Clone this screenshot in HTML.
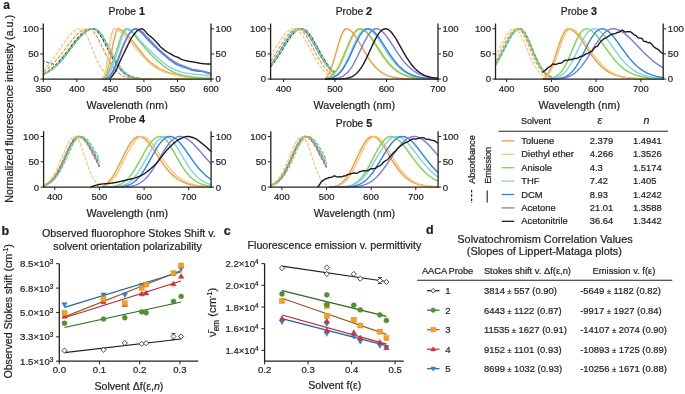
<!DOCTYPE html>
<html><head><meta charset="utf-8"><style>
html,body{margin:0;padding:0;background:#fff;}
svg{display:block;font-family:"Liberation Sans",sans-serif;will-change:transform;}
</style></head><body>
<svg width="685" height="394" viewBox="0 0 685 394">
<rect width="685" height="394" fill="#fff"/>
<text x="3.20" y="9.30" font-size="12" font-weight="bold" fill="#231f20" stroke="#231f20" stroke-width="0.22">a</text>
<text x="12.90" y="108.80" font-size="10.7" text-anchor="middle" fill="#231f20" stroke="#231f20" stroke-width="0.22" transform="rotate(-90 12.9 108.8)">Normalized fluorescence intensity (a.u.)</text>
<path d="M43.3,74.0 L44.3,73.5 L45.3,73.0 L46.3,72.4 L47.3,71.8 L48.4,71.2 L49.4,70.5 L50.4,69.8 L51.4,69.0 L52.4,68.2 L53.4,67.3 L54.4,66.4 L55.4,65.4 L56.4,64.4 L57.4,63.4 L58.5,62.3 L59.5,61.2 L60.5,60.0 L61.5,58.8 L62.5,57.6 L63.5,56.4 L64.5,55.1 L65.5,53.8 L66.5,52.5 L67.5,51.1 L68.6,49.8 L69.6,48.4 L70.6,47.1 L71.6,45.7 L72.6,44.4 L73.6,43.1 L74.6,41.8 L75.6,40.5 L76.6,39.3 L77.6,38.1 L78.7,37.0 L79.7,35.9 L80.7,34.9 L81.7,33.9 L82.7,33.0 L83.7,32.2 L84.7,31.5 L85.7,30.8 L86.7,30.3 L87.8,29.8 L88.8,29.4 L89.8,29.1 L90.8,28.9 L91.8,28.8 L92.8,28.8 L93.8,29.1 L94.8,29.5 L95.8,30.1 L96.8,31.0 L97.9,32.0 L98.9,33.2 L99.9,34.5 L100.9,36.1 L101.9,37.7 L102.9,39.4 L103.9,41.3 L104.9,43.2 L105.9,45.1 L106.9,47.1 L108.0,49.1 L109.0,51.1 L110.0,53.0 L111.0,55.0 L112.0,56.9 L113.0,58.7 L114.0,60.4 L115.0,62.1 L116.0,63.7 L117.0,65.2 L118.1,66.6 L119.1,67.9 L120.1,69.2 L121.1,70.3 L122.1,71.3 L123.1,72.2 L124.1,73.1 L125.1,73.8 L126.1,74.5 L127.1,75.1 L128.2,75.7 L129.2,76.2 L130.2,76.6 L131.2,77.0 L132.2,77.3 L133.2,77.6 L134.2,77.8 L135.2,78.0 L136.2,78.2 L137.3,78.3 L138.3,78.5 L139.3,78.6 L140.3,78.7 L141.3,78.7 L142.3,78.8 L143.3,78.8 L144.3,78.9 L145.3,78.9 L146.3,78.9 L147.4,79.0 L148.4,79.0 L149.4,79.0 L150.4,79.0 L151.4,79.0 L152.4,79.0 L153.4,79.0 L154.4,79.0 L155.4,79.0 L156.4,79.0 L157.5,79.0 L158.5,79.0 L159.5,79.0 L160.5,79.0 L161.5,79.0 L162.5,79.0 L163.5,79.0 L164.5,79.0 L165.5,79.0 L166.5,79.0 L167.6,79.0 L168.6,79.0 L169.6,79.0 L170.6,79.0 L171.6,79.0 L172.6,79.0 L173.6,79.0 L174.6,79.0 L175.6,79.0 L176.7,79.0 L177.7,79.0 L178.7,79.0 L179.7,79.0 L180.7,79.0 L181.7,79.0 L182.7,79.0 L183.7,79.0 L184.7,79.0 L185.7,79.0 L186.8,79.0 L187.8,79.0 L188.8,79.0 L189.8,79.0 L190.8,79.0 L191.8,79.0 L192.8,79.0 L193.8,79.0 L194.8,79.0 L195.8,79.0 L196.9,79.0 L197.9,79.0 L198.9,79.0 L199.9,79.0 L200.9,79.0 L201.9,79.0 L202.9,79.0 L203.9,79.0 L204.9,79.0 L205.9,79.0 L207.0,79.0 L208.0,79.0 L209.0,79.0 L210.0,79.0 L211.0,79.0" fill="none" stroke="#1a1a1a" stroke-width="1.3" stroke-dasharray="3.4,1.5" stroke-dashoffset="0.0"/>
<path d="M43.3,74.6 L44.3,74.2 L45.3,73.7 L46.3,73.2 L47.3,72.6 L48.4,72.0 L49.4,71.4 L50.4,70.7 L51.4,70.0 L52.4,69.2 L53.4,68.4 L54.4,67.6 L55.4,66.7 L56.4,65.7 L57.4,64.8 L58.5,63.7 L59.5,62.7 L60.5,61.6 L61.5,60.4 L62.5,59.2 L63.5,58.0 L64.5,56.8 L65.5,55.5 L66.5,54.2 L67.5,52.9 L68.6,51.6 L69.6,50.2 L70.6,48.9 L71.6,47.5 L72.6,46.2 L73.6,44.8 L74.6,43.5 L75.6,42.2 L76.6,41.0 L77.6,39.7 L78.7,38.5 L79.7,37.4 L80.7,36.3 L81.7,35.2 L82.7,34.2 L83.7,33.3 L84.7,32.5 L85.7,31.7 L86.7,31.0 L87.8,30.4 L88.8,29.9 L89.8,29.5 L90.8,29.2 L91.8,29.0 L92.8,28.8 L93.8,28.8 L94.8,29.0 L95.8,29.4 L96.8,30.0 L97.9,30.8 L98.9,31.9 L99.9,33.1 L100.9,34.5 L101.9,36.1 L102.9,37.8 L103.9,39.7 L104.9,41.6 L105.9,43.6 L106.9,45.6 L108.0,47.7 L109.0,49.8 L110.0,51.9 L111.0,53.9 L112.0,55.9 L113.0,57.9 L114.0,59.7 L115.0,61.5 L116.0,63.2 L117.0,64.8 L118.1,66.3 L119.1,67.7 L120.1,69.0 L121.1,70.2 L122.1,71.3 L123.1,72.2 L124.1,73.1 L125.1,73.9 L126.1,74.6 L127.1,75.3 L128.2,75.8 L129.2,76.3 L130.2,76.7 L131.2,77.1 L132.2,77.4 L133.2,77.7 L134.2,77.9 L135.2,78.1 L136.2,78.3 L137.3,78.4 L138.3,78.5 L139.3,78.6 L140.3,78.7 L141.3,78.8 L142.3,78.8 L143.3,78.9 L144.3,78.9 L145.3,78.9 L146.3,79.0 L147.4,79.0 L148.4,79.0 L149.4,79.0 L150.4,79.0 L151.4,79.0 L152.4,79.0 L153.4,79.0 L154.4,79.0 L155.4,79.0 L156.4,79.0 L157.5,79.0 L158.5,79.0 L159.5,79.0 L160.5,79.0 L161.5,79.0 L162.5,79.0 L163.5,79.0 L164.5,79.0 L165.5,79.0 L166.5,79.0 L167.6,79.0 L168.6,79.0 L169.6,79.0 L170.6,79.0 L171.6,79.0 L172.6,79.0 L173.6,79.0 L174.6,79.0 L175.6,79.0 L176.7,79.0 L177.7,79.0 L178.7,79.0 L179.7,79.0 L180.7,79.0 L181.7,79.0 L182.7,79.0 L183.7,79.0 L184.7,79.0 L185.7,79.0 L186.8,79.0 L187.8,79.0 L188.8,79.0 L189.8,79.0 L190.8,79.0 L191.8,79.0 L192.8,79.0 L193.8,79.0 L194.8,79.0 L195.8,79.0 L196.9,79.0 L197.9,79.0 L198.9,79.0 L199.9,79.0 L200.9,79.0 L201.9,79.0 L202.9,79.0 L203.9,79.0 L204.9,79.0 L205.9,79.0 L207.0,79.0 L208.0,79.0 L209.0,79.0 L210.0,79.0 L211.0,79.0" fill="none" stroke="#7b78e6" stroke-width="1.3" stroke-dasharray="3.4,1.5" stroke-dashoffset="0.9"/>
<path d="M43.3,61.0 L44.3,61.3 L45.3,61.6 L46.3,62.0 L47.3,62.3 L48.4,62.7 L49.4,63.0 L50.4,63.3 L51.4,63.7 L52.4,64.0 L53.4,64.4 L54.4,64.7 L55.4,65.0 L56.4,65.4 L57.4,64.8 L58.5,63.7 L59.5,62.7 L60.5,61.6 L61.5,60.4 L62.5,59.2 L63.5,58.0 L64.5,56.8 L65.5,55.5 L66.5,54.2 L67.5,52.9 L68.6,51.6 L69.6,50.2 L70.6,48.9 L71.6,47.5 L72.6,46.2 L73.6,44.8 L74.6,43.5 L75.6,42.2 L76.6,41.0 L77.6,39.7 L78.7,38.5 L79.7,37.4 L80.7,36.3 L81.7,35.2 L82.7,34.2 L83.7,33.3 L84.7,32.5 L85.7,31.7 L86.7,31.0 L87.8,30.4 L88.8,29.9 L89.8,29.5 L90.8,29.2 L91.8,29.0 L92.8,28.8 L93.8,28.8 L94.8,29.0 L95.8,29.3 L96.8,29.9 L97.9,30.7 L98.9,31.6 L99.9,32.8 L100.9,34.1 L101.9,35.5 L102.9,37.1 L103.9,38.8 L104.9,40.6 L105.9,42.5 L106.9,44.5 L108.0,46.4 L109.0,48.4 L110.0,50.4 L111.0,52.4 L112.0,54.3 L113.0,56.3 L114.0,58.1 L115.0,59.9 L116.0,61.6 L117.0,63.2 L118.1,64.7 L119.1,66.2 L120.1,67.5 L121.1,68.8 L122.1,69.9 L123.1,71.0 L124.1,71.9 L125.1,72.8 L126.1,73.6 L127.1,74.3 L128.2,75.0 L129.2,75.5 L130.2,76.0 L131.2,76.5 L132.2,76.8 L133.2,77.2 L134.2,77.5 L135.2,77.7 L136.2,77.9 L137.3,78.1 L138.3,78.3 L139.3,78.4 L140.3,78.5 L141.3,78.6 L142.3,78.7 L143.3,78.8 L144.3,78.8 L145.3,78.9 L146.3,78.9 L147.4,78.9 L148.4,79.0 L149.4,79.0 L150.4,79.0 L151.4,79.0 L152.4,79.0 L153.4,79.0 L154.4,79.0 L155.4,79.0 L156.4,79.0 L157.5,79.0 L158.5,79.0 L159.5,79.0 L160.5,79.0 L161.5,79.0 L162.5,79.0 L163.5,79.0 L164.5,79.0 L165.5,79.0 L166.5,79.0 L167.6,79.0 L168.6,79.0 L169.6,79.0 L170.6,79.0 L171.6,79.0 L172.6,79.0 L173.6,79.0 L174.6,79.0 L175.6,79.0 L176.7,79.0 L177.7,79.0 L178.7,79.0 L179.7,79.0 L180.7,79.0 L181.7,79.0 L182.7,79.0 L183.7,79.0 L184.7,79.0 L185.7,79.0 L186.8,79.0 L187.8,79.0 L188.8,79.0 L189.8,79.0 L190.8,79.0 L191.8,79.0 L192.8,79.0 L193.8,79.0 L194.8,79.0 L195.8,79.0 L196.9,79.0 L197.9,79.0 L198.9,79.0 L199.9,79.0 L200.9,79.0 L201.9,79.0 L202.9,79.0 L203.9,79.0 L204.9,79.0 L205.9,79.0 L207.0,79.0 L208.0,79.0 L209.0,79.0 L210.0,79.0 L211.0,79.0" fill="none" stroke="#2d84dc" stroke-width="1.3" stroke-dasharray="3.4,1.5" stroke-dashoffset="1.8"/>
<path d="M43.3,74.3 L44.3,73.9 L45.3,73.4 L46.3,72.8 L47.3,72.2 L48.4,71.6 L49.4,71.0 L50.4,70.2 L51.4,69.5 L52.4,68.7 L53.4,67.9 L54.4,67.0 L55.4,66.1 L56.4,65.1 L57.4,64.1 L58.5,63.0 L59.5,61.9 L60.5,60.8 L61.5,59.6 L62.5,58.4 L63.5,57.2 L64.5,55.9 L65.5,54.6 L66.5,53.3 L67.5,52.0 L68.6,50.7 L69.6,49.3 L70.6,48.0 L71.6,46.6 L72.6,45.3 L73.6,44.0 L74.6,42.7 L75.6,41.4 L76.6,40.1 L77.6,38.9 L78.7,37.7 L79.7,36.6 L80.7,35.6 L81.7,34.6 L82.7,33.6 L83.7,32.8 L84.7,32.0 L85.7,31.2 L86.7,30.6 L87.8,30.1 L88.8,29.6 L89.8,29.3 L90.8,29.0 L91.8,28.9 L92.8,28.8 L93.8,28.9 L94.8,29.2 L95.8,29.7 L96.8,30.4 L97.9,31.3 L98.9,32.4 L99.9,33.6 L100.9,35.0 L101.9,36.6 L102.9,38.3 L103.9,40.0 L104.9,41.9 L105.9,43.8 L106.9,45.8 L108.0,47.8 L109.0,49.8 L110.0,51.7 L111.0,53.7 L112.0,55.6 L113.0,57.5 L114.0,59.3 L115.0,61.0 L116.0,62.7 L117.0,64.2 L118.1,65.7 L119.1,67.1 L120.1,68.4 L121.1,69.5 L122.1,70.6 L123.1,71.6 L124.1,72.5 L125.1,73.4 L126.1,74.1 L127.1,74.8 L128.2,75.3 L129.2,75.9 L130.2,76.3 L131.2,76.7 L132.2,77.1 L133.2,77.4 L134.2,77.6 L135.2,77.9 L136.2,78.1 L137.3,78.2 L138.3,78.4 L139.3,78.5 L140.3,78.6 L141.3,78.7 L142.3,78.7 L143.3,78.8 L144.3,78.9 L145.3,78.9 L146.3,78.9 L147.4,79.0 L148.4,79.0 L149.4,79.0 L150.4,79.0 L151.4,79.0 L152.4,79.0 L153.4,79.0 L154.4,79.0 L155.4,79.0 L156.4,79.0 L157.5,79.0 L158.5,79.0 L159.5,79.0 L160.5,79.0 L161.5,79.0 L162.5,79.0 L163.5,79.0 L164.5,79.0 L165.5,79.0 L166.5,79.0 L167.6,79.0 L168.6,79.0 L169.6,79.0 L170.6,79.0 L171.6,79.0 L172.6,79.0 L173.6,79.0 L174.6,79.0 L175.6,79.0 L176.7,79.0 L177.7,79.0 L178.7,79.0 L179.7,79.0 L180.7,79.0 L181.7,79.0 L182.7,79.0 L183.7,79.0 L184.7,79.0 L185.7,79.0 L186.8,79.0 L187.8,79.0 L188.8,79.0 L189.8,79.0 L190.8,79.0 L191.8,79.0 L192.8,79.0 L193.8,79.0 L194.8,79.0 L195.8,79.0 L196.9,79.0 L197.9,79.0 L198.9,79.0 L199.9,79.0 L200.9,79.0 L201.9,79.0 L202.9,79.0 L203.9,79.0 L204.9,79.0 L205.9,79.0 L207.0,79.0 L208.0,79.0 L209.0,79.0 L210.0,79.0 L211.0,79.0" fill="none" stroke="#7fcff2" stroke-width="1.3" stroke-dasharray="3.4,1.5" stroke-dashoffset="2.7"/>
<path d="M43.3,74.3 L44.3,73.8 L45.3,73.3 L46.3,72.8 L47.3,72.2 L48.4,71.6 L49.4,71.0 L50.4,70.3 L51.4,69.6 L52.4,68.8 L53.4,68.0 L54.4,67.2 L55.4,66.3 L56.4,65.3 L57.4,64.4 L58.5,63.4 L59.5,62.3 L60.5,61.2 L61.5,60.1 L62.5,59.0 L63.5,57.8 L64.5,56.6 L65.5,55.3 L66.5,54.1 L67.5,52.8 L68.6,51.5 L69.6,50.2 L70.6,48.9 L71.6,47.6 L72.6,46.2 L73.6,44.9 L74.6,43.7 L75.6,42.4 L76.6,41.2 L77.6,40.0 L78.7,38.8 L79.7,37.6 L80.7,36.6 L81.7,35.5 L82.7,34.6 L83.7,33.6 L84.7,32.8 L85.7,32.0 L86.7,31.3 L87.8,30.7 L88.8,30.2 L89.8,29.7 L90.8,29.4 L91.8,29.1 L92.8,28.9 L93.8,28.8 L94.8,28.8 L95.8,29.1 L96.8,29.5 L97.9,30.1 L98.9,31.0 L99.9,32.0 L100.9,33.2 L101.9,34.6 L102.9,36.1 L103.9,37.7 L104.9,39.4 L105.9,41.3 L106.9,43.2 L108.0,45.1 L109.0,47.1 L110.0,49.1 L111.0,51.1 L112.0,53.1 L113.0,55.0 L114.0,56.9 L115.0,58.7 L116.0,60.5 L117.0,62.1 L118.1,63.7 L119.1,65.2 L120.1,66.6 L121.1,67.9 L122.1,69.2 L123.1,70.3 L124.1,71.3 L125.1,72.2 L126.1,73.1 L127.1,73.9 L128.2,74.5 L129.2,75.2 L130.2,75.7 L131.2,76.2 L132.2,76.6 L133.2,77.0 L134.2,77.3 L135.2,77.6 L136.2,77.8 L137.3,78.0 L138.3,78.2 L139.3,78.3 L140.3,78.5 L141.3,78.6 L142.3,78.7 L143.3,78.7 L144.3,78.8 L145.3,78.8 L146.3,78.9 L147.4,78.9 L148.4,78.9 L149.4,79.0 L150.4,79.0 L151.4,79.0 L152.4,79.0 L153.4,79.0 L154.4,79.0 L155.4,79.0 L156.4,79.0 L157.5,79.0 L158.5,79.0 L159.5,79.0 L160.5,79.0 L161.5,79.0 L162.5,79.0 L163.5,79.0 L164.5,79.0 L165.5,79.0 L166.5,79.0 L167.6,79.0 L168.6,79.0 L169.6,79.0 L170.6,79.0 L171.6,79.0 L172.6,79.0 L173.6,79.0 L174.6,79.0 L175.6,79.0 L176.7,79.0 L177.7,79.0 L178.7,79.0 L179.7,79.0 L180.7,79.0 L181.7,79.0 L182.7,79.0 L183.7,79.0 L184.7,79.0 L185.7,79.0 L186.8,79.0 L187.8,79.0 L188.8,79.0 L189.8,79.0 L190.8,79.0 L191.8,79.0 L192.8,79.0 L193.8,79.0 L194.8,79.0 L195.8,79.0 L196.9,79.0 L197.9,79.0 L198.9,79.0 L199.9,79.0 L200.9,79.0 L201.9,79.0 L202.9,79.0 L203.9,79.0 L204.9,79.0 L205.9,79.0 L207.0,79.0 L208.0,79.0 L209.0,79.0 L210.0,79.0 L211.0,79.0" fill="none" stroke="#78d64b" stroke-width="1.3" stroke-dasharray="3.4,1.5" stroke-dashoffset="3.6"/>
<path d="M43.3,71.8 L44.3,71.2 L45.3,70.5 L46.3,69.8 L47.3,69.0 L48.4,68.2 L49.4,67.3 L50.4,66.4 L51.4,65.4 L52.4,64.4 L53.4,63.4 L54.4,62.3 L55.4,61.2 L56.4,60.1 L57.4,58.9 L58.5,57.6 L59.5,56.4 L60.5,55.1 L61.5,53.8 L62.5,52.5 L63.5,51.1 L64.5,49.8 L65.5,48.5 L66.5,47.1 L67.5,45.8 L68.6,44.4 L69.6,43.1 L70.6,41.8 L71.6,40.6 L72.6,39.3 L73.6,38.2 L74.6,37.0 L75.6,35.9 L76.6,34.9 L77.6,33.9 L78.7,33.0 L79.7,32.2 L80.7,31.5 L81.7,30.8 L82.7,30.3 L83.7,29.8 L84.7,29.4 L85.7,29.1 L86.7,28.9 L87.8,28.8 L88.8,28.8 L89.8,29.1 L90.8,29.5 L91.8,30.2 L92.8,31.1 L93.8,32.3 L94.8,33.6 L95.8,35.0 L96.8,36.6 L97.9,38.4 L98.9,40.3 L99.9,42.2 L100.9,44.2 L101.9,46.3 L102.9,48.4 L103.9,50.5 L104.9,52.5 L105.9,54.6 L106.9,56.5 L108.0,58.5 L109.0,60.3 L110.0,62.1 L111.0,63.7 L112.0,65.3 L113.0,66.8 L114.0,68.1 L115.0,69.4 L116.0,70.5 L117.0,71.6 L118.1,72.5 L119.1,73.4 L120.1,74.1 L121.1,74.8 L122.1,75.4 L123.1,76.0 L124.1,76.4 L125.1,76.8 L126.1,77.2 L127.1,77.5 L128.2,77.8 L129.2,78.0 L130.2,78.2 L131.2,78.3 L132.2,78.5 L133.2,78.6 L134.2,78.7 L135.2,78.7 L136.2,78.8 L137.3,78.8 L138.3,78.9 L139.3,78.9 L140.3,78.9 L141.3,79.0 L142.3,79.0 L143.3,79.0 L144.3,79.0 L145.3,79.0 L146.3,79.0 L147.4,79.0 L148.4,79.0 L149.4,79.0 L150.4,79.0 L151.4,79.0 L152.4,79.0 L153.4,79.0 L154.4,79.0 L155.4,79.0 L156.4,79.0 L157.5,79.0 L158.5,79.0 L159.5,79.0 L160.5,79.0 L161.5,79.0 L162.5,79.0 L163.5,79.0 L164.5,79.0 L165.5,79.0 L166.5,79.0 L167.6,79.0 L168.6,79.0 L169.6,79.0 L170.6,79.0 L171.6,79.0 L172.6,79.0 L173.6,79.0 L174.6,79.0 L175.6,79.0 L176.7,79.0 L177.7,79.0 L178.7,79.0 L179.7,79.0 L180.7,79.0 L181.7,79.0 L182.7,79.0 L183.7,79.0 L184.7,79.0 L185.7,79.0 L186.8,79.0 L187.8,79.0 L188.8,79.0 L189.8,79.0 L190.8,79.0 L191.8,79.0 L192.8,79.0 L193.8,79.0 L194.8,79.0 L195.8,79.0 L196.9,79.0 L197.9,79.0 L198.9,79.0 L199.9,79.0 L200.9,79.0 L201.9,79.0 L202.9,79.0 L203.9,79.0 L204.9,79.0 L205.9,79.0 L207.0,79.0 L208.0,79.0 L209.0,79.0 L210.0,79.0 L211.0,79.0" fill="none" stroke="#f29a3c" stroke-width="1.3" stroke-dasharray="3.4,1.5" stroke-dashoffset="4.5"/>
<path d="M43.3,69.7 L44.3,68.8 L45.3,67.9 L46.3,66.9 L47.3,65.8 L48.4,64.7 L49.4,63.5 L50.4,62.3 L51.4,61.0 L52.4,59.7 L53.4,58.3 L54.4,56.9 L55.4,55.5 L56.4,54.0 L57.4,52.5 L58.5,51.0 L59.5,49.5 L60.5,48.0 L61.5,46.4 L62.5,44.9 L63.5,43.4 L64.5,42.0 L65.5,40.5 L66.5,39.1 L67.5,37.8 L68.6,36.5 L69.6,35.3 L70.6,34.2 L71.6,33.2 L72.6,32.3 L73.6,31.4 L74.6,30.7 L75.6,30.1 L76.6,29.6 L77.6,29.2 L78.7,28.9 L79.7,28.8 L80.7,28.8 L81.7,29.2 L82.7,29.9 L83.7,30.9 L84.7,32.2 L85.7,33.8 L86.7,35.7 L87.8,37.7 L88.8,40.0 L89.8,42.4 L90.8,44.8 L91.8,47.4 L92.8,49.9 L93.8,52.4 L94.8,54.9 L95.8,57.3 L96.8,59.6 L97.9,61.8 L98.9,63.8 L99.9,65.7 L100.9,67.5 L101.9,69.1 L102.9,70.5 L103.9,71.8 L104.9,72.9 L105.9,73.9 L106.9,74.7 L108.0,75.5 L109.0,76.1 L110.0,76.7 L111.0,77.1 L112.0,77.5 L113.0,77.8 L114.0,78.1 L115.0,78.3 L116.0,78.4 L117.0,78.6 L118.1,78.7 L119.1,78.8 L120.1,78.8 L121.1,78.9 L122.1,78.9 L123.1,79.0 L124.1,79.0 L125.1,79.0 L126.1,79.0 L127.1,79.0 L128.2,79.0 L129.2,79.0 L130.2,79.0 L131.2,79.0 L132.2,79.0 L133.2,79.0 L134.2,79.0 L135.2,79.0 L136.2,79.0 L137.3,79.0 L138.3,79.0 L139.3,79.0 L140.3,79.0 L141.3,79.0 L142.3,79.0 L143.3,79.0 L144.3,79.0 L145.3,79.0 L146.3,79.0 L147.4,79.0 L148.4,79.0 L149.4,79.0 L150.4,79.0 L151.4,79.0 L152.4,79.0 L153.4,79.0 L154.4,79.0 L155.4,79.0 L156.4,79.0 L157.5,79.0 L158.5,79.0 L159.5,79.0 L160.5,79.0 L161.5,79.0 L162.5,79.0 L163.5,79.0 L164.5,79.0 L165.5,79.0 L166.5,79.0 L167.6,79.0 L168.6,79.0 L169.6,79.0 L170.6,79.0 L171.6,79.0 L172.6,79.0 L173.6,79.0 L174.6,79.0 L175.6,79.0 L176.7,79.0 L177.7,79.0 L178.7,79.0 L179.7,79.0 L180.7,79.0 L181.7,79.0 L182.7,79.0 L183.7,79.0 L184.7,79.0 L185.7,79.0 L186.8,79.0 L187.8,79.0 L188.8,79.0 L189.8,79.0 L190.8,79.0 L191.8,79.0 L192.8,79.0 L193.8,79.0 L194.8,79.0 L195.8,79.0 L196.9,79.0 L197.9,79.0 L198.9,79.0 L199.9,79.0 L200.9,79.0 L201.9,79.0 L202.9,79.0 L203.9,79.0 L204.9,79.0 L205.9,79.0 L207.0,79.0 L208.0,79.0 L209.0,79.0 L210.0,79.0 L211.0,79.0" fill="none" stroke="#f6c878" stroke-width="1.3" stroke-dasharray="3.4,1.5" stroke-dashoffset="5.4"/>
<path d="M101.66,79.05 L102.50,78.88 L103.34,78.42 L104.18,77.71 L105.02,76.82 L105.86,75.78 L106.71,73.80 L107.55,70.84 L108.39,67.28 L109.23,63.53 L110.07,59.86 L110.91,55.64 L111.75,51.06 L112.59,46.57 L113.43,42.58 L114.28,39.18 L115.12,35.64 L115.96,32.38 L116.80,29.93 L117.64,28.82 L118.48,28.87 L119.32,29.10 L120.16,29.47 L121.00,29.93 L121.85,30.47 L122.69,31.05 L123.53,31.63 L124.37,32.23 L125.21,32.95 L126.05,33.77 L126.89,34.66 L127.73,35.62 L128.57,36.60 L129.42,37.59 L130.26,38.57 L131.10,39.53 L131.94,40.51 L132.78,41.52 L133.62,42.54 L134.46,43.59 L135.30,44.64 L136.14,45.70 L136.98,46.77 L137.83,47.83 L138.67,48.88 L139.51,49.93 L140.35,50.97 L141.19,52.04 L142.03,53.14 L142.87,54.24 L143.71,55.32 L144.55,56.39 L145.40,57.41 L146.24,58.37 L147.08,59.26 L147.92,60.07 L148.76,60.85 L149.60,61.59 L150.44,62.30 L151.28,62.98 L152.12,63.64 L152.97,64.27 L153.81,64.88 L154.65,65.48 L155.49,66.06 L156.33,66.64 L157.17,67.21 L158.01,67.75 L158.85,68.28 L159.69,68.78 L160.54,69.25 L161.38,69.69 L162.22,70.09 L163.06,70.46 L163.90,70.81 L164.74,71.14 L165.58,71.45 L166.42,71.75 L167.26,72.05 L168.10,72.33 L168.95,72.61 L169.79,72.90 L170.63,73.18 L171.47,73.46 L172.31,73.73 L173.15,74.00 L173.99,74.26 L174.83,74.51 L175.67,74.74 L176.52,74.96 L177.36,75.17 L178.20,75.37 L179.04,75.56 L179.88,75.75 L180.72,75.92 L181.56,76.09 L182.40,76.25 L183.24,76.39 L184.09,76.53 L184.93,76.65 L185.77,76.77 L186.61,76.89 L187.45,77.01 L188.29,77.12 L189.13,77.23 L189.97,77.34 L190.81,77.44 L191.66,77.54 L192.50,77.63 L193.34,77.71 L194.18,77.79 L195.02,77.87 L195.86,77.93 L196.70,77.99 L197.54,78.04 L198.38,78.09 L199.22,78.14 L200.07,78.18 L200.91,78.23 L201.75,78.27 L202.59,78.31 L203.43,78.35 L204.27,78.39 L205.11,78.42 L205.95,78.45 L206.79,78.48 L207.64,78.50 L208.48,78.52 L209.32,78.54 L210.16,78.54 L211.00,78.55" fill="none" stroke="#f29a3c" stroke-width="1.4" stroke-linejoin="round"/>
<path d="M100.99,79.05 L101.83,78.72 L102.67,77.84 L103.51,76.55 L104.35,75.02 L105.19,72.44 L106.03,68.35 L106.87,63.33 L107.71,57.98 L108.55,52.82 L109.39,46.76 L110.23,40.62 L111.07,36.29 L111.91,33.50 L112.75,31.09 L113.59,29.41 L114.43,28.80 L115.27,28.89 L116.10,29.14 L116.94,29.52 L117.78,30.00 L118.62,30.55 L119.46,31.15 L120.30,31.75 L121.14,32.34 L121.98,32.96 L122.82,33.65 L123.66,34.42 L124.50,35.24 L125.34,36.11 L126.18,37.02 L127.02,37.95 L127.86,38.90 L128.70,39.85 L129.54,40.80 L130.38,41.73 L131.22,42.66 L132.06,43.61 L132.90,44.59 L133.74,45.59 L134.58,46.60 L135.42,47.61 L136.26,48.63 L137.10,49.64 L137.94,50.65 L138.78,51.64 L139.62,52.61 L140.46,53.56 L141.30,54.52 L142.14,55.48 L142.98,56.44 L143.82,57.38 L144.66,58.30 L145.50,59.20 L146.34,60.05 L147.18,60.87 L148.02,61.65 L148.86,62.41 L149.70,63.15 L150.54,63.88 L151.38,64.57 L152.22,65.24 L153.06,65.88 L153.89,66.48 L154.73,67.04 L155.57,67.58 L156.41,68.10 L157.25,68.60 L158.09,69.08 L158.93,69.54 L159.77,69.97 L160.61,70.38 L161.45,70.76 L162.29,71.12 L163.13,71.46 L163.97,71.78 L164.81,72.08 L165.65,72.38 L166.49,72.65 L167.33,72.92 L168.17,73.17 L169.01,73.41 L169.85,73.64 L170.69,73.87 L171.53,74.09 L172.37,74.31 L173.21,74.53 L174.05,74.74 L174.89,74.94 L175.73,75.14 L176.57,75.34 L177.41,75.53 L178.25,75.71 L179.09,75.89 L179.93,76.05 L180.77,76.22 L181.61,76.37 L182.45,76.52 L183.29,76.65 L184.13,76.78 L184.97,76.91 L185.81,77.03 L186.65,77.15 L187.49,77.26 L188.33,77.38 L189.17,77.49 L190.01,77.59 L190.85,77.69 L191.69,77.79 L192.52,77.88 L193.36,77.97 L194.20,78.05 L195.04,78.12 L195.88,78.18 L196.72,78.24 L197.56,78.30 L198.40,78.34 L199.24,78.39 L200.08,78.44 L200.92,78.48 L201.76,78.52 L202.60,78.57 L203.44,78.60 L204.28,78.64 L205.12,78.68 L205.96,78.71 L206.80,78.73 L207.64,78.76 L208.48,78.77 L209.32,78.79 L210.16,78.80 L211.00,78.80" fill="none" stroke="#f6c878" stroke-width="1.4" stroke-linejoin="round"/>
<path d="M102.33,79.05 L103.17,78.80 L104.02,78.28 L104.86,77.54 L105.70,76.64 L106.54,75.63 L107.38,74.53 L108.23,72.98 L109.07,71.04 L109.91,68.84 L110.75,66.55 L111.60,64.30 L112.44,62.10 L113.28,59.82 L114.12,57.47 L114.97,55.06 L115.81,52.62 L116.65,50.17 L117.49,47.68 L118.34,44.98 L119.18,42.17 L120.02,39.45 L120.86,37.00 L121.71,34.99 L122.55,33.27 L123.39,31.57 L124.23,30.11 L125.08,29.11 L125.92,28.80 L126.76,28.94 L127.60,29.26 L128.44,29.73 L129.29,30.30 L130.13,30.95 L130.97,31.63 L131.81,32.29 L132.66,33.01 L133.50,33.85 L134.34,34.79 L135.18,35.81 L136.03,36.89 L136.87,38.00 L137.71,39.11 L138.55,40.21 L139.40,41.27 L140.24,42.27 L141.08,43.26 L141.92,44.26 L142.77,45.25 L143.61,46.24 L144.45,47.23 L145.29,48.20 L146.14,49.15 L146.98,50.08 L147.82,51.00 L148.66,51.90 L149.50,52.79 L150.35,53.67 L151.19,54.53 L152.03,55.39 L152.87,56.22 L153.72,57.05 L154.56,57.86 L155.40,58.65 L156.24,59.44 L157.09,60.21 L157.93,60.97 L158.77,61.72 L159.61,62.45 L160.46,63.17 L161.30,63.88 L162.14,64.57 L162.98,65.25 L163.83,65.94 L164.67,66.62 L165.51,67.29 L166.35,67.94 L167.20,68.56 L168.04,69.14 L168.88,69.69 L169.72,70.19 L170.56,70.66 L171.41,71.12 L172.25,71.56 L173.09,71.98 L173.93,72.37 L174.78,72.74 L175.62,73.09 L176.46,73.41 L177.30,73.70 L178.15,73.97 L178.99,74.24 L179.83,74.48 L180.67,74.72 L181.52,74.94 L182.36,75.14 L183.20,75.33 L184.04,75.51 L184.89,75.67 L185.73,75.84 L186.57,76.00 L187.41,76.16 L188.26,76.32 L189.10,76.47 L189.94,76.62 L190.78,76.76 L191.62,76.89 L192.47,77.01 L193.31,77.13 L194.15,77.23 L194.99,77.33 L195.84,77.41 L196.68,77.48 L197.52,77.54 L198.36,77.59 L199.21,77.64 L200.05,77.69 L200.89,77.73 L201.73,77.78 L202.58,77.82 L203.42,77.86 L204.26,77.89 L205.10,77.93 L205.95,77.96 L206.79,77.98 L207.63,78.00 L208.47,78.02 L209.32,78.03 L210.16,78.04 L211.00,78.05" fill="none" stroke="#78d64b" stroke-width="1.4" stroke-linejoin="round"/>
<path d="M103.67,79.05 L104.52,78.74 L105.36,78.20 L106.21,77.46 L107.05,76.58 L107.90,75.60 L108.74,74.53 L109.59,73.10 L110.43,71.35 L111.28,69.35 L112.12,67.20 L112.97,64.97 L113.81,62.76 L114.66,60.45 L115.50,57.96 L116.35,55.35 L117.19,52.70 L118.04,50.08 L118.88,47.49 L119.73,44.69 L120.57,41.84 L121.42,39.11 L122.26,36.72 L123.11,34.86 L123.95,33.32 L124.80,31.83 L125.64,30.51 L126.49,29.49 L127.33,28.90 L128.18,28.82 L129.03,29.05 L129.87,29.48 L130.72,30.06 L131.56,30.75 L132.41,31.51 L133.25,32.28 L134.10,33.03 L134.94,33.91 L135.79,34.94 L136.63,36.06 L137.48,37.22 L138.32,38.38 L139.17,39.49 L140.01,40.49 L140.86,41.42 L141.70,42.32 L142.55,43.20 L143.39,44.06 L144.24,44.91 L145.08,45.74 L145.93,46.57 L146.77,47.40 L147.62,48.23 L148.46,49.06 L149.31,49.88 L150.15,50.70 L151.00,51.51 L151.84,52.31 L152.69,53.11 L153.53,53.90 L154.38,54.68 L155.22,55.45 L156.07,56.23 L156.91,57.00 L157.76,57.77 L158.60,58.53 L159.45,59.28 L160.29,60.01 L161.14,60.73 L161.98,61.42 L162.83,62.11 L163.67,62.80 L164.52,63.49 L165.36,64.16 L166.21,64.81 L167.05,65.44 L167.90,66.03 L168.74,66.59 L169.59,67.09 L170.44,67.57 L171.28,68.03 L172.13,68.47 L172.97,68.88 L173.82,69.28 L174.66,69.66 L175.51,70.01 L176.35,70.34 L177.20,70.66 L178.04,70.96 L178.89,71.25 L179.73,71.54 L180.58,71.80 L181.42,72.05 L182.27,72.29 L183.11,72.49 L183.96,72.68 L184.80,72.84 L185.65,72.99 L186.49,73.14 L187.34,73.28 L188.18,73.41 L189.03,73.53 L189.87,73.65 L190.72,73.76 L191.56,73.87 L192.41,73.98 L193.25,74.08 L194.10,74.17 L194.94,74.26 L195.79,74.35 L196.63,74.43 L197.48,74.52 L198.32,74.60 L199.17,74.68 L200.01,74.76 L200.86,74.83 L201.70,74.90 L202.55,74.98 L203.39,75.05 L204.24,75.11 L205.08,75.18 L205.93,75.24 L206.77,75.29 L207.62,75.35 L208.46,75.40 L209.31,75.45 L210.15,75.49 L211.00,75.53" fill="none" stroke="#7fcff2" stroke-width="1.4" stroke-linejoin="round"/>
<path d="M105.01,78.89 L105.85,78.75 L106.70,78.45 L107.54,77.96 L108.38,77.26 L109.22,76.39 L110.06,75.42 L110.90,74.35 L111.74,73.02 L112.58,71.45 L113.43,69.70 L114.27,67.84 L115.11,65.90 L115.95,63.93 L116.79,61.94 L117.63,59.94 L118.47,57.77 L119.31,55.52 L120.15,53.21 L121.00,50.90 L121.84,48.61 L122.68,46.40 L123.52,44.38 L124.36,42.59 L125.20,40.85 L126.04,39.19 L126.88,37.59 L127.72,36.05 L128.57,34.62 L129.41,33.33 L130.25,32.27 L131.09,31.43 L131.93,30.63 L132.77,29.90 L133.61,29.26 L134.45,28.78 L135.30,28.56 L136.14,28.67 L136.98,29.05 L137.82,29.64 L138.66,30.31 L139.50,30.98 L140.34,31.62 L141.18,32.36 L142.02,33.23 L142.87,34.18 L143.71,35.16 L144.55,36.13 L145.39,37.07 L146.23,37.99 L147.07,38.90 L147.91,39.77 L148.75,40.66 L149.60,41.54 L150.44,42.39 L151.28,43.21 L152.12,44.03 L152.96,44.87 L153.80,45.72 L154.64,46.54 L155.48,47.32 L156.32,48.09 L157.17,48.88 L158.01,49.69 L158.85,50.50 L159.69,51.29 L160.53,52.07 L161.37,52.84 L162.21,53.58 L163.05,54.24 L163.89,54.85 L164.74,55.46 L165.58,56.13 L166.42,56.88 L167.26,57.69 L168.10,58.48 L168.94,59.23 L169.78,59.90 L170.62,60.55 L171.47,61.19 L172.31,61.80 L173.15,62.39 L173.99,62.97 L174.83,63.55 L175.67,64.08 L176.51,64.51 L177.35,64.82 L178.19,65.09 L179.04,65.38 L179.88,65.73 L180.72,66.10 L181.56,66.46 L182.40,66.80 L183.24,67.13 L184.08,67.43 L184.92,67.71 L185.77,67.93 L186.61,68.10 L187.45,68.27 L188.29,68.51 L189.13,68.87 L189.97,69.32 L190.81,69.79 L191.65,70.16 L192.49,70.41 L193.34,70.56 L194.18,70.66 L195.02,70.76 L195.86,70.89 L196.70,71.06 L197.54,71.20 L198.38,71.27 L199.22,71.28 L200.06,71.28 L200.91,71.33 L201.75,71.44 L202.59,71.59 L203.43,71.76 L204.27,71.95 L205.11,72.20 L205.95,72.51 L206.79,72.84 L207.64,73.11 L208.48,73.31 L209.32,73.49 L210.16,73.71 L211.00,73.97" fill="none" stroke="#2d84dc" stroke-width="1.4" stroke-linejoin="round"/>
<path d="M105.68,79.28 L106.53,78.98 L107.37,78.46 L108.21,77.79 L109.05,76.99 L109.90,76.11 L110.74,75.19 L111.58,74.21 L112.42,73.00 L113.27,71.54 L114.11,69.85 L114.95,67.95 L115.79,65.90 L116.64,63.80 L117.48,61.75 L118.32,59.74 L119.16,57.60 L120.01,55.36 L120.85,53.04 L121.69,50.68 L122.53,48.32 L123.38,46.04 L124.22,43.95 L125.06,42.09 L125.90,40.33 L126.75,38.66 L127.59,37.06 L128.43,35.55 L129.28,34.15 L130.12,32.91 L130.96,31.89 L131.80,31.08 L132.65,30.32 L133.49,29.70 L134.33,29.25 L135.17,29.03 L136.02,29.02 L136.86,29.17 L137.70,29.39 L138.54,29.66 L139.39,29.99 L140.23,30.37 L141.07,30.82 L141.91,31.46 L142.76,32.28 L143.60,33.22 L144.44,34.22 L145.28,35.20 L146.13,36.13 L146.97,36.98 L147.81,37.76 L148.65,38.53 L149.50,39.36 L150.34,40.25 L151.18,41.17 L152.02,42.09 L152.87,42.98 L153.71,43.86 L154.55,44.73 L155.39,45.60 L156.24,46.50 L157.08,47.41 L157.92,48.29 L158.76,49.11 L159.61,49.86 L160.45,50.55 L161.29,51.24 L162.13,51.98 L162.98,52.76 L163.82,53.54 L164.66,54.29 L165.50,55.03 L166.35,55.76 L167.19,56.48 L168.03,57.16 L168.87,57.80 L169.72,58.39 L170.56,58.96 L171.40,59.54 L172.24,60.14 L173.09,60.76 L173.93,61.38 L174.77,61.95 L175.61,62.45 L176.46,62.91 L177.30,63.36 L178.14,63.81 L178.98,64.25 L179.83,64.63 L180.67,64.93 L181.51,65.22 L182.35,65.52 L183.20,65.85 L184.04,66.16 L184.88,66.46 L185.72,66.78 L186.57,67.13 L187.41,67.49 L188.25,67.84 L189.09,68.17 L189.94,68.47 L190.78,68.76 L191.62,69.06 L192.46,69.33 L193.31,69.55 L194.15,69.68 L194.99,69.74 L195.83,69.77 L196.68,69.84 L197.52,69.97 L198.36,70.15 L199.20,70.35 L200.05,70.56 L200.89,70.76 L201.73,70.93 L202.57,71.11 L203.42,71.29 L204.26,71.48 L205.10,71.67 L205.94,71.85 L206.79,72.06 L207.63,72.30 L208.47,72.57 L209.31,72.82 L210.16,73.06 L211.00,73.25" fill="none" stroke="#7b78e6" stroke-width="1.4" stroke-linejoin="round"/>
<path d="M109.04,79.40 L109.88,78.73 L110.72,77.90 L111.57,76.90 L112.41,75.76 L113.25,74.55 L114.09,73.32 L114.94,72.08 L115.78,70.68 L116.62,69.09 L117.46,67.30 L118.31,65.33 L119.15,63.31 L119.99,61.33 L120.84,59.47 L121.68,57.75 L122.52,56.03 L123.36,54.31 L124.21,52.59 L125.05,50.87 L125.89,49.14 L126.73,47.39 L127.58,45.65 L128.42,43.92 L129.26,42.17 L130.10,40.47 L130.95,38.89 L131.79,37.48 L132.63,36.22 L133.48,35.06 L134.32,34.01 L135.16,33.03 L136.00,32.04 L136.85,31.12 L137.69,30.34 L138.53,29.78 L139.37,29.40 L140.22,29.09 L141.06,28.89 L141.90,28.81 L142.74,29.01 L143.59,29.57 L144.43,30.39 L145.27,31.38 L146.12,32.41 L146.96,33.38 L147.80,34.17 L148.64,34.92 L149.49,35.61 L150.33,36.28 L151.17,36.97 L152.01,37.71 L152.86,38.52 L153.70,39.36 L154.54,40.19 L155.38,41.02 L156.23,41.87 L157.07,42.78 L157.91,43.75 L158.76,44.78 L159.60,45.79 L160.44,46.70 L161.28,47.50 L162.13,48.21 L162.97,48.90 L163.81,49.58 L164.65,50.24 L165.50,50.86 L166.34,51.44 L167.18,51.98 L168.02,52.49 L168.87,52.97 L169.71,53.43 L170.55,53.89 L171.40,54.36 L172.24,54.85 L173.08,55.34 L173.92,55.80 L174.77,56.19 L175.61,56.52 L176.45,56.82 L177.29,57.13 L178.14,57.49 L178.98,57.92 L179.82,58.40 L180.66,58.88 L181.51,59.30 L182.35,59.63 L183.19,59.88 L184.03,60.12 L184.88,60.36 L185.72,60.60 L186.56,60.80 L187.41,60.96 L188.25,61.11 L189.09,61.28 L189.93,61.46 L190.78,61.61 L191.62,61.71 L192.46,61.82 L193.30,61.94 L194.15,62.08 L194.99,62.23 L195.83,62.40 L196.67,62.58 L197.52,62.78 L198.36,62.98 L199.20,63.14 L200.05,63.28 L200.89,63.39 L201.73,63.48 L202.57,63.57 L203.42,63.69 L204.26,63.80 L205.10,63.88 L205.94,63.92 L206.79,63.95 L207.63,63.98 L208.47,64.01 L209.31,64.05 L210.16,64.06 L211.00,64.04" fill="none" stroke="#1a1a1a" stroke-width="1.4" stroke-linejoin="round"/>
<line x1="43.30" y1="23.52" x2="43.30" y2="79.65" stroke="#231f20" stroke-width="1.3"/>
<line x1="211.00" y1="23.52" x2="211.00" y2="79.65" stroke="#231f20" stroke-width="1.3"/>
<line x1="42.70" y1="79.05" x2="211.60" y2="79.05" stroke="#231f20" stroke-width="1.3"/>
<line x1="40.30" y1="79.05" x2="43.30" y2="79.05" stroke="#231f20" stroke-width="1"/>
<line x1="211.00" y1="79.05" x2="214.00" y2="79.05" stroke="#231f20" stroke-width="1"/>
<text x="38.80" y="82.45" font-size="9.6" text-anchor="end" fill="#231f20" stroke="#231f20" stroke-width="0.22">0</text>
<text x="215.60" y="82.45" font-size="9.6" fill="#231f20" stroke="#231f20" stroke-width="0.22">0</text>
<line x1="40.30" y1="53.92" x2="43.30" y2="53.92" stroke="#231f20" stroke-width="1"/>
<line x1="211.00" y1="53.92" x2="214.00" y2="53.92" stroke="#231f20" stroke-width="1"/>
<text x="38.80" y="57.32" font-size="9.6" text-anchor="end" fill="#231f20" stroke="#231f20" stroke-width="0.22">50</text>
<text x="215.60" y="57.32" font-size="9.6" fill="#231f20" stroke="#231f20" stroke-width="0.22">50</text>
<line x1="40.30" y1="28.80" x2="43.30" y2="28.80" stroke="#231f20" stroke-width="1"/>
<line x1="211.00" y1="28.80" x2="214.00" y2="28.80" stroke="#231f20" stroke-width="1"/>
<text x="38.80" y="32.20" font-size="9.6" text-anchor="end" fill="#231f20" stroke="#231f20" stroke-width="0.22">100</text>
<text x="215.60" y="32.20" font-size="9.6" fill="#231f20" stroke="#231f20" stroke-width="0.22">100</text>
<line x1="43.30" y1="79.05" x2="43.30" y2="82.05" stroke="#231f20" stroke-width="1"/>
<text x="43.30" y="91.85" font-size="9.4" text-anchor="middle" fill="#231f20" stroke="#231f20" stroke-width="0.22">350</text>
<line x1="76.84" y1="79.05" x2="76.84" y2="82.05" stroke="#231f20" stroke-width="1"/>
<text x="76.84" y="91.85" font-size="9.4" text-anchor="middle" fill="#231f20" stroke="#231f20" stroke-width="0.22">400</text>
<line x1="110.38" y1="79.05" x2="110.38" y2="82.05" stroke="#231f20" stroke-width="1"/>
<text x="110.38" y="91.85" font-size="9.4" text-anchor="middle" fill="#231f20" stroke="#231f20" stroke-width="0.22">450</text>
<line x1="143.92" y1="79.05" x2="143.92" y2="82.05" stroke="#231f20" stroke-width="1"/>
<text x="143.92" y="91.85" font-size="9.4" text-anchor="middle" fill="#231f20" stroke="#231f20" stroke-width="0.22">500</text>
<line x1="177.46" y1="79.05" x2="177.46" y2="82.05" stroke="#231f20" stroke-width="1"/>
<text x="177.46" y="91.85" font-size="9.4" text-anchor="middle" fill="#231f20" stroke="#231f20" stroke-width="0.22">550</text>
<line x1="211.00" y1="79.05" x2="211.00" y2="82.05" stroke="#231f20" stroke-width="1"/>
<text x="211.00" y="91.85" font-size="9.4" text-anchor="middle" fill="#231f20" stroke="#231f20" stroke-width="0.22">600</text>
<text x="126.75" y="14.85" font-size="10.3" text-anchor="middle" fill="#231f20" stroke="#231f20" stroke-width="0.22">Probe <tspan font-weight="bold" font-size="10.8">1</tspan></text>
<text x="127.15" y="108.65" font-size="10.75" text-anchor="middle" fill="#231f20" stroke="#231f20" stroke-width="0.22">Wavelength (nm)</text>
<rect x="80" y="109.4" width="96" height="4" fill="#fff"/>
<path d="M270.6,66.5 L271.6,65.3 L272.6,64.1 L273.7,62.8 L274.7,61.4 L275.7,60.0 L276.7,58.5 L277.8,56.9 L278.8,55.3 L279.8,53.7 L280.8,52.1 L281.8,50.4 L282.9,48.7 L283.9,47.1 L284.9,45.4 L285.9,43.7 L287.0,42.1 L288.0,40.5 L289.0,39.0 L290.0,37.6 L291.0,36.2 L292.1,34.9 L293.1,33.7 L294.1,32.6 L295.1,31.7 L296.1,30.9 L297.2,30.2 L298.2,29.6 L299.2,29.2 L300.2,28.9 L301.3,28.8 L302.3,28.9 L303.3,29.1 L304.3,29.5 L305.3,30.1 L306.4,30.9 L307.4,31.9 L308.4,33.0 L309.4,34.3 L310.5,35.7 L311.5,37.2 L312.5,38.8 L313.5,40.5 L314.5,42.3 L315.6,44.1 L316.6,46.0 L317.6,47.9 L318.6,49.8 L319.7,51.6 L320.7,53.5 L321.7,55.3 L322.7,57.1 L323.7,58.8 L324.8,60.5 L325.8,62.1 L326.8,63.6 L327.8,65.0 L328.9,66.4 L329.9,67.6 L330.9,68.8 L331.9,69.9 L332.9,70.9 L334.0,71.8 L335.0,72.7" fill="none" stroke="#1a1a1a" stroke-width="1.3" stroke-dasharray="3.4,1.5" stroke-dashoffset="0.0"/>
<path d="M270.6,64.7 L271.6,63.4 L272.6,62.1 L273.7,60.7 L274.7,59.2 L275.7,57.7 L276.7,56.1 L277.8,54.5 L278.8,52.9 L279.8,51.2 L280.8,49.6 L281.8,47.9 L282.9,46.2 L283.9,44.5 L284.9,42.9 L285.9,41.3 L287.0,39.8 L288.0,38.3 L289.0,36.9 L290.0,35.5 L291.0,34.3 L292.1,33.2 L293.1,32.1 L294.1,31.2 L295.1,30.5 L296.1,29.8 L297.2,29.4 L298.2,29.0 L299.2,28.8 L300.2,28.8 L301.3,29.0 L302.3,29.3 L303.3,29.8 L304.3,30.5 L305.3,31.4 L306.4,32.5 L307.4,33.7 L308.4,35.0 L309.4,36.5 L310.5,38.0 L311.5,39.7 L312.5,41.4 L313.5,43.2 L314.5,45.1 L315.6,47.0 L316.6,48.8 L317.6,50.7 L318.6,52.6 L319.7,54.4 L320.7,56.2 L321.7,58.0 L322.7,59.7 L323.7,61.3 L324.8,62.9 L325.8,64.3 L326.8,65.7 L327.8,67.0 L328.9,68.2 L329.9,69.4 L330.9,70.4 L331.9,71.4 L332.9,72.3 L334.0,73.1 L335.0,73.8" fill="none" stroke="#7b78e6" stroke-width="1.3" stroke-dasharray="3.4,1.5" stroke-dashoffset="0.9"/>
<path d="M270.6,65.1 L271.6,63.8 L272.6,62.4 L273.7,61.0 L274.7,59.5 L275.7,57.9 L276.7,56.3 L277.8,54.7 L278.8,53.0 L279.8,51.3 L280.8,49.6 L281.8,47.9 L282.9,46.1 L283.9,44.4 L284.9,42.7 L285.9,41.1 L287.0,39.5 L288.0,38.0 L289.0,36.6 L290.0,35.2 L291.0,34.0 L292.1,32.8 L293.1,31.8 L294.1,31.0 L295.1,30.2 L296.1,29.6 L297.2,29.2 L298.2,28.9 L299.2,28.8 L300.2,28.9 L301.3,29.1 L302.3,29.5 L303.3,30.1 L304.3,30.8 L305.3,31.7 L306.4,32.8 L307.4,34.0 L308.4,35.3 L309.4,36.8 L310.5,38.3 L311.5,39.9 L312.5,41.6 L313.5,43.4 L314.5,45.2 L315.6,47.0 L316.6,48.8 L317.6,50.7 L318.6,52.5 L319.7,54.3 L320.7,56.0 L321.7,57.7 L322.7,59.4 L323.7,61.0 L324.8,62.5 L325.8,63.9 L326.8,65.3 L327.8,66.6 L328.9,67.8 L329.9,68.9 L330.9,70.0 L331.9,70.9 L332.9,71.8 L334.0,72.7 L335.0,73.4" fill="none" stroke="#2d84dc" stroke-width="1.3" stroke-dasharray="3.4,1.5" stroke-dashoffset="1.8"/>
<path d="M270.6,65.3 L271.6,64.1 L272.6,62.8 L273.7,61.4 L274.7,59.9 L275.7,58.5 L276.7,56.9 L277.8,55.3 L278.8,53.7 L279.8,52.1 L280.8,50.4 L281.8,48.7 L282.9,47.0 L283.9,45.4 L284.9,43.7 L285.9,42.1 L287.0,40.5 L288.0,39.0 L289.0,37.6 L290.0,36.2 L291.0,34.9 L292.1,33.7 L293.1,32.6 L294.1,31.7 L295.1,30.8 L296.1,30.1 L297.2,29.6 L298.2,29.2 L299.2,28.9 L300.2,28.8 L301.3,28.9 L302.3,29.1 L303.3,29.5 L304.3,30.2 L305.3,30.9 L306.4,31.9 L307.4,33.0 L308.4,34.3 L309.4,35.7 L310.5,37.2 L311.5,38.8 L312.5,40.5 L313.5,42.3 L314.5,44.1 L315.6,46.0 L316.6,47.9 L317.6,49.8 L318.6,51.7 L319.7,53.5 L320.7,55.3 L321.7,57.1 L322.7,58.8 L323.7,60.5 L324.8,62.1 L325.8,63.6 L326.8,65.0 L327.8,66.4 L328.9,67.6 L329.9,68.8 L330.9,69.9 L331.9,70.9 L332.9,71.8 L334.0,72.7 L335.0,73.4" fill="none" stroke="#7fcff2" stroke-width="1.3" stroke-dasharray="3.4,1.5" stroke-dashoffset="2.7"/>
<path d="M270.6,66.1 L271.6,65.0 L272.6,63.7 L273.7,62.4 L274.7,61.1 L275.7,59.7 L276.7,58.2 L277.8,56.7 L278.8,55.2 L279.8,53.6 L280.8,52.0 L281.8,50.4 L282.9,48.7 L283.9,47.1 L284.9,45.5 L285.9,43.9 L287.0,42.3 L288.0,40.8 L289.0,39.3 L290.0,37.8 L291.0,36.5 L292.1,35.2 L293.1,34.0 L294.1,33.0 L295.1,32.0 L296.1,31.1 L297.2,30.4 L298.2,29.8 L299.2,29.3 L300.2,29.0 L301.3,28.8 L302.3,28.8 L303.3,29.0 L304.3,29.3 L305.3,29.9 L306.4,30.6 L307.4,31.6 L308.4,32.7 L309.4,33.9 L310.5,35.3 L311.5,36.9 L312.5,38.5 L313.5,40.3 L314.5,42.1 L315.6,44.0 L316.6,45.9 L317.6,47.9 L318.6,49.8 L319.7,51.7 L320.7,53.7 L321.7,55.5 L322.7,57.4 L323.7,59.1 L324.8,60.8 L325.8,62.5 L326.8,64.0 L327.8,65.4 L328.9,66.8 L329.9,68.1 L330.9,69.3 L331.9,70.3 L332.9,71.3 L334.0,72.3 L335.0,73.1" fill="none" stroke="#78d64b" stroke-width="1.3" stroke-dasharray="3.4,1.5" stroke-dashoffset="3.6"/>
<path d="M270.6,61.3 L271.6,59.9 L272.6,58.4 L273.7,56.9 L274.7,55.3 L275.7,53.7 L276.7,52.0 L277.8,50.4 L278.8,48.7 L279.8,47.0 L280.8,45.3 L281.8,43.7 L282.9,42.1 L283.9,40.5 L284.9,39.0 L285.9,37.5 L287.0,36.2 L288.0,34.9 L289.0,33.7 L290.0,32.6 L291.0,31.7 L292.1,30.8 L293.1,30.1 L294.1,29.6 L295.1,29.2 L296.1,28.9 L297.2,28.8 L298.2,28.9 L299.2,29.1 L300.2,29.6 L301.3,30.3 L302.3,31.1 L303.3,32.1 L304.3,33.3 L305.3,34.7 L306.4,36.2 L307.4,37.8 L308.4,39.5 L309.4,41.3 L310.5,43.1 L311.5,45.0 L312.5,47.0 L313.5,48.9 L314.5,50.8 L315.6,52.8 L316.6,54.7 L317.6,56.5 L318.6,58.3 L319.7,60.1 L320.7,61.7 L321.7,63.3 L322.7,64.8 L323.7,66.2 L324.8,67.5 L325.8,68.7 L326.8,69.9 L327.8,70.9 L328.9,71.8 L329.9,72.7 L330.9,73.5 L331.9,74.2 L332.9,74.8 L334.0,75.4 L335.0,75.9" fill="none" stroke="#f29a3c" stroke-width="1.3" stroke-dasharray="3.4,1.5" stroke-dashoffset="4.5"/>
<path d="M270.6,56.0 L271.6,54.4 L272.6,52.8 L273.7,51.1 L274.7,49.5 L275.7,47.8 L276.7,46.1 L277.8,44.5 L278.8,42.8 L279.8,41.2 L280.8,39.7 L281.8,38.2 L282.9,36.8 L283.9,35.5 L284.9,34.2 L285.9,33.1 L287.0,32.1 L288.0,31.2 L289.0,30.4 L290.0,29.8 L291.0,29.3 L292.1,29.0 L293.1,28.8 L294.1,28.8 L295.1,29.0 L296.1,29.4 L297.2,29.9 L298.2,30.7 L299.2,31.6 L300.2,32.7 L301.3,34.0 L302.3,35.4 L303.3,37.0 L304.3,38.6 L305.3,40.4 L306.4,42.2 L307.4,44.1 L308.4,46.0 L309.4,48.0 L310.5,49.9 L311.5,51.9 L312.5,53.8 L313.5,55.7 L314.5,57.5 L315.6,59.2 L316.6,60.9 L317.6,62.6 L318.6,64.1 L319.7,65.5 L320.7,66.9 L321.7,68.2 L322.7,69.3 L323.7,70.4 L324.8,71.4 L325.8,72.3 L326.8,73.1 L327.8,73.9 L328.9,74.5 L329.9,75.1 L330.9,75.7 L331.9,76.2 L332.9,76.6 L334.0,76.9 L335.0,77.3" fill="none" stroke="#f6c878" stroke-width="1.3" stroke-dasharray="3.4,1.5" stroke-dashoffset="5.4"/>
<path d="M325.20,79.05 L326.04,78.84 L326.88,78.59 L327.72,78.31 L328.57,77.97 L329.41,77.58 L330.25,77.13 L331.09,76.61 L331.93,76.02 L332.77,75.35 L333.62,74.59 L334.46,73.73 L335.30,72.78 L336.14,71.73 L336.98,70.58 L337.83,69.32 L338.67,67.95 L339.51,66.49 L340.35,64.91 L341.19,63.25 L342.03,61.49 L342.88,59.66 L343.72,57.75 L344.56,55.79 L345.40,53.78 L346.24,51.74 L347.09,49.69 L347.93,47.65 L348.77,45.62 L349.61,43.64 L350.45,41.72 L351.29,39.87 L352.14,38.12 L352.98,36.49 L353.82,34.97 L354.66,33.61 L355.50,32.39 L356.34,31.34 L357.19,30.47 L358.03,29.77 L358.87,29.26 L359.71,28.94 L360.55,28.80 L361.40,28.84 L362.24,28.99 L363.08,29.26 L363.92,29.65 L364.76,30.14 L365.60,30.74 L366.45,31.43 L367.29,32.21 L368.13,33.08 L368.97,34.03 L369.81,35.04 L370.66,36.12 L371.50,37.26 L372.34,38.44 L373.18,39.67 L374.02,40.93 L374.86,42.22 L375.71,43.53 L376.55,44.85 L377.39,46.18 L378.23,47.51 L379.07,48.84 L379.92,50.16 L380.76,51.47 L381.60,52.76 L382.44,54.03 L383.28,55.27 L384.12,56.49 L384.97,57.67 L385.81,58.83 L386.65,59.95 L387.49,61.03 L388.33,62.07 L389.18,63.07 L390.02,64.04 L390.86,64.96 L391.70,65.85 L392.54,66.69 L393.38,67.50 L394.23,68.27 L395.07,68.99 L395.91,69.68 L396.75,70.33 L397.59,70.95 L398.44,71.53 L399.28,72.08 L400.12,72.59 L400.96,73.07 L401.80,73.52 L402.64,73.94 L403.49,74.34 L404.33,74.71 L405.17,75.05 L406.01,75.37 L406.85,75.67 L407.70,75.95 L408.54,76.20 L409.38,76.44 L410.22,76.66 L411.06,76.86 L411.90,77.05 L412.75,77.22 L413.59,77.38 L414.43,77.53 L415.27,77.66 L416.11,77.78 L416.95,77.90 L417.80,78.00 L418.64,78.10 L419.48,78.18 L420.32,78.26 L421.16,78.34 L422.01,78.40 L422.85,78.46 L423.69,78.52 L424.53,78.57 L425.37,78.62 L426.21,78.66 L427.06,78.70 L427.90,78.73 L428.74,78.76 L429.58,78.79 L430.42,78.82 L431.27,78.84 L432.11,78.86 L432.95,78.88 L433.79,78.90 L434.63,78.91 L435.47,78.93 L436.32,78.94 L437.16,78.95 L438.00,78.96" fill="none" stroke="#f6c878" stroke-width="1.4" stroke-linejoin="round"/>
<path d="M325.20,79.05 L326.04,78.78 L326.88,78.47 L327.72,78.11 L328.57,77.70 L329.41,77.22 L330.25,76.68 L331.09,76.06 L331.93,75.35 L332.77,74.56 L333.62,73.68 L334.46,72.70 L335.30,71.62 L336.14,70.43 L336.98,69.14 L337.83,67.74 L338.67,66.24 L339.51,64.64 L340.35,62.95 L341.19,61.16 L342.03,59.31 L342.88,57.38 L343.72,55.40 L344.56,53.37 L345.40,51.33 L346.24,49.27 L347.09,47.22 L347.93,45.20 L348.77,43.23 L349.61,41.32 L350.45,39.49 L351.29,37.76 L352.14,36.15 L352.98,34.66 L353.82,33.33 L354.66,32.15 L355.50,31.13 L356.34,30.30 L357.19,29.64 L358.03,29.17 L358.87,28.89 L359.71,28.80 L360.55,28.86 L361.40,29.04 L362.24,29.34 L363.08,29.75 L363.92,30.26 L364.76,30.88 L365.60,31.60 L366.45,32.40 L367.29,33.29 L368.13,34.25 L368.97,35.28 L369.81,36.38 L370.66,37.52 L371.50,38.72 L372.34,39.95 L373.18,41.22 L374.02,42.51 L374.86,43.82 L375.71,45.15 L376.55,46.48 L377.39,47.81 L378.23,49.14 L379.07,50.46 L379.92,51.76 L380.76,53.05 L381.60,54.31 L382.44,55.55 L383.28,56.76 L384.12,57.93 L384.97,59.08 L385.81,60.19 L386.65,61.26 L387.49,62.30 L388.33,63.29 L389.18,64.25 L390.02,65.16 L390.86,66.04 L391.70,66.87 L392.54,67.67 L393.38,68.43 L394.23,69.15 L395.07,69.83 L395.91,70.47 L396.75,71.08 L397.59,71.65 L398.44,72.19 L399.28,72.69 L400.12,73.17 L400.96,73.61 L401.80,74.03 L402.64,74.42 L403.49,74.78 L404.33,75.12 L405.17,75.44 L406.01,75.73 L406.85,76.00 L407.70,76.25 L408.54,76.48 L409.38,76.70 L410.22,76.90 L411.06,77.08 L411.90,77.25 L412.75,77.41 L413.59,77.55 L414.43,77.69 L415.27,77.81 L416.11,77.92 L416.95,78.02 L417.80,78.12 L418.64,78.20 L419.48,78.28 L420.32,78.35 L421.16,78.42 L422.01,78.48 L422.85,78.53 L423.69,78.58 L424.53,78.62 L425.37,78.67 L426.21,78.70 L427.06,78.74 L427.90,78.77 L428.74,78.79 L429.58,78.82 L430.42,78.84 L431.27,78.86 L432.11,78.88 L432.95,78.90 L433.79,78.91 L434.63,78.93 L435.47,78.94 L436.32,78.95 L437.16,78.96 L438.00,78.97" fill="none" stroke="#78d64b" stroke-width="1.4" stroke-linejoin="round"/>
<path d="M325.20,79.05 L326.04,78.04 L326.88,76.89 L327.72,75.57 L328.57,74.07 L329.41,72.38 L330.25,70.49 L331.09,68.41 L331.93,66.13 L332.77,63.66 L333.62,61.03 L334.46,58.25 L335.30,55.37 L336.14,52.42 L336.98,49.44 L337.83,46.48 L338.67,43.60 L339.51,40.84 L340.35,38.27 L341.19,35.92 L342.03,33.85 L342.88,32.10 L343.72,30.70 L344.56,29.67 L345.40,29.04 L346.24,28.80 L347.09,28.86 L347.93,29.07 L348.77,29.41 L349.61,29.90 L350.45,30.51 L351.29,31.24 L352.14,32.08 L352.98,33.03 L353.82,34.08 L354.66,35.21 L355.50,36.41 L356.34,37.69 L357.19,39.02 L358.03,40.39 L358.87,41.81 L359.71,43.25 L360.55,44.71 L361.40,46.18 L362.24,47.66 L363.08,49.13 L363.92,50.59 L364.76,52.03 L365.60,53.45 L366.45,54.84 L367.29,56.20 L368.13,57.52 L368.97,58.81 L369.81,60.05 L370.66,61.24 L371.50,62.39 L372.34,63.49 L373.18,64.54 L374.02,65.54 L374.86,66.50 L375.71,67.40 L376.55,68.25 L377.39,69.06 L378.23,69.82 L379.07,70.54 L379.92,71.21 L380.76,71.84 L381.60,72.42 L382.44,72.97 L383.28,73.48 L384.12,73.95 L384.97,74.39 L385.81,74.80 L386.65,75.17 L387.49,75.52 L388.33,75.84 L389.18,76.13 L390.02,76.40 L390.86,76.65 L391.70,76.87 L392.54,77.08 L393.38,77.27 L394.23,77.44 L395.07,77.60 L395.91,77.74 L396.75,77.87 L397.59,77.99 L398.44,78.10 L399.28,78.20 L400.12,78.29 L400.96,78.36 L401.80,78.44 L402.64,78.50 L403.49,78.56 L404.33,78.61 L405.17,78.66 L406.01,78.70 L406.85,78.74 L407.70,78.77 L408.54,78.80 L409.38,78.83 L410.22,78.85 L411.06,78.88 L411.90,78.90 L412.75,78.91 L413.59,78.93 L414.43,78.94 L415.27,78.96 L416.11,78.97 L416.95,78.98 L417.80,78.98 L418.64,78.99 L419.48,79.00 L420.32,79.00 L421.16,79.01 L422.01,79.01 L422.85,79.02 L423.69,79.02 L424.53,79.03 L425.37,79.03 L426.21,79.03 L427.06,79.03 L427.90,79.04 L428.74,79.04 L429.58,79.04 L430.42,79.04 L431.27,79.04 L432.11,79.04 L432.95,79.04 L433.79,79.04 L434.63,79.04 L435.47,79.05 L436.32,79.05 L437.16,79.05 L438.00,79.05" fill="none" stroke="#f29a3c" stroke-width="1.4" stroke-linejoin="round"/>
<path d="M325.20,79.05 L326.04,78.96 L326.88,78.86 L327.72,78.74 L328.57,78.59 L329.41,78.42 L330.25,78.21 L331.09,77.97 L331.93,77.68 L332.77,77.35 L333.62,76.96 L334.46,76.52 L335.30,76.01 L336.14,75.43 L336.98,74.78 L337.83,74.05 L338.67,73.23 L339.51,72.33 L340.35,71.34 L341.19,70.25 L342.03,69.07 L342.88,67.79 L343.72,66.43 L344.56,64.97 L345.40,63.43 L346.24,61.80 L347.09,60.11 L347.93,58.34 L348.77,56.53 L349.61,54.66 L350.45,52.77 L351.29,50.86 L352.14,48.94 L352.98,47.03 L353.82,45.15 L354.66,43.30 L355.50,41.51 L356.34,39.79 L357.19,38.15 L358.03,36.62 L358.87,35.19 L359.71,33.88 L360.55,32.71 L361.40,31.68 L362.24,30.80 L363.08,30.08 L363.92,29.51 L364.76,29.11 L365.60,28.87 L366.45,28.80 L367.29,28.87 L368.13,29.05 L368.97,29.35 L369.81,29.77 L370.66,30.29 L371.50,30.91 L372.34,31.63 L373.18,32.43 L374.02,33.32 L374.86,34.29 L375.71,35.32 L376.55,36.41 L377.39,37.56 L378.23,38.76 L379.07,40.00 L379.92,41.26 L380.76,42.56 L381.60,43.87 L382.44,45.20 L383.28,46.53 L384.12,47.86 L384.97,49.19 L385.81,50.51 L386.65,51.82 L387.49,53.10 L388.33,54.37 L389.18,55.61 L390.02,56.82 L390.86,57.99 L391.70,59.14 L392.54,60.25 L393.38,61.32 L394.23,62.36 L395.07,63.35 L395.91,64.31 L396.75,65.23 L397.59,66.10 L398.44,66.94 L399.28,67.73 L400.12,68.49 L400.96,69.21 L401.80,69.89 L402.64,70.53 L403.49,71.13 L404.33,71.71 L405.17,72.24 L406.01,72.75 L406.85,73.22 L407.70,73.67 L408.54,74.08 L409.38,74.47 L410.22,74.83 L411.06,75.17 L411.90,75.48 L412.75,75.77 L413.59,76.04 L414.43,76.29 L415.27,76.52 L416.11,76.74 L416.95,76.93 L417.80,77.12 L418.64,77.28 L419.48,77.44 L420.32,77.58 L421.16,77.71 L422.01,77.83 L422.85,77.94 L423.69,78.04 L424.53,78.14 L425.37,78.22 L426.21,78.30 L427.06,78.37 L427.90,78.43 L428.74,78.49 L429.58,78.54 L430.42,78.59 L431.27,78.64 L432.11,78.68 L432.95,78.71 L433.79,78.75 L434.63,78.78 L435.47,78.80 L436.32,78.83 L437.16,78.85 L438.00,78.87" fill="none" stroke="#7fcff2" stroke-width="1.4" stroke-linejoin="round"/>
<path d="M325.20,79.05 L326.04,78.97 L326.88,78.88 L327.72,78.78 L328.57,78.65 L329.41,78.49 L330.25,78.31 L331.09,78.09 L331.93,77.84 L332.77,77.55 L333.62,77.20 L334.46,76.81 L335.30,76.36 L336.14,75.85 L336.98,75.27 L337.83,74.62 L338.67,73.89 L339.51,73.09 L340.35,72.20 L341.19,71.22 L342.03,70.16 L342.88,69.00 L343.72,67.76 L344.56,66.43 L345.40,65.02 L346.24,63.52 L347.09,61.95 L347.93,60.31 L348.77,58.60 L349.61,56.85 L350.45,55.05 L351.29,53.21 L352.14,51.36 L352.98,49.50 L353.82,47.64 L354.66,45.80 L355.50,44.00 L356.34,42.24 L357.19,40.54 L358.03,38.91 L358.87,37.37 L359.71,35.93 L360.55,34.60 L361.40,33.39 L362.24,32.30 L363.08,31.36 L363.92,30.55 L364.76,29.90 L365.60,29.39 L366.45,29.04 L367.29,28.85 L368.13,28.80 L368.97,28.89 L369.81,29.09 L370.66,29.41 L371.50,29.84 L372.34,30.38 L373.18,31.02 L374.02,31.75 L374.86,32.57 L375.71,33.47 L376.55,34.45 L377.39,35.49 L378.23,36.60 L379.07,37.76 L379.92,38.96 L380.76,40.20 L381.60,41.47 L382.44,42.77 L383.28,44.09 L384.12,45.41 L384.97,46.75 L385.81,48.08 L386.65,49.41 L387.49,50.73 L388.33,52.03 L389.18,53.31 L390.02,54.57 L390.86,55.81 L391.70,57.01 L392.54,58.19 L393.38,59.33 L394.23,60.43 L395.07,61.50 L395.91,62.53 L396.75,63.52 L397.59,64.47 L398.44,65.38 L399.28,66.25 L400.12,67.08 L400.96,67.86 L401.80,68.62 L402.64,69.33 L403.49,70.00 L404.33,70.64 L405.17,71.24 L406.01,71.80 L406.85,72.34 L407.70,72.84 L408.54,73.30 L409.38,73.74 L410.22,74.15 L411.06,74.54 L411.90,74.89 L412.75,75.23 L413.59,75.53 L414.43,75.82 L415.27,76.09 L416.11,76.34 L416.95,76.56 L417.80,76.78 L418.64,76.97 L419.48,77.15 L420.32,77.32 L421.16,77.47 L422.01,77.61 L422.85,77.74 L423.69,77.86 L424.53,77.96 L425.37,78.06 L426.21,78.15 L427.06,78.24 L427.90,78.31 L428.74,78.38 L429.58,78.45 L430.42,78.50 L431.27,78.56 L432.11,78.60 L432.95,78.65 L433.79,78.69 L434.63,78.72 L435.47,78.75 L436.32,78.78 L437.16,78.81 L438.00,78.83" fill="none" stroke="#2d84dc" stroke-width="1.4" stroke-linejoin="round"/>
<path d="M325.20,79.05 L326.04,79.04 L326.88,79.03 L327.72,79.01 L328.57,78.99 L329.41,78.97 L330.25,78.93 L331.09,78.89 L331.93,78.84 L332.77,78.78 L333.62,78.71 L334.46,78.62 L335.30,78.51 L336.14,78.37 L336.98,78.22 L337.83,78.03 L338.67,77.81 L339.51,77.55 L340.35,77.25 L341.19,76.90 L342.03,76.51 L342.88,76.05 L343.72,75.54 L344.56,74.96 L345.40,74.32 L346.24,73.59 L347.09,72.80 L347.93,71.92 L348.77,70.96 L349.61,69.92 L350.45,68.80 L351.29,67.59 L352.14,66.30 L352.98,64.93 L353.82,63.48 L354.66,61.96 L355.50,60.37 L356.34,58.73 L357.19,57.03 L358.03,55.29 L358.87,53.52 L359.71,51.73 L360.55,49.92 L361.40,48.12 L362.24,46.33 L363.08,44.57 L363.92,42.85 L364.76,41.18 L365.60,39.57 L366.45,38.04 L367.29,36.60 L368.13,35.25 L368.97,34.02 L369.81,32.90 L370.66,31.90 L371.50,31.04 L372.34,30.31 L373.18,29.72 L374.02,29.28 L374.86,28.98 L375.71,28.82 L376.55,28.81 L377.39,28.92 L378.23,29.14 L379.07,29.46 L379.92,29.90 L380.76,30.43 L381.60,31.06 L382.44,31.78 L383.28,32.58 L384.12,33.46 L384.97,34.41 L385.81,35.43 L386.65,36.51 L387.49,37.63 L388.33,38.80 L389.18,40.01 L390.02,41.25 L390.86,42.51 L391.70,43.80 L392.54,45.09 L393.38,46.39 L394.23,47.69 L395.07,48.99 L395.91,50.28 L396.75,51.56 L397.59,52.82 L398.44,54.07 L399.28,55.28 L400.12,56.47 L400.96,57.64 L401.80,58.77 L402.64,59.86 L403.49,60.93 L404.33,61.95 L405.17,62.94 L406.01,63.89 L406.85,64.81 L407.70,65.68 L408.54,66.52 L409.38,67.32 L410.22,68.08 L411.06,68.80 L411.90,69.49 L412.75,70.14 L413.59,70.75 L414.43,71.33 L415.27,71.88 L416.11,72.40 L416.95,72.88 L417.80,73.34 L418.64,73.76 L419.48,74.16 L420.32,74.54 L421.16,74.89 L422.01,75.21 L422.85,75.52 L423.69,75.80 L424.53,76.06 L425.37,76.31 L426.21,76.53 L427.06,76.74 L427.90,76.93 L428.74,77.11 L429.58,77.28 L430.42,77.43 L431.27,77.57 L432.11,77.70 L432.95,77.82 L433.79,77.93 L434.63,78.03 L435.47,78.12 L436.32,78.20 L437.16,78.28 L438.00,78.35" fill="none" stroke="#7b78e6" stroke-width="1.4" stroke-linejoin="round"/>
<path d="M325.20,79.05 L326.04,79.05 L326.88,79.05 L327.72,79.05 L328.57,79.05 L329.41,79.05 L330.25,79.05 L331.09,79.05 L331.93,79.04 L332.77,79.04 L333.62,79.04 L334.46,79.03 L335.30,79.03 L336.14,79.02 L336.98,79.01 L337.83,78.99 L338.67,78.98 L339.51,78.95 L340.35,78.92 L341.19,78.89 L342.03,78.84 L342.88,78.78 L343.72,78.71 L344.56,78.62 L345.40,78.51 L346.24,78.39 L347.09,78.23 L347.93,78.05 L348.77,77.83 L349.61,77.57 L350.45,77.27 L351.29,76.92 L352.14,76.52 L352.98,76.07 L353.82,75.55 L354.66,74.96 L355.50,74.30 L356.34,73.56 L357.19,72.75 L358.03,71.85 L358.87,70.86 L359.71,69.79 L360.55,68.62 L361.40,67.38 L362.24,66.04 L363.08,64.62 L363.92,63.12 L364.76,61.55 L365.60,59.90 L366.45,58.20 L367.29,56.44 L368.13,54.65 L368.97,52.82 L369.81,50.97 L370.66,49.12 L371.50,47.27 L372.34,45.45 L373.18,43.65 L374.02,41.91 L374.86,40.23 L375.71,38.62 L376.55,37.10 L377.39,35.68 L378.23,34.37 L379.07,33.18 L379.92,32.12 L380.76,31.20 L381.60,30.42 L382.44,29.79 L383.28,29.32 L384.12,28.99 L384.97,28.83 L385.81,28.81 L386.65,28.95 L387.49,29.24 L388.33,29.67 L389.18,30.23 L390.02,30.93 L390.86,31.75 L391.70,32.68 L392.54,33.72 L393.38,34.85 L394.23,36.07 L395.07,37.36 L395.91,38.71 L396.75,40.12 L397.59,41.57 L398.44,43.05 L399.28,44.55 L400.12,46.07 L400.96,47.60 L401.80,49.12 L402.64,50.63 L403.49,52.12 L404.33,53.59 L405.17,55.03 L406.01,56.44 L406.85,57.81 L407.70,59.13 L408.54,60.41 L409.38,61.64 L410.22,62.82 L411.06,63.95 L411.90,65.02 L412.75,66.05 L413.59,67.02 L414.43,67.93 L415.27,68.80 L416.11,69.61 L416.95,70.38 L417.80,71.09 L418.64,71.76 L419.48,72.38 L420.32,72.96 L421.16,73.50 L422.01,73.99 L422.85,74.45 L423.69,74.88 L424.53,75.27 L425.37,75.63 L426.21,75.96 L427.06,76.26 L427.90,76.53 L428.74,76.78 L429.58,77.01 L430.42,77.22 L431.27,77.41 L432.11,77.58 L432.95,77.73 L433.79,77.87 L434.63,78.00 L435.47,78.11 L436.32,78.22 L437.16,78.31 L438.00,78.39" fill="none" stroke="#1a1a1a" stroke-width="1.4" stroke-linejoin="round"/>
<line x1="270.60" y1="23.52" x2="270.60" y2="79.65" stroke="#231f20" stroke-width="1.3"/>
<line x1="438.00" y1="23.52" x2="438.00" y2="79.65" stroke="#231f20" stroke-width="1.3"/>
<line x1="270.00" y1="79.05" x2="438.60" y2="79.05" stroke="#231f20" stroke-width="1.3"/>
<line x1="267.60" y1="79.05" x2="270.60" y2="79.05" stroke="#231f20" stroke-width="1"/>
<line x1="438.00" y1="79.05" x2="441.00" y2="79.05" stroke="#231f20" stroke-width="1"/>
<text x="266.10" y="82.45" font-size="9.6" text-anchor="end" fill="#231f20" stroke="#231f20" stroke-width="0.22">0</text>
<text x="442.60" y="82.45" font-size="9.6" fill="#231f20" stroke="#231f20" stroke-width="0.22">0</text>
<line x1="267.60" y1="53.92" x2="270.60" y2="53.92" stroke="#231f20" stroke-width="1"/>
<line x1="438.00" y1="53.92" x2="441.00" y2="53.92" stroke="#231f20" stroke-width="1"/>
<text x="266.10" y="57.32" font-size="9.6" text-anchor="end" fill="#231f20" stroke="#231f20" stroke-width="0.22">50</text>
<text x="442.60" y="57.32" font-size="9.6" fill="#231f20" stroke="#231f20" stroke-width="0.22">50</text>
<line x1="267.60" y1="28.80" x2="270.60" y2="28.80" stroke="#231f20" stroke-width="1"/>
<line x1="438.00" y1="28.80" x2="441.00" y2="28.80" stroke="#231f20" stroke-width="1"/>
<text x="266.10" y="32.20" font-size="9.6" text-anchor="end" fill="#231f20" stroke="#231f20" stroke-width="0.22">100</text>
<text x="442.60" y="32.20" font-size="9.6" fill="#231f20" stroke="#231f20" stroke-width="0.22">100</text>
<line x1="283.48" y1="79.05" x2="283.48" y2="82.05" stroke="#231f20" stroke-width="1"/>
<text x="283.48" y="91.85" font-size="9.4" text-anchor="middle" fill="#231f20" stroke="#231f20" stroke-width="0.22">400</text>
<line x1="334.98" y1="79.05" x2="334.98" y2="82.05" stroke="#231f20" stroke-width="1"/>
<text x="334.98" y="91.85" font-size="9.4" text-anchor="middle" fill="#231f20" stroke="#231f20" stroke-width="0.22">500</text>
<line x1="386.49" y1="79.05" x2="386.49" y2="82.05" stroke="#231f20" stroke-width="1"/>
<text x="386.49" y="91.85" font-size="9.4" text-anchor="middle" fill="#231f20" stroke="#231f20" stroke-width="0.22">600</text>
<line x1="438.00" y1="79.05" x2="438.00" y2="82.05" stroke="#231f20" stroke-width="1"/>
<text x="438.00" y="91.85" font-size="9.4" text-anchor="middle" fill="#231f20" stroke="#231f20" stroke-width="0.22">700</text>
<text x="353.90" y="14.85" font-size="10.3" text-anchor="middle" fill="#231f20" stroke="#231f20" stroke-width="0.22">Probe <tspan font-weight="bold" font-size="10.8">2</tspan></text>
<text x="354.30" y="108.65" font-size="10.75" text-anchor="middle" fill="#231f20" stroke="#231f20" stroke-width="0.22">Wavelength (nm)</text>
<path d="M495.5,64.8 L496.5,63.2 L497.6,61.5 L498.6,59.8 L499.6,57.9 L500.7,56.0 L501.7,54.0 L502.7,52.0 L503.8,49.9 L504.8,47.8 L505.9,45.8 L506.9,43.7 L507.9,41.7 L509.0,39.8 L510.0,38.0 L511.0,36.3 L512.1,34.7 L513.1,33.3 L514.1,32.0 L515.2,30.9 L516.2,30.1 L517.2,29.4 L518.3,29.0 L519.3,28.8 L520.3,28.9 L521.4,29.3 L522.4,30.0 L523.5,31.1 L524.5,32.4 L525.5,34.0 L526.6,35.9 L527.6,38.0 L528.6,40.2 L529.7,42.5 L530.7,45.0 L531.7,47.5 L532.8,50.0 L533.8,52.5 L534.8,55.0 L535.9,57.3 L536.9,59.6 L537.9,61.8 L539.0,63.8 L540.0,65.7 L541.0,67.4 L542.1,69.0 L543.1,70.4 L544.2,71.6 L545.2,72.8 L546.2,73.8 L547.3,74.6 L548.3,75.4 L549.3,76.0 L550.4,76.6 L551.4,77.0" fill="none" stroke="#1a1a1a" stroke-width="1.3" stroke-dasharray="3.4,1.5" stroke-dashoffset="0.0"/>
<path d="M495.5,64.1 L496.5,62.5 L497.6,60.8 L498.6,59.0 L499.6,57.1 L500.7,55.1 L501.7,53.1 L502.7,51.1 L503.8,49.0 L504.8,46.9 L505.9,44.9 L506.9,42.9 L507.9,40.9 L509.0,39.0 L510.0,37.2 L511.0,35.6 L512.1,34.0 L513.1,32.7 L514.1,31.5 L515.2,30.5 L516.2,29.8 L517.2,29.2 L518.3,28.9 L519.3,28.8 L520.3,29.0 L521.4,29.6 L522.4,30.4 L523.5,31.6 L524.5,33.1 L525.5,34.8 L526.6,36.8 L527.6,38.9 L528.6,41.2 L529.7,43.6 L530.7,46.1 L531.7,48.6 L532.8,51.1 L533.8,53.6 L534.8,56.0 L535.9,58.3 L536.9,60.6 L537.9,62.7 L539.0,64.6 L540.0,66.4 L541.0,68.1 L542.1,69.6 L543.1,70.9 L544.2,72.1 L545.2,73.2 L546.2,74.2 L547.3,75.0 L548.3,75.7 L549.3,76.3 L550.4,76.8 L551.4,77.2" fill="none" stroke="#7b78e6" stroke-width="1.3" stroke-dasharray="3.4,1.5" stroke-dashoffset="0.9"/>
<path d="M495.5,64.5 L496.5,62.9 L497.6,61.1 L498.6,59.3 L499.6,57.3 L500.7,55.3 L501.7,53.3 L502.7,51.1 L503.8,49.0 L504.8,46.9 L505.9,44.8 L506.9,42.7 L507.9,40.7 L509.0,38.7 L510.0,36.9 L511.0,35.2 L512.1,33.7 L513.1,32.4 L514.1,31.2 L515.2,30.3 L516.2,29.5 L517.2,29.1 L518.3,28.8 L519.3,28.8 L520.3,29.2 L521.4,29.8 L522.4,30.8 L523.5,32.0 L524.5,33.5 L525.5,35.2 L526.6,37.1 L527.6,39.2 L528.6,41.4 L529.7,43.8 L530.7,46.2 L531.7,48.6 L532.8,51.0 L533.8,53.4 L534.8,55.8 L535.9,58.0 L536.9,60.2 L537.9,62.2 L539.0,64.2 L540.0,65.9 L541.0,67.6 L542.1,69.1 L543.1,70.4 L544.2,71.7 L545.2,72.8 L546.2,73.7 L547.3,74.6 L548.3,75.3 L549.3,75.9 L550.4,76.5 L551.4,76.9" fill="none" stroke="#2d84dc" stroke-width="1.3" stroke-dasharray="3.4,1.5" stroke-dashoffset="1.8"/>
<path d="M495.5,64.1 L496.5,62.5 L497.6,60.8 L498.6,59.0 L499.6,57.1 L500.7,55.1 L501.7,53.1 L502.7,51.1 L503.8,49.0 L504.8,46.9 L505.9,44.9 L506.9,42.9 L507.9,40.9 L509.0,39.0 L510.0,37.2 L511.0,35.6 L512.1,34.0 L513.1,32.7 L514.1,31.5 L515.2,30.5 L516.2,29.8 L517.2,29.2 L518.3,28.9 L519.3,28.8 L520.3,29.0 L521.4,29.6 L522.4,30.4 L523.5,31.6 L524.5,33.1 L525.5,34.8 L526.6,36.8 L527.6,38.9 L528.6,41.2 L529.7,43.6 L530.7,46.1 L531.7,48.6 L532.8,51.1 L533.8,53.6 L534.8,56.0 L535.9,58.3 L536.9,60.6 L537.9,62.7 L539.0,64.6 L540.0,66.4 L541.0,68.1 L542.1,69.6 L543.1,70.9 L544.2,72.1 L545.2,73.2 L546.2,74.2 L547.3,75.0 L548.3,75.7 L549.3,76.3 L550.4,76.8 L551.4,77.2" fill="none" stroke="#7fcff2" stroke-width="1.3" stroke-dasharray="3.4,1.5" stroke-dashoffset="2.7"/>
<path d="M495.5,65.5 L496.5,63.9 L497.6,62.3 L498.6,60.5 L499.6,58.7 L500.7,56.8 L501.7,54.9 L502.7,52.8 L503.8,50.8 L504.8,48.7 L505.9,46.6 L506.9,44.6 L507.9,42.6 L509.0,40.6 L510.0,38.8 L511.0,37.0 L512.1,35.3 L513.1,33.8 L514.1,32.5 L515.2,31.4 L516.2,30.4 L517.2,29.7 L518.3,29.2 L519.3,28.9 L520.3,28.8 L521.4,29.1 L522.4,29.7 L523.5,30.7 L524.5,32.0 L525.5,33.6 L526.6,35.5 L527.6,37.6 L528.6,39.9 L529.7,42.3 L530.7,44.9 L531.7,47.5 L532.8,50.1 L533.8,52.7 L534.8,55.2 L535.9,57.6 L536.9,60.0 L537.9,62.2 L539.0,64.3 L540.0,66.2 L541.0,67.9 L542.1,69.5 L543.1,70.9 L544.2,72.1 L545.2,73.3 L546.2,74.2 L547.3,75.0 L548.3,75.8 L549.3,76.4 L550.4,76.9 L551.4,77.3" fill="none" stroke="#78d64b" stroke-width="1.3" stroke-dasharray="3.4,1.5" stroke-dashoffset="3.6"/>
<path d="M495.5,61.3 L496.5,59.5 L497.6,57.6 L498.6,55.7 L499.6,53.7 L500.7,51.6 L501.7,49.6 L502.7,47.5 L503.8,45.4 L504.8,43.4 L505.9,41.4 L506.9,39.5 L507.9,37.7 L509.0,36.0 L510.0,34.4 L511.0,33.0 L512.1,31.8 L513.1,30.8 L514.1,30.0 L515.2,29.3 L516.2,29.0 L517.2,28.8 L518.3,28.9 L519.3,29.4 L520.3,30.2 L521.4,31.3 L522.4,32.7 L523.5,34.3 L524.5,36.2 L525.5,38.3 L526.6,40.6 L527.6,42.9 L528.6,45.4 L529.7,47.9 L530.7,50.4 L531.7,52.9 L532.8,55.4 L533.8,57.7 L534.8,60.0 L535.9,62.1 L536.9,64.1 L537.9,65.9 L539.0,67.6 L540.0,69.2 L541.0,70.6 L542.1,71.8 L543.1,72.9 L544.2,73.9 L545.2,74.8 L546.2,75.5 L547.3,76.1 L548.3,76.6 L549.3,77.1 L550.4,77.5 L551.4,77.8" fill="none" stroke="#f29a3c" stroke-width="1.3" stroke-dasharray="3.4,1.5" stroke-dashoffset="4.5"/>
<path d="M495.5,56.7 L496.5,54.7 L497.6,52.6 L498.6,50.5 L499.6,48.3 L500.7,46.2 L501.7,44.1 L502.7,42.0 L503.8,40.0 L504.8,38.1 L505.9,36.4 L506.9,34.7 L507.9,33.3 L509.0,32.0 L510.0,30.9 L511.0,30.0 L512.1,29.4 L513.1,29.0 L514.1,28.8 L515.2,28.9 L516.2,29.4 L517.2,30.2 L518.3,31.3 L519.3,32.7 L520.3,34.4 L521.4,36.3 L522.4,38.4 L523.5,40.6 L524.5,43.0 L525.5,45.5 L526.6,48.0 L527.6,50.5 L528.6,53.0 L529.7,55.4 L530.7,57.8 L531.7,60.0 L532.8,62.1 L533.8,64.1 L534.8,66.0 L535.9,67.7 L536.9,69.2 L537.9,70.6 L539.0,71.9 L540.0,73.0 L541.0,73.9 L542.1,74.8 L543.1,75.5 L544.2,76.1 L545.2,76.7 L546.2,77.1 L547.3,77.5 L548.3,77.8 L549.3,78.1 L550.4,78.3 L551.4,78.4" fill="none" stroke="#f6c878" stroke-width="1.3" stroke-dasharray="3.4,1.5" stroke-dashoffset="5.4"/>
<path d="M542.90,79.05 L543.74,78.40 L544.59,77.65 L545.43,76.78 L546.27,75.80 L547.11,74.68 L547.95,73.41 L548.79,72.00 L549.63,70.43 L550.47,68.70 L551.32,66.82 L552.16,64.79 L553.00,62.62 L553.84,60.33 L554.68,57.93 L555.52,55.46 L556.36,52.92 L557.20,50.36 L558.05,47.80 L558.89,45.28 L559.73,42.83 L560.57,40.49 L561.41,38.28 L562.25,36.25 L563.09,34.42 L563.93,32.82 L564.78,31.46 L565.62,30.37 L566.46,29.57 L567.30,29.04 L568.14,28.81 L568.98,28.83 L569.82,28.97 L570.66,29.22 L571.51,29.58 L572.35,30.04 L573.19,30.61 L574.03,31.26 L574.87,32.00 L575.71,32.83 L576.55,33.72 L577.39,34.69 L578.24,35.71 L579.08,36.79 L579.92,37.92 L580.76,39.09 L581.60,40.29 L582.44,41.51 L583.28,42.76 L584.12,44.03 L584.97,45.30 L585.81,46.58 L586.65,47.85 L587.49,49.12 L588.33,50.38 L589.17,51.63 L590.01,52.86 L590.85,54.07 L591.69,55.25 L592.54,56.41 L593.38,57.54 L594.22,58.63 L595.06,59.70 L595.90,60.73 L596.74,61.73 L597.58,62.69 L598.42,63.62 L599.27,64.51 L600.11,65.36 L600.95,66.17 L601.79,66.95 L602.63,67.70 L603.47,68.41 L604.31,69.08 L605.15,69.72 L606.00,70.33 L606.84,70.90 L607.68,71.45 L608.52,71.96 L609.36,72.45 L610.20,72.90 L611.04,73.33 L611.88,73.74 L612.73,74.11 L613.57,74.47 L614.41,74.80 L615.25,75.11 L616.09,75.41 L616.93,75.68 L617.77,75.93 L618.61,76.17 L619.46,76.39 L620.30,76.59 L621.14,76.78 L621.98,76.96 L622.82,77.13 L623.66,77.28 L624.50,77.42 L625.34,77.55 L626.19,77.67 L627.03,77.78 L627.87,77.89 L628.71,77.98 L629.55,78.07 L630.39,78.15 L631.23,78.23 L632.07,78.30 L632.92,78.36 L633.76,78.42 L634.60,78.47 L635.44,78.52 L636.28,78.57 L637.12,78.61 L637.96,78.65 L638.80,78.68 L639.65,78.71 L640.49,78.74 L641.33,78.77 L642.17,78.79 L643.01,78.82 L643.85,78.84 L644.69,78.86 L645.53,78.87 L646.38,78.89 L647.22,78.90 L648.06,78.92 L648.90,78.93 L649.74,78.94 L650.58,78.95 L651.42,78.96 L652.26,78.97 L653.11,78.97 L653.95,78.98 L654.79,78.99 L655.63,78.99 L656.47,79.00 L657.31,79.00 L658.15,79.01 L658.99,79.01 L659.84,79.02 L660.68,79.02 L661.52,79.02 L662.36,79.02 L663.20,79.03" fill="none" stroke="#f29a3c" stroke-width="1.4" stroke-linejoin="round"/>
<path d="M542.90,79.05 L543.74,78.60 L544.59,78.07 L545.43,77.45 L546.27,76.74 L547.11,75.91 L547.95,74.97 L548.79,73.89 L549.63,72.68 L550.47,71.32 L551.32,69.82 L552.16,68.17 L553.00,66.37 L553.84,64.43 L554.68,62.36 L555.52,60.18 L556.36,57.89 L557.20,55.53 L558.05,53.11 L558.89,50.65 L559.73,48.20 L560.57,45.77 L561.41,43.40 L562.25,41.12 L563.09,38.96 L563.93,36.95 L564.78,35.11 L565.62,33.48 L566.46,32.07 L567.30,30.89 L568.14,29.97 L568.98,29.31 L569.82,28.92 L570.66,28.80 L571.51,28.86 L572.35,29.04 L573.19,29.33 L574.03,29.73 L574.87,30.22 L575.71,30.82 L576.55,31.50 L577.39,32.27 L578.24,33.12 L579.08,34.04 L579.92,35.03 L580.76,36.07 L581.60,37.17 L582.44,38.31 L583.28,39.49 L584.12,40.70 L584.97,41.93 L585.81,43.19 L586.65,44.46 L587.49,45.73 L588.33,47.01 L589.17,48.29 L590.01,49.55 L590.85,50.81 L591.69,52.05 L592.54,53.27 L593.38,54.48 L594.22,55.65 L595.06,56.80 L595.90,57.92 L596.74,59.01 L597.58,60.06 L598.42,61.08 L599.27,62.07 L600.11,63.02 L600.95,63.93 L601.79,64.81 L602.63,65.65 L603.47,66.46 L604.31,67.22 L605.15,67.96 L606.00,68.65 L606.84,69.32 L607.68,69.95 L608.52,70.54 L609.36,71.11 L610.20,71.64 L611.04,72.15 L611.88,72.62 L612.73,73.07 L613.57,73.49 L614.41,73.88 L615.25,74.25 L616.09,74.60 L616.93,74.93 L617.77,75.23 L618.61,75.52 L619.46,75.78 L620.30,76.03 L621.14,76.26 L621.98,76.47 L622.82,76.67 L623.66,76.86 L624.50,77.03 L625.34,77.19 L626.19,77.34 L627.03,77.48 L627.87,77.60 L628.71,77.72 L629.55,77.83 L630.39,77.93 L631.23,78.02 L632.07,78.11 L632.92,78.19 L633.76,78.26 L634.60,78.32 L635.44,78.39 L636.28,78.44 L637.12,78.49 L637.96,78.54 L638.80,78.59 L639.65,78.63 L640.49,78.66 L641.33,78.70 L642.17,78.73 L643.01,78.76 L643.85,78.78 L644.69,78.81 L645.53,78.83 L646.38,78.85 L647.22,78.87 L648.06,78.88 L648.90,78.90 L649.74,78.91 L650.58,78.92 L651.42,78.93 L652.26,78.95 L653.11,78.95 L653.95,78.96 L654.79,78.97 L655.63,78.98 L656.47,78.99 L657.31,78.99 L658.15,79.00 L658.99,79.00 L659.84,79.01 L660.68,79.01 L661.52,79.01 L662.36,79.02 L663.20,79.02" fill="none" stroke="#f6c878" stroke-width="1.4" stroke-linejoin="round"/>
<path d="M542.90,79.05 L543.74,79.03 L544.59,79.00 L545.43,78.96 L546.27,78.91 L547.11,78.85 L547.95,78.77 L548.79,78.68 L549.63,78.56 L550.47,78.42 L551.32,78.24 L552.16,78.03 L553.00,77.77 L553.84,77.47 L554.68,77.11 L555.52,76.68 L556.36,76.20 L557.20,75.63 L558.05,74.99 L558.89,74.25 L559.73,73.43 L560.57,72.51 L561.41,71.48 L562.25,70.36 L563.09,69.13 L563.93,67.79 L564.78,66.35 L565.62,64.81 L566.46,63.17 L567.30,61.44 L568.14,59.64 L568.98,57.76 L569.82,55.83 L570.66,53.85 L571.51,51.84 L572.35,49.82 L573.19,47.81 L574.03,45.81 L574.87,43.85 L575.71,41.95 L576.55,40.12 L577.39,38.38 L578.24,36.75 L579.08,35.24 L579.92,33.87 L580.76,32.64 L581.60,31.57 L582.44,30.67 L583.28,29.94 L584.12,29.39 L584.97,29.02 L585.81,28.83 L586.65,28.81 L587.49,28.91 L588.33,29.10 L589.17,29.40 L590.01,29.79 L590.85,30.27 L591.69,30.84 L592.54,31.48 L593.38,32.20 L594.22,33.00 L595.06,33.85 L595.90,34.77 L596.74,35.74 L597.58,36.76 L598.42,37.82 L599.27,38.92 L600.11,40.04 L600.95,41.20 L601.79,42.37 L602.63,43.56 L603.47,44.76 L604.31,45.96 L605.15,47.17 L606.00,48.37 L606.84,49.57 L607.68,50.75 L608.52,51.93 L609.36,53.08 L610.20,54.22 L611.04,55.33 L611.88,56.43 L612.73,57.49 L613.57,58.53 L614.41,59.54 L615.25,60.52 L616.09,61.47 L616.93,62.39 L617.77,63.28 L618.61,64.13 L619.46,64.95 L620.30,65.74 L621.14,66.50 L621.98,67.22 L622.82,67.92 L623.66,68.58 L624.50,69.21 L625.34,69.81 L626.19,70.38 L627.03,70.92 L627.87,71.44 L628.71,71.92 L629.55,72.38 L630.39,72.82 L631.23,73.23 L632.07,73.62 L632.92,73.99 L633.76,74.33 L634.60,74.66 L635.44,74.96 L636.28,75.25 L637.12,75.51 L637.96,75.77 L638.80,76.00 L639.65,76.22 L640.49,76.43 L641.33,76.62 L642.17,76.80 L643.01,76.96 L643.85,77.12 L644.69,77.27 L645.53,77.40 L646.38,77.53 L647.22,77.64 L648.06,77.75 L648.90,77.85 L649.74,77.95 L650.58,78.03 L651.42,78.11 L652.26,78.19 L653.11,78.25 L653.95,78.32 L654.79,78.38 L655.63,78.43 L656.47,78.48 L657.31,78.53 L658.15,78.57 L658.99,78.61 L659.84,78.65 L660.68,78.68 L661.52,78.71 L662.36,78.74 L663.20,78.76" fill="none" stroke="#78d64b" stroke-width="1.4" stroke-linejoin="round"/>
<path d="M542.90,79.05 L543.74,79.04 L544.59,79.03 L545.43,79.01 L546.27,78.99 L547.11,78.96 L547.95,78.92 L548.79,78.88 L549.63,78.82 L550.47,78.75 L551.32,78.67 L552.16,78.57 L553.00,78.45 L553.84,78.30 L554.68,78.13 L555.52,77.93 L556.36,77.69 L557.20,77.41 L558.05,77.08 L558.89,76.71 L559.73,76.28 L560.57,75.80 L561.41,75.25 L562.25,74.63 L563.09,73.95 L563.93,73.19 L564.78,72.35 L565.62,71.43 L566.46,70.43 L567.30,69.35 L568.14,68.19 L568.98,66.94 L569.82,65.62 L570.66,64.22 L571.51,62.74 L572.35,61.21 L573.19,59.61 L574.03,57.95 L574.87,56.25 L575.71,54.52 L576.55,52.76 L577.39,50.99 L578.24,49.21 L579.08,47.44 L579.92,45.69 L580.76,43.97 L581.60,42.29 L582.44,40.67 L583.28,39.12 L584.12,37.64 L584.97,36.25 L585.81,34.96 L586.65,33.78 L587.49,32.71 L588.33,31.76 L589.17,30.93 L590.01,30.24 L590.85,29.68 L591.69,29.26 L592.54,28.97 L593.38,28.82 L594.22,28.81 L595.06,28.90 L595.90,29.09 L596.74,29.38 L597.58,29.77 L598.42,30.24 L599.27,30.81 L600.11,31.45 L600.95,32.16 L601.79,32.95 L602.63,33.81 L603.47,34.72 L604.31,35.69 L605.15,36.70 L606.00,37.76 L606.84,38.86 L607.68,39.98 L608.52,41.13 L609.36,42.31 L610.20,43.50 L611.04,44.70 L611.88,45.90 L612.73,47.11 L613.57,48.31 L614.41,49.51 L615.25,50.70 L616.09,51.88 L616.93,53.04 L617.77,54.18 L618.61,55.30 L619.46,56.39 L620.30,57.46 L621.14,58.51 L621.98,59.52 L622.82,60.50 L623.66,61.46 L624.50,62.38 L625.34,63.27 L626.19,64.13 L627.03,64.95 L627.87,65.75 L628.71,66.51 L629.55,67.23 L630.39,67.93 L631.23,68.59 L632.07,69.23 L632.92,69.83 L633.76,70.40 L634.60,70.95 L635.44,71.46 L636.28,71.95 L637.12,72.41 L637.96,72.85 L638.80,73.26 L639.65,73.65 L640.49,74.02 L641.33,74.36 L642.17,74.69 L643.01,74.99 L643.85,75.28 L644.69,75.55 L645.53,75.80 L646.38,76.03 L647.22,76.25 L648.06,76.46 L648.90,76.65 L649.74,76.83 L650.58,77.00 L651.42,77.15 L652.26,77.29 L653.11,77.43 L653.95,77.55 L654.79,77.67 L655.63,77.78 L656.47,77.88 L657.31,77.97 L658.15,78.05 L658.99,78.13 L659.84,78.21 L660.68,78.27 L661.52,78.34 L662.36,78.40 L663.20,78.45" fill="none" stroke="#7fcff2" stroke-width="1.4" stroke-linejoin="round"/>
<path d="M542.90,79.05 L543.74,79.05 L544.59,79.05 L545.43,79.04 L546.27,79.04 L547.11,79.04 L547.95,79.03 L548.79,79.02 L549.63,79.01 L550.47,79.00 L551.32,78.98 L552.16,78.96 L553.00,78.93 L553.84,78.90 L554.68,78.86 L555.52,78.81 L556.36,78.74 L557.20,78.67 L558.05,78.57 L558.89,78.46 L559.73,78.33 L560.57,78.17 L561.41,77.99 L562.25,77.77 L563.09,77.52 L563.93,77.23 L564.78,76.90 L565.62,76.52 L566.46,76.09 L567.30,75.60 L568.14,75.06 L568.98,74.45 L569.82,73.78 L570.66,73.04 L571.51,72.23 L572.35,71.35 L573.19,70.39 L574.03,69.36 L574.87,68.25 L575.71,67.06 L576.55,65.81 L577.39,64.49 L578.24,63.10 L579.08,61.64 L579.92,60.13 L580.76,58.57 L581.60,56.97 L582.44,55.33 L583.28,53.66 L584.12,51.98 L584.97,50.28 L585.81,48.59 L586.65,46.91 L587.49,45.24 L588.33,43.61 L589.17,42.03 L590.01,40.49 L590.85,39.02 L591.69,37.61 L592.54,36.29 L593.38,35.06 L594.22,33.92 L595.06,32.88 L595.90,31.96 L596.74,31.14 L597.58,30.45 L598.42,29.87 L599.27,29.42 L600.11,29.09 L600.95,28.88 L601.79,28.80 L602.63,28.83 L603.47,28.97 L604.31,29.19 L605.15,29.51 L606.00,29.92 L606.84,30.41 L607.68,30.99 L608.52,31.64 L609.36,32.36 L610.20,33.16 L611.04,34.01 L611.88,34.91 L612.73,35.87 L613.57,36.88 L614.41,37.92 L615.25,39.00 L616.09,40.11 L616.93,41.24 L617.77,42.40 L618.61,43.57 L619.46,44.74 L620.30,45.93 L621.14,47.11 L621.98,48.30 L622.82,49.47 L623.66,50.64 L624.50,51.80 L625.34,52.94 L626.19,54.06 L627.03,55.16 L627.87,56.24 L628.71,57.30 L629.55,58.33 L630.39,59.33 L631.23,60.30 L632.07,61.25 L632.92,62.16 L633.76,63.04 L634.60,63.90 L635.44,64.72 L636.28,65.51 L637.12,66.26 L637.96,66.99 L638.80,67.68 L639.65,68.35 L640.49,68.98 L641.33,69.59 L642.17,70.16 L643.01,70.71 L643.85,71.23 L644.69,71.72 L645.53,72.19 L646.38,72.63 L647.22,73.05 L648.06,73.45 L648.90,73.82 L649.74,74.17 L650.58,74.50 L651.42,74.81 L652.26,75.10 L653.11,75.38 L653.95,75.64 L654.79,75.88 L655.63,76.11 L656.47,76.32 L657.31,76.52 L658.15,76.70 L658.99,76.87 L659.84,77.03 L660.68,77.18 L661.52,77.32 L662.36,77.45 L663.20,77.58" fill="none" stroke="#2d84dc" stroke-width="1.4" stroke-linejoin="round"/>
<path d="M542.90,79.05 L543.74,79.05 L544.59,79.05 L545.43,79.04 L546.27,79.04 L547.11,79.04 L547.95,79.03 L548.79,79.02 L549.63,79.02 L550.47,79.01 L551.32,78.99 L552.16,78.98 L553.00,78.96 L553.84,78.93 L554.68,78.91 L555.52,78.87 L556.36,78.83 L557.20,78.78 L558.05,78.73 L558.89,78.66 L559.73,78.58 L560.57,78.49 L561.41,78.38 L562.25,78.25 L563.09,78.11 L563.93,77.95 L564.78,77.76 L565.62,77.55 L566.46,77.31 L567.30,77.05 L568.14,76.75 L568.98,76.41 L569.82,76.05 L570.66,75.64 L571.51,75.19 L572.35,74.70 L573.19,74.16 L574.03,73.58 L574.87,72.95 L575.71,72.27 L576.55,71.55 L577.39,70.77 L578.24,69.94 L579.08,69.06 L579.92,68.13 L580.76,67.15 L581.60,66.12 L582.44,65.04 L583.28,63.92 L584.12,62.75 L584.97,61.55 L585.81,60.31 L586.65,59.03 L587.49,57.72 L588.33,56.39 L589.17,55.04 L590.01,53.68 L590.85,52.30 L591.69,50.91 L592.54,49.53 L593.38,48.15 L594.22,46.78 L595.06,45.42 L595.90,44.09 L596.74,42.79 L597.58,41.51 L598.42,40.28 L599.27,39.09 L600.11,37.94 L600.95,36.85 L601.79,35.82 L602.63,34.84 L603.47,33.93 L604.31,33.09 L605.15,32.31 L606.00,31.61 L606.84,30.99 L607.68,30.44 L608.52,29.97 L609.36,29.58 L610.20,29.27 L611.04,29.04 L611.88,28.88 L612.73,28.81 L613.57,28.81 L614.41,28.87 L615.25,28.99 L616.09,29.16 L616.93,29.39 L617.77,29.67 L618.61,30.00 L619.46,30.38 L620.30,30.80 L621.14,31.27 L621.98,31.78 L622.82,32.34 L623.66,32.93 L624.50,33.55 L625.34,34.21 L626.19,34.90 L627.03,35.61 L627.87,36.36 L628.71,37.12 L629.55,37.91 L630.39,38.71 L631.23,39.54 L632.07,40.37 L632.92,41.22 L633.76,42.08 L634.60,42.94 L635.44,43.82 L636.28,44.69 L637.12,45.57 L637.96,46.45 L638.80,47.33 L639.65,48.20 L640.49,49.07 L641.33,49.94 L642.17,50.80 L643.01,51.65 L643.85,52.49 L644.69,53.32 L645.53,54.14 L646.38,54.95 L647.22,55.74 L648.06,56.53 L648.90,57.29 L649.74,58.05 L650.58,58.79 L651.42,59.51 L652.26,60.22 L653.11,60.91 L653.95,61.58 L654.79,62.24 L655.63,62.88 L656.47,63.50 L657.31,64.10 L658.15,64.69 L658.99,65.27 L659.84,65.82 L660.68,66.36 L661.52,66.88 L662.36,67.38 L663.20,67.87" fill="none" stroke="#7b78e6" stroke-width="1.4" stroke-linejoin="round"/>
<path d="M542.46,72.49 L542.92,72.09 L543.39,71.67 L543.85,71.24 L544.32,70.83 L544.79,70.49 L545.25,70.22 L545.72,69.95 L546.19,69.58 L546.65,69.08 L547.12,68.50 L547.58,67.97 L548.05,67.58 L548.52,67.31 L548.98,67.05 L549.45,66.76 L549.92,66.43 L550.38,66.10 L550.85,65.80 L551.31,65.45 L551.78,65.01 L552.25,64.48 L552.71,64.05 L553.18,63.88 L553.64,64.02 L554.11,64.31 L554.58,64.50 L555.04,64.52 L555.51,64.42 L555.98,64.28 L556.44,64.16 L556.91,64.05 L557.37,63.90 L557.84,63.69 L558.31,63.48 L558.77,63.32 L559.24,63.26 L559.71,63.25 L560.17,63.23 L560.64,63.14 L561.10,63.01 L561.57,62.83 L562.04,62.59 L562.50,62.25 L562.97,61.82 L563.43,61.35 L563.90,60.91 L564.37,60.55 L564.83,60.32 L565.30,60.22 L565.77,60.24 L566.23,60.33 L566.70,60.44 L567.16,60.47 L567.63,60.37 L568.10,60.17 L568.56,59.95 L569.03,59.76 L569.50,59.61 L569.96,59.51 L570.43,59.46 L570.89,59.48 L571.36,59.53 L571.83,59.54 L572.29,59.44 L572.76,59.24 L573.22,58.96 L573.69,58.70 L574.16,58.52 L574.62,58.47 L575.09,58.49 L575.56,58.53 L576.02,58.54 L576.49,58.48 L576.95,58.34 L577.42,58.12 L577.89,57.90 L578.35,57.70 L578.82,57.47 L579.29,57.17 L579.75,56.81 L580.22,56.49 L580.68,56.32 L581.15,56.28 L581.62,56.31 L582.08,56.31 L582.55,56.21 L583.01,56.01 L583.48,55.74 L583.95,55.41 L584.41,55.01 L584.88,54.60 L585.35,54.25 L585.81,54.03 L586.28,53.88 L586.74,53.75 L587.21,53.59 L587.68,53.35 L588.14,53.06 L588.61,52.77 L589.08,52.53 L589.54,52.33 L590.01,52.14 L590.47,51.93 L590.94,51.71 L591.41,51.49 L591.87,51.20 L592.34,50.77 L592.80,50.18 L593.27,49.49 L593.74,48.82 L594.20,48.25 L594.67,47.77 L595.14,47.32 L595.60,46.92 L596.07,46.66 L596.53,46.59 L597.00,46.54 L597.47,46.26 L597.93,45.65 L598.40,44.84 L598.87,44.02 L599.33,43.33 L599.80,42.74 L600.26,42.17 L600.73,41.61 L601.20,41.09 L601.66,40.64 L602.13,40.26 L602.59,39.88 L603.06,39.44 L603.53,38.98 L603.99,38.63 L604.46,38.48 L604.93,38.47 L605.39,38.41 L605.86,38.12 L606.32,37.65 L606.79,37.20 L607.26,36.89 L607.72,36.69 L608.19,36.49 L608.66,36.23 L609.12,35.89 L609.59,35.51 L610.05,35.13 L610.52,34.78 L610.99,34.52 L611.45,34.36 L611.92,34.28 L612.38,34.21 L612.85,34.07 L613.32,33.87 L613.78,33.68 L614.25,33.59 L614.72,33.58 L615.18,33.57 L615.65,33.45 L616.11,33.20 L616.58,32.89 L617.05,32.59 L617.51,32.40 L617.98,32.31 L618.45,32.27 L618.91,32.21 L619.38,32.05 L619.84,31.78 L620.31,31.42 L620.78,31.01 L621.24,30.63 L621.71,30.35 L622.18,30.22 L622.64,30.29 L623.11,30.56 L623.57,30.95 L624.04,31.36 L624.51,31.70 L624.97,31.92 L625.44,32.01 L625.90,31.96 L626.37,31.84 L626.84,31.73 L627.30,31.67 L627.77,31.67 L628.24,31.69 L628.70,31.68 L629.17,31.64 L629.63,31.64 L630.10,31.73 L630.57,31.93 L631.03,32.21 L631.50,32.53 L631.97,32.86 L632.43,33.22 L632.90,33.62 L633.36,34.06 L633.83,34.48 L634.30,34.83 L634.76,35.06 L635.23,35.24 L635.69,35.47 L636.16,35.80 L636.63,36.22 L637.09,36.70 L637.56,37.17 L638.03,37.55 L638.49,37.83 L638.96,38.02 L639.42,38.13 L639.89,38.17 L640.36,38.14 L640.82,38.10 L641.29,38.14 L641.76,38.39 L642.22,38.89 L642.69,39.60 L643.15,40.36 L643.62,41.01 L644.09,41.44 L644.55,41.58 L645.02,41.50 L645.48,41.36 L645.95,41.37 L646.42,41.60 L646.88,41.99 L647.35,42.37 L647.82,42.62 L648.28,42.69 L648.75,42.64 L649.21,42.55 L649.68,42.56 L650.15,42.76 L650.61,43.16 L651.08,43.66 L651.55,44.15 L652.01,44.63 L652.48,45.15 L652.94,45.75 L653.41,46.34 L653.88,46.82 L654.34,47.18 L654.81,47.50 L655.27,47.85 L655.74,48.20 L656.21,48.47 L656.67,48.65 L657.14,48.83 L657.61,49.08 L658.07,49.43 L658.54,49.80 L659.00,50.20 L659.47,50.67 L659.94,51.21 L660.40,51.78 L660.87,52.26 L661.34,52.58 L661.80,52.78 L662.27,53.01 L662.73,53.39 L663.20,53.94" fill="none" stroke="#1a1a1a" stroke-width="1.4" stroke-linejoin="round"/>
<line x1="495.50" y1="23.52" x2="495.50" y2="79.65" stroke="#231f20" stroke-width="1.3"/>
<line x1="663.20" y1="23.52" x2="663.20" y2="79.65" stroke="#231f20" stroke-width="1.3"/>
<line x1="494.90" y1="79.05" x2="663.80" y2="79.05" stroke="#231f20" stroke-width="1.3"/>
<line x1="492.50" y1="79.05" x2="495.50" y2="79.05" stroke="#231f20" stroke-width="1"/>
<line x1="663.20" y1="79.05" x2="666.20" y2="79.05" stroke="#231f20" stroke-width="1"/>
<text x="491.00" y="82.45" font-size="9.6" text-anchor="end" fill="#231f20" stroke="#231f20" stroke-width="0.22">0</text>
<text x="667.80" y="82.45" font-size="9.6" fill="#231f20" stroke="#231f20" stroke-width="0.22">0</text>
<line x1="492.50" y1="53.92" x2="495.50" y2="53.92" stroke="#231f20" stroke-width="1"/>
<line x1="663.20" y1="53.92" x2="666.20" y2="53.92" stroke="#231f20" stroke-width="1"/>
<text x="491.00" y="57.32" font-size="9.6" text-anchor="end" fill="#231f20" stroke="#231f20" stroke-width="0.22">50</text>
<text x="667.80" y="57.32" font-size="9.6" fill="#231f20" stroke="#231f20" stroke-width="0.22">50</text>
<line x1="492.50" y1="28.80" x2="495.50" y2="28.80" stroke="#231f20" stroke-width="1"/>
<line x1="663.20" y1="28.80" x2="666.20" y2="28.80" stroke="#231f20" stroke-width="1"/>
<text x="491.00" y="32.20" font-size="9.6" text-anchor="end" fill="#231f20" stroke="#231f20" stroke-width="0.22">100</text>
<text x="667.80" y="32.20" font-size="9.6" fill="#231f20" stroke="#231f20" stroke-width="0.22">100</text>
<line x1="506.68" y1="79.05" x2="506.68" y2="82.05" stroke="#231f20" stroke-width="1"/>
<text x="506.68" y="91.85" font-size="9.4" text-anchor="middle" fill="#231f20" stroke="#231f20" stroke-width="0.22">400</text>
<line x1="551.40" y1="79.05" x2="551.40" y2="82.05" stroke="#231f20" stroke-width="1"/>
<text x="551.40" y="91.85" font-size="9.4" text-anchor="middle" fill="#231f20" stroke="#231f20" stroke-width="0.22">500</text>
<line x1="596.12" y1="79.05" x2="596.12" y2="82.05" stroke="#231f20" stroke-width="1"/>
<text x="596.12" y="91.85" font-size="9.4" text-anchor="middle" fill="#231f20" stroke="#231f20" stroke-width="0.22">600</text>
<line x1="640.84" y1="79.05" x2="640.84" y2="82.05" stroke="#231f20" stroke-width="1"/>
<text x="640.84" y="91.85" font-size="9.4" text-anchor="middle" fill="#231f20" stroke="#231f20" stroke-width="0.22">700</text>
<text x="578.95" y="14.85" font-size="10.3" text-anchor="middle" fill="#231f20" stroke="#231f20" stroke-width="0.22">Probe <tspan font-weight="bold" font-size="10.8">3</tspan></text>
<text x="579.35" y="108.65" font-size="10.75" text-anchor="middle" fill="#231f20" stroke="#231f20" stroke-width="0.22">Wavelength (nm)</text>
<path d="M43.6,185.4 L44.6,185.0 L45.7,184.6 L46.7,184.0 L47.7,183.4 L48.8,182.7 L49.8,181.9 L50.8,181.0 L51.9,180.0 L52.9,178.9 L53.9,177.6 L55.0,176.2 L56.0,174.6 L57.0,173.0 L58.1,171.2 L59.1,169.2 L60.1,167.2 L61.2,165.0 L62.2,162.8 L63.2,160.5 L64.3,158.2 L65.3,155.8 L66.3,153.4 L67.4,151.1 L68.4,148.9 L69.4,146.7 L70.5,144.7 L71.5,142.8 L72.6,141.2 L73.6,139.7 L74.6,138.5 L75.7,137.6 L76.7,136.9 L77.7,136.6 L78.8,136.5 L79.8,136.7 L80.8,137.1 L81.9,137.7 L82.9,138.5 L83.9,139.5 L85.0,140.7 L86.0,142.1 L87.0,143.6 L88.1,145.2 L89.1,147.0 L90.1,148.8 L91.2,150.8 L92.2,152.7 L93.2,154.8 L94.3,156.8 L95.3,158.8 L96.3,160.8 L97.4,162.8 L98.4,164.7 L99.4,166.6" fill="none" stroke="#1a1a1a" stroke-width="1.3" stroke-dasharray="3.4,1.5" stroke-dashoffset="0.0"/>
<path d="M43.6,185.5 L44.6,185.2 L45.7,184.8 L46.7,184.3 L47.7,183.7 L48.8,183.1 L49.8,182.3 L50.8,181.4 L51.9,180.5 L52.9,179.4 L53.9,178.2 L55.0,176.8 L56.0,175.3 L57.0,173.7 L58.1,172.0 L59.1,170.1 L60.1,168.1 L61.2,166.0 L62.2,163.8 L63.2,161.5 L64.3,159.2 L65.3,156.8 L66.3,154.4 L67.4,152.1 L68.4,149.8 L69.4,147.6 L70.5,145.5 L71.5,143.6 L72.6,141.9 L73.6,140.3 L74.6,139.0 L75.7,138.0 L76.7,137.2 L77.7,136.7 L78.8,136.5 L79.8,136.6 L80.8,136.9 L81.9,137.4 L82.9,138.1 L83.9,139.1 L85.0,140.2 L86.0,141.5 L87.0,142.9 L88.1,144.5 L89.1,146.2 L90.1,148.0 L91.2,149.9 L92.2,151.9 L93.2,153.9 L94.3,155.9 L95.3,157.9 L96.3,160.0 L97.4,161.9 L98.4,163.9 L99.4,165.8" fill="none" stroke="#7b78e6" stroke-width="1.3" stroke-dasharray="3.4,1.5" stroke-dashoffset="0.9"/>
<path d="M43.6,185.7 L44.6,185.3 L45.7,184.9 L46.7,184.5 L47.7,184.0 L48.8,183.3 L49.8,182.6 L50.8,181.8 L51.9,180.9 L52.9,179.9 L53.9,178.7 L55.0,177.4 L56.0,176.0 L57.0,174.4 L58.1,172.7 L59.1,170.9 L60.1,169.0 L61.2,166.9 L62.2,164.7 L63.2,162.5 L64.3,160.2 L65.3,157.8 L66.3,155.5 L67.4,153.1 L68.4,150.8 L69.4,148.6 L70.5,146.4 L71.5,144.4 L72.6,142.6 L73.6,140.9 L74.6,139.5 L75.7,138.4 L76.7,137.5 L77.7,136.9 L78.8,136.5 L79.8,136.5 L80.8,136.7 L81.9,137.1 L82.9,137.7 L83.9,138.4 L85.0,139.3 L86.0,140.4 L87.0,141.7 L88.1,143.1 L89.1,144.6 L90.1,146.2 L91.2,147.9 L92.2,149.7 L93.2,151.6 L94.3,153.5 L95.3,155.4 L96.3,157.3 L97.4,159.2 L98.4,161.1 L99.4,162.9" fill="none" stroke="#2d84dc" stroke-width="1.3" stroke-dasharray="3.4,1.5" stroke-dashoffset="1.8"/>
<path d="M43.6,185.9 L44.6,185.6 L45.7,185.3 L46.7,184.9 L47.7,184.4 L48.8,183.9 L49.8,183.3 L50.8,182.5 L51.9,181.7 L52.9,180.8 L53.9,179.7 L55.0,178.5 L56.0,177.2 L57.0,175.8 L58.1,174.2 L59.1,172.5 L60.1,170.6 L61.2,168.7 L62.2,166.6 L63.2,164.4 L64.3,162.2 L65.3,159.9 L66.3,157.5 L67.4,155.1 L68.4,152.8 L69.4,150.5 L70.5,148.3 L71.5,146.1 L72.6,144.2 L73.6,142.3 L74.6,140.7 L75.7,139.4 L76.7,138.2 L77.7,137.4 L78.8,136.8 L79.8,136.5 L80.8,136.5 L81.9,136.7 L82.9,137.2 L83.9,137.8 L85.0,138.5 L86.0,139.5 L87.0,140.6 L88.1,141.9 L89.1,143.3 L90.1,144.8 L91.2,146.4 L92.2,148.2 L93.2,150.0 L94.3,151.8 L95.3,153.7 L96.3,155.6 L97.4,157.5 L98.4,159.5 L99.4,161.3" fill="none" stroke="#7fcff2" stroke-width="1.3" stroke-dasharray="3.4,1.5" stroke-dashoffset="2.7"/>
<path d="M43.6,185.8 L44.6,185.5 L45.7,185.2 L46.7,184.8 L47.7,184.3 L48.8,183.8 L49.8,183.2 L50.8,182.5 L51.9,181.7 L52.9,180.8 L53.9,179.7 L55.0,178.6 L56.0,177.3 L57.0,175.9 L58.1,174.4 L59.1,172.8 L60.1,171.0 L61.2,169.2 L62.2,167.2 L63.2,165.1 L64.3,162.9 L65.3,160.7 L66.3,158.5 L67.4,156.2 L68.4,153.9 L69.4,151.6 L70.5,149.4 L71.5,147.3 L72.6,145.3 L73.6,143.5 L74.6,141.8 L75.7,140.3 L76.7,139.0 L77.7,138.0 L78.8,137.2 L79.8,136.7 L80.8,136.5 L81.9,136.5 L82.9,136.8 L83.9,137.2 L85.0,137.8 L86.0,138.5 L87.0,139.5 L88.1,140.6 L89.1,141.8 L90.1,143.1 L91.2,144.6 L92.2,146.2 L93.2,147.9 L94.3,149.6 L95.3,151.4 L96.3,153.2 L97.4,155.1 L98.4,157.0 L99.4,158.8" fill="none" stroke="#78d64b" stroke-width="1.3" stroke-dasharray="3.4,1.5" stroke-dashoffset="3.6"/>
<path d="M43.6,185.2 L44.6,184.8 L45.7,184.3 L46.7,183.8 L47.7,183.1 L48.8,182.4 L49.8,181.6 L50.8,180.6 L51.9,179.5 L52.9,178.3 L53.9,177.0 L55.0,175.5 L56.0,173.9 L57.0,172.2 L58.1,170.3 L59.1,168.4 L60.1,166.3 L61.2,164.1 L62.2,161.8 L63.2,159.5 L64.3,157.1 L65.3,154.8 L66.3,152.4 L67.4,150.1 L68.4,147.9 L69.4,145.8 L70.5,143.9 L71.5,142.1 L72.6,140.5 L73.6,139.2 L74.6,138.1 L75.7,137.3 L76.7,136.7 L77.7,136.5 L78.8,136.6 L79.8,136.8 L80.8,137.3 L81.9,137.9 L82.9,138.8 L83.9,139.8 L85.0,141.0 L86.0,142.4 L87.0,143.9 L88.1,145.5 L89.1,147.2 L90.1,149.0 L91.2,150.9 L92.2,152.8 L93.2,154.8 L94.3,156.8 L95.3,158.7 L96.3,160.7 L97.4,162.6 L98.4,164.5 L99.4,166.3" fill="none" stroke="#f29a3c" stroke-width="1.3" stroke-dasharray="3.4,1.5" stroke-dashoffset="4.5"/>
<path d="M43.6,184.9 L44.6,184.4 L45.7,183.8 L46.7,183.1 L47.7,182.3 L48.8,181.4 L49.8,180.3 L50.8,179.1 L51.9,177.8 L52.9,176.3 L53.9,174.6 L55.0,172.8 L56.0,170.9 L57.0,168.8 L58.1,166.6 L59.1,164.2 L60.1,161.8 L61.2,159.3 L62.2,156.8 L63.2,154.2 L64.3,151.7 L65.3,149.3 L66.3,147.0 L67.4,144.8 L68.4,142.8 L69.4,141.0 L70.5,139.5 L71.5,138.3 L72.6,137.4 L73.6,136.8 L74.6,136.5 L75.7,136.7 L76.7,137.4 L77.7,138.6 L78.8,140.3 L79.8,142.5 L80.8,145.0 L81.9,147.8 L82.9,150.8 L83.9,154.0 L85.0,157.2 L86.0,160.4 L87.0,163.6 L88.1,166.6 L89.1,169.4 L90.1,172.0 L91.2,174.3 L92.2,176.4 L93.2,178.3 L94.3,179.9 L95.3,181.3 L96.3,182.4 L97.4,183.4 L98.4,184.2 L99.4,184.9" fill="none" stroke="#f6c878" stroke-width="1.3" stroke-dasharray="3.4,1.5" stroke-dashoffset="5.4"/>
<path d="M101.67,187.10 L102.51,186.66 L103.35,186.17 L104.19,185.62 L105.03,185.02 L105.88,184.37 L106.72,183.64 L107.56,182.86 L108.40,182.00 L109.24,181.07 L110.08,180.07 L110.93,178.99 L111.77,177.84 L112.61,176.62 L113.45,175.32 L114.29,173.95 L115.14,172.51 L115.98,171.02 L116.82,169.46 L117.66,167.85 L118.50,166.20 L119.34,164.51 L120.19,162.78 L121.03,161.04 L121.87,159.29 L122.71,157.54 L123.55,155.79 L124.40,154.07 L125.24,152.37 L126.08,150.72 L126.92,149.11 L127.76,147.57 L128.60,146.10 L129.45,144.70 L130.29,143.40 L131.13,142.19 L131.97,141.09 L132.81,140.09 L133.65,139.21 L134.50,138.45 L135.34,137.81 L136.18,137.30 L137.02,136.91 L137.86,136.65 L138.71,136.52 L139.55,136.51 L140.39,136.62 L141.23,136.84 L142.07,137.17 L142.91,137.61 L143.76,138.14 L144.60,138.77 L145.44,139.50 L146.28,140.30 L147.12,141.18 L147.97,142.13 L148.81,143.15 L149.65,144.22 L150.49,145.35 L151.33,146.51 L152.17,147.71 L153.02,148.95 L153.86,150.20 L154.70,151.48 L155.54,152.76 L156.38,154.06 L157.23,155.35 L158.07,156.64 L158.91,157.92 L159.75,159.19 L160.59,160.44 L161.43,161.68 L162.28,162.88 L163.12,164.07 L163.96,165.22 L164.80,166.35 L165.64,167.44 L166.48,168.49 L167.33,169.52 L168.17,170.50 L169.01,171.45 L169.85,172.36 L170.69,173.24 L171.54,174.08 L172.38,174.88 L173.22,175.64 L174.06,176.37 L174.90,177.06 L175.74,177.72 L176.59,178.34 L177.43,178.93 L178.27,179.49 L179.11,180.01 L179.95,180.51 L180.80,180.97 L181.64,181.41 L182.48,181.82 L183.32,182.21 L184.16,182.57 L185.00,182.91 L185.85,183.22 L186.69,183.52 L187.53,183.79 L188.37,184.05 L189.21,184.29 L190.06,184.51 L190.90,184.71 L191.74,184.91 L192.58,185.08 L193.42,185.25 L194.26,185.40 L195.11,185.54 L195.95,185.67 L196.79,185.79 L197.63,185.90 L198.47,186.00 L199.31,186.09 L200.16,186.18 L201.00,186.26 L201.84,186.33 L202.68,186.40 L203.52,186.46 L204.37,186.52 L205.21,186.57 L206.05,186.62 L206.89,186.66 L207.73,186.70 L208.57,186.73 L209.42,186.77 L210.26,186.80 L211.10,186.83" fill="none" stroke="#f29a3c" stroke-width="1.4" stroke-linejoin="round"/>
<path d="M101.67,187.10 L102.51,186.83 L103.35,186.52 L104.19,186.17 L105.03,185.78 L105.88,185.34 L106.72,184.85 L107.56,184.30 L108.40,183.69 L109.24,183.02 L110.08,182.28 L110.93,181.48 L111.77,180.60 L112.61,179.64 L113.45,178.62 L114.29,177.51 L115.14,176.33 L115.98,175.08 L116.82,173.76 L117.66,172.36 L118.50,170.91 L119.34,169.39 L120.19,167.82 L121.03,166.20 L121.87,164.54 L122.71,162.84 L123.55,161.13 L124.40,159.40 L125.24,157.67 L126.08,155.94 L126.92,154.23 L127.76,152.54 L128.60,150.90 L129.45,149.30 L130.29,147.76 L131.13,146.29 L131.97,144.89 L132.81,143.58 L133.65,142.36 L134.50,141.25 L135.34,140.24 L136.18,139.35 L137.02,138.57 L137.86,137.91 L138.71,137.38 L139.55,136.97 L140.39,136.69 L141.23,136.54 L142.07,136.50 L142.91,136.59 L143.76,136.78 L144.60,137.08 L145.44,137.48 L146.28,137.98 L147.12,138.57 L147.97,139.25 L148.81,140.02 L149.65,140.86 L150.49,141.76 L151.33,142.74 L152.17,143.77 L153.02,144.85 L153.86,145.97 L154.70,147.14 L155.54,148.33 L156.38,149.55 L157.23,150.79 L158.07,152.05 L158.91,153.31 L159.75,154.58 L160.59,155.85 L161.43,157.11 L162.28,158.36 L163.12,159.60 L163.96,160.82 L164.80,162.02 L165.64,163.20 L166.48,164.35 L167.33,165.47 L168.17,166.57 L169.01,167.63 L169.85,168.66 L170.69,169.65 L171.54,170.62 L172.38,171.54 L173.22,172.43 L174.06,173.29 L174.90,174.11 L175.74,174.89 L176.59,175.64 L177.43,176.35 L178.27,177.03 L179.11,177.67 L179.95,178.28 L180.80,178.86 L181.64,179.41 L182.48,179.93 L183.32,180.42 L184.16,180.88 L185.00,181.32 L185.85,181.72 L186.69,182.11 L187.53,182.47 L188.37,182.80 L189.21,183.12 L190.06,183.42 L190.90,183.69 L191.74,183.95 L192.58,184.19 L193.42,184.41 L194.26,184.62 L195.11,184.81 L195.95,184.99 L196.79,185.16 L197.63,185.32 L198.47,185.46 L199.31,185.59 L200.16,185.71 L201.00,185.83 L201.84,185.93 L202.68,186.03 L203.52,186.12 L204.37,186.20 L205.21,186.28 L206.05,186.35 L206.89,186.41 L207.73,186.47 L208.57,186.52 L209.42,186.57 L210.26,186.62 L211.10,186.66" fill="none" stroke="#f6c878" stroke-width="1.4" stroke-linejoin="round"/>
<path d="M101.67,187.10 L102.51,187.09 L103.35,187.08 L104.19,187.06 L105.03,187.04 L105.88,187.01 L106.72,186.98 L107.56,186.94 L108.40,186.90 L109.24,186.85 L110.08,186.78 L110.93,186.70 L111.77,186.61 L112.61,186.50 L113.45,186.38 L114.29,186.23 L115.14,186.06 L115.98,185.86 L116.82,185.64 L117.66,185.38 L118.50,185.09 L119.34,184.76 L120.19,184.39 L121.03,183.98 L121.87,183.52 L122.71,183.01 L123.55,182.45 L124.40,181.84 L125.24,181.17 L126.08,180.44 L126.92,179.65 L127.76,178.80 L128.60,177.89 L129.45,176.91 L130.29,175.88 L131.13,174.79 L131.97,173.63 L132.81,172.42 L133.65,171.16 L134.50,169.84 L135.34,168.48 L136.18,167.08 L137.02,165.64 L137.86,164.17 L138.71,162.67 L139.55,161.15 L140.39,159.62 L141.23,158.09 L142.07,156.55 L142.91,155.03 L143.76,153.52 L144.60,152.03 L145.44,150.58 L146.28,149.17 L147.12,147.80 L147.97,146.48 L148.81,145.23 L149.65,144.04 L150.49,142.92 L151.33,141.88 L152.17,140.93 L153.02,140.06 L153.86,139.27 L154.70,138.59 L155.54,138.00 L156.38,137.50 L157.23,137.10 L158.07,136.81 L158.91,136.61 L159.75,136.51 L160.59,136.52 L161.43,136.67 L162.28,136.97 L163.12,137.41 L163.96,137.99 L164.80,138.69 L165.64,139.52 L166.48,140.46 L167.33,141.50 L168.17,142.64 L169.01,143.86 L169.85,145.15 L170.69,146.50 L171.54,147.90 L172.38,149.35 L173.22,150.83 L174.06,152.33 L174.90,153.84 L175.74,155.36 L176.59,156.87 L177.43,158.38 L178.27,159.86 L179.11,161.33 L179.95,162.76 L180.80,164.16 L181.64,165.52 L182.48,166.84 L183.32,168.12 L184.16,169.35 L185.00,170.53 L185.85,171.66 L186.69,172.73 L187.53,173.76 L188.37,174.73 L189.21,175.65 L190.06,176.52 L190.90,177.34 L191.74,178.11 L192.58,178.83 L193.42,179.51 L194.26,180.14 L195.11,180.73 L195.95,181.27 L196.79,181.78 L197.63,182.25 L198.47,182.68 L199.31,183.08 L200.16,183.45 L201.00,183.79 L201.84,184.10 L202.68,184.39 L203.52,184.65 L204.37,184.89 L205.21,185.11 L206.05,185.31 L206.89,185.49 L207.73,185.65 L208.57,185.80 L209.42,185.93 L210.26,186.06 L211.10,186.17" fill="none" stroke="#78d64b" stroke-width="1.4" stroke-linejoin="round"/>
<path d="M101.67,187.10 L102.51,187.10 L103.35,187.10 L104.19,187.09 L105.03,187.09 L105.88,187.08 L106.72,187.07 L107.56,187.06 L108.40,187.05 L109.24,187.04 L110.08,187.02 L110.93,186.99 L111.77,186.97 L112.61,186.93 L113.45,186.89 L114.29,186.84 L115.14,186.78 L115.98,186.70 L116.82,186.62 L117.66,186.51 L118.50,186.39 L119.34,186.25 L120.19,186.09 L121.03,185.90 L121.87,185.69 L122.71,185.44 L123.55,185.17 L124.40,184.85 L125.24,184.50 L126.08,184.10 L126.92,183.66 L127.76,183.17 L128.60,182.63 L129.45,182.03 L130.29,181.38 L131.13,180.67 L131.97,179.91 L132.81,179.08 L133.65,178.19 L134.50,177.24 L135.34,176.23 L136.18,175.16 L137.02,174.03 L137.86,172.85 L138.71,171.61 L139.55,170.31 L140.39,168.97 L141.23,167.59 L142.07,166.16 L142.91,164.70 L143.76,163.22 L144.60,161.71 L145.44,160.18 L146.28,158.65 L147.12,157.12 L147.97,155.59 L148.81,154.08 L149.65,152.58 L150.49,151.12 L151.33,149.69 L152.17,148.30 L153.02,146.97 L153.86,145.69 L154.70,144.48 L155.54,143.33 L156.38,142.27 L157.23,141.28 L158.07,140.37 L158.91,139.56 L159.75,138.83 L160.59,138.21 L161.43,137.67 L162.28,137.24 L163.12,136.91 L163.96,136.67 L164.80,136.54 L165.64,136.50 L166.48,136.59 L167.33,136.81 L168.17,137.17 L169.01,137.65 L169.85,138.26 L170.69,138.98 L171.54,139.81 L172.38,140.74 L173.22,141.76 L174.06,142.87 L174.90,144.04 L175.74,145.28 L176.59,146.58 L177.43,147.92 L178.27,149.30 L179.11,150.71 L179.95,152.15 L180.80,153.59 L181.64,155.04 L182.48,156.49 L183.32,157.92 L184.16,159.35 L185.00,160.75 L185.85,162.14 L186.69,163.49 L187.53,164.80 L188.37,166.09 L189.21,167.33 L190.06,168.53 L190.90,169.68 L191.74,170.80 L192.58,171.86 L193.42,172.88 L194.26,173.85 L195.11,174.77 L195.95,175.65 L196.79,176.48 L197.63,177.26 L198.47,178.00 L199.31,178.69 L200.16,179.35 L201.00,179.96 L201.84,180.53 L202.68,181.06 L203.52,181.56 L204.37,182.02 L205.21,182.45 L206.05,182.85 L206.89,183.22 L207.73,183.56 L208.57,183.88 L209.42,184.17 L210.26,184.44 L211.10,184.68" fill="none" stroke="#7fcff2" stroke-width="1.4" stroke-linejoin="round"/>
<path d="M101.67,187.10 L102.51,187.10 L103.35,187.10 L104.19,187.10 L105.03,187.10 L105.88,187.10 L106.72,187.09 L107.56,187.09 L108.40,187.09 L109.24,187.08 L110.08,187.08 L110.93,187.07 L111.77,187.06 L112.61,187.05 L113.45,187.04 L114.29,187.02 L115.14,187.00 L115.98,186.97 L116.82,186.93 L117.66,186.89 L118.50,186.85 L119.34,186.79 L120.19,186.72 L121.03,186.63 L121.87,186.53 L122.71,186.42 L123.55,186.29 L124.40,186.13 L125.24,185.95 L126.08,185.74 L126.92,185.50 L127.76,185.24 L128.60,184.93 L129.45,184.59 L130.29,184.20 L131.13,183.77 L131.97,183.30 L132.81,182.77 L133.65,182.19 L134.50,181.56 L135.34,180.87 L136.18,180.12 L137.02,179.32 L137.86,178.45 L138.71,177.52 L139.55,176.53 L140.39,175.48 L141.23,174.37 L142.07,173.20 L142.91,171.98 L143.76,170.70 L144.60,169.38 L145.44,168.01 L146.28,166.59 L147.12,165.15 L147.97,163.67 L148.81,162.17 L149.65,160.65 L150.49,159.12 L151.33,157.59 L152.17,156.06 L153.02,154.54 L153.86,153.04 L154.70,151.57 L155.54,150.13 L156.38,148.73 L157.23,147.38 L158.07,146.09 L158.91,144.85 L159.75,143.69 L160.59,142.59 L161.43,141.58 L162.28,140.65 L163.12,139.80 L163.96,139.05 L164.80,138.39 L165.64,137.83 L166.48,137.36 L167.33,137.00 L168.17,136.73 L169.01,136.57 L169.85,136.50 L170.69,136.53 L171.54,136.67 L172.38,136.90 L173.22,137.23 L174.06,137.66 L174.90,138.17 L175.74,138.76 L176.59,139.44 L177.43,140.19 L178.27,141.01 L179.11,141.89 L179.95,142.83 L180.80,143.83 L181.64,144.87 L182.48,145.95 L183.32,147.07 L184.16,148.22 L185.00,149.39 L185.85,150.58 L186.69,151.79 L187.53,153.01 L188.37,154.23 L189.21,155.45 L190.06,156.67 L190.90,157.89 L191.74,159.09 L192.58,160.28 L193.42,161.45 L194.26,162.60 L195.11,163.72 L195.95,164.83 L196.79,165.90 L197.63,166.95 L198.47,167.97 L199.31,168.96 L200.16,169.91 L201.00,170.84 L201.84,171.73 L202.68,172.58 L203.52,173.41 L204.37,174.20 L205.21,174.96 L206.05,175.68 L206.89,176.37 L207.73,177.03 L208.57,177.66 L209.42,178.25 L210.26,178.82 L211.10,179.36" fill="none" stroke="#2d84dc" stroke-width="1.4" stroke-linejoin="round"/>
<path d="M101.67,187.10 L102.51,187.10 L103.35,187.10 L104.19,187.10 L105.03,187.10 L105.88,187.10 L106.72,187.10 L107.56,187.10 L108.40,187.10 L109.24,187.10 L110.08,187.10 L110.93,187.10 L111.77,187.09 L112.61,187.09 L113.45,187.09 L114.29,187.09 L115.14,187.08 L115.98,187.08 L116.82,187.07 L117.66,187.07 L118.50,187.06 L119.34,187.04 L120.19,187.03 L121.03,187.01 L121.87,186.99 L122.71,186.96 L123.55,186.93 L124.40,186.89 L125.24,186.84 L126.08,186.79 L126.92,186.72 L127.76,186.64 L128.60,186.55 L129.45,186.45 L130.29,186.33 L131.13,186.19 L131.97,186.02 L132.81,185.84 L133.65,185.63 L134.50,185.39 L135.34,185.12 L136.18,184.82 L137.02,184.48 L137.86,184.11 L138.71,183.70 L139.55,183.24 L140.39,182.74 L141.23,182.19 L142.07,181.59 L142.91,180.95 L143.76,180.25 L144.60,179.49 L145.44,178.69 L146.28,177.83 L147.12,176.91 L147.97,175.94 L148.81,174.92 L149.65,173.85 L150.49,172.72 L151.33,171.55 L152.17,170.33 L153.02,169.07 L153.86,167.77 L154.70,166.44 L155.54,165.07 L156.38,163.68 L157.23,162.26 L158.07,160.84 L158.91,159.40 L159.75,157.95 L160.59,156.51 L161.43,155.08 L162.28,153.66 L163.12,152.26 L163.96,150.89 L164.80,149.55 L165.64,148.25 L166.48,147.00 L167.33,145.79 L168.17,144.65 L169.01,143.56 L169.85,142.54 L170.69,141.59 L171.54,140.71 L172.38,139.91 L173.22,139.19 L174.06,138.55 L174.90,137.99 L175.74,137.53 L176.59,137.15 L177.43,136.85 L178.27,136.65 L179.11,136.53 L179.95,136.50 L180.80,136.54 L181.64,136.66 L182.48,136.83 L183.32,137.07 L184.16,137.38 L185.00,137.74 L185.85,138.16 L186.69,138.64 L187.53,139.16 L188.37,139.74 L189.21,140.37 L190.06,141.03 L190.90,141.74 L191.74,142.49 L192.58,143.27 L193.42,144.08 L194.26,144.93 L195.11,145.80 L195.95,146.69 L196.79,147.60 L197.63,148.52 L198.47,149.47 L199.31,150.42 L200.16,151.38 L201.00,152.35 L201.84,153.32 L202.68,154.30 L203.52,155.27 L204.37,156.24 L205.21,157.21 L206.05,158.17 L206.89,159.12 L207.73,160.06 L208.57,160.99 L209.42,161.91 L210.26,162.82 L211.10,163.70" fill="none" stroke="#7b78e6" stroke-width="1.4" stroke-linejoin="round"/>
<path d="M90.50,187.10 L91.34,186.78 L92.19,186.47 L93.03,186.18 L93.87,185.90 L94.72,185.65 L95.56,185.42 L96.40,185.19 L97.25,184.97 L98.09,184.75 L98.93,184.55 L99.78,184.38 L100.62,184.22 L101.46,184.09 L102.31,183.99 L103.15,183.90 L103.99,183.83 L104.84,183.76 L105.68,183.70 L106.52,183.65 L107.37,183.59 L108.21,183.53 L109.05,183.46 L109.90,183.38 L110.74,183.29 L111.58,183.18 L112.43,183.06 L113.27,182.93 L114.11,182.79 L114.96,182.63 L115.80,182.47 L116.64,182.30 L117.49,182.12 L118.33,181.94 L119.17,181.75 L120.02,181.56 L120.86,181.36 L121.70,181.16 L122.55,180.97 L123.39,180.77 L124.23,180.57 L125.08,180.38 L125.92,180.18 L126.76,179.99 L127.61,179.80 L128.45,179.61 L129.29,179.42 L130.14,179.22 L130.98,179.01 L131.82,178.80 L132.67,178.58 L133.51,178.35 L134.35,178.12 L135.20,177.86 L136.04,177.60 L136.88,177.32 L137.73,177.03 L138.57,176.71 L139.41,176.38 L140.26,176.01 L141.10,175.60 L141.94,175.15 L142.79,174.66 L143.63,174.14 L144.47,173.58 L145.32,173.00 L146.16,172.38 L147.00,171.75 L147.85,171.08 L148.69,170.40 L149.53,169.70 L150.38,168.98 L151.22,168.25 L152.07,167.51 L152.91,166.76 L153.75,166.01 L154.60,165.22 L155.44,164.36 L156.28,163.44 L157.13,162.46 L157.97,161.44 L158.81,160.38 L159.66,159.28 L160.50,158.17 L161.34,157.05 L162.19,155.92 L163.03,154.80 L163.87,153.69 L164.72,152.61 L165.56,151.57 L166.40,150.56 L167.25,149.61 L168.09,148.71 L168.93,147.88 L169.78,147.07 L170.62,146.25 L171.46,145.44 L172.31,144.64 L173.15,143.86 L173.99,143.11 L174.84,142.38 L175.68,141.69 L176.52,141.05 L177.37,140.45 L178.21,139.90 L179.05,139.42 L179.90,139.00 L180.74,138.61 L181.58,138.21 L182.43,137.83 L183.27,137.47 L184.11,137.15 L184.96,136.88 L185.80,136.67 L186.64,136.54 L187.49,136.50 L188.33,136.54 L189.17,136.64 L190.02,136.80 L190.86,137.00 L191.70,137.23 L192.55,137.49 L193.39,137.77 L194.23,138.05 L195.08,138.40 L195.92,138.85 L196.76,139.37 L197.61,139.95 L198.45,140.58 L199.29,141.25 L200.14,141.94 L200.98,142.63 L201.82,143.31 L202.67,143.98 L203.51,144.66 L204.35,145.37 L205.20,146.09 L206.04,146.83 L206.88,147.60 L207.73,148.38 L208.57,149.18 L209.41,149.99 L210.26,150.83 L211.10,151.68" fill="none" stroke="#1a1a1a" stroke-width="1.4" stroke-linejoin="round"/>
<line x1="43.60" y1="131.19" x2="43.60" y2="187.70" stroke="#231f20" stroke-width="1.3"/>
<line x1="211.10" y1="131.19" x2="211.10" y2="187.70" stroke="#231f20" stroke-width="1.3"/>
<line x1="43.00" y1="187.10" x2="211.70" y2="187.10" stroke="#231f20" stroke-width="1.3"/>
<line x1="40.60" y1="187.10" x2="43.60" y2="187.10" stroke="#231f20" stroke-width="1"/>
<line x1="211.10" y1="187.10" x2="214.10" y2="187.10" stroke="#231f20" stroke-width="1"/>
<text x="39.10" y="190.50" font-size="9.6" text-anchor="end" fill="#231f20" stroke="#231f20" stroke-width="0.22">0</text>
<text x="215.70" y="190.50" font-size="9.6" fill="#231f20" stroke="#231f20" stroke-width="0.22">0</text>
<line x1="40.60" y1="161.80" x2="43.60" y2="161.80" stroke="#231f20" stroke-width="1"/>
<line x1="211.10" y1="161.80" x2="214.10" y2="161.80" stroke="#231f20" stroke-width="1"/>
<text x="39.10" y="165.20" font-size="9.6" text-anchor="end" fill="#231f20" stroke="#231f20" stroke-width="0.22">50</text>
<text x="215.70" y="165.20" font-size="9.6" fill="#231f20" stroke="#231f20" stroke-width="0.22">50</text>
<line x1="40.60" y1="136.50" x2="43.60" y2="136.50" stroke="#231f20" stroke-width="1"/>
<line x1="211.10" y1="136.50" x2="214.10" y2="136.50" stroke="#231f20" stroke-width="1"/>
<text x="39.10" y="139.90" font-size="9.6" text-anchor="end" fill="#231f20" stroke="#231f20" stroke-width="0.22">100</text>
<text x="215.70" y="139.90" font-size="9.6" fill="#231f20" stroke="#231f20" stroke-width="0.22">100</text>
<line x1="54.77" y1="187.10" x2="54.77" y2="190.10" stroke="#231f20" stroke-width="1"/>
<text x="54.77" y="199.90" font-size="9.4" text-anchor="middle" fill="#231f20" stroke="#231f20" stroke-width="0.22">400</text>
<line x1="99.43" y1="187.10" x2="99.43" y2="190.10" stroke="#231f20" stroke-width="1"/>
<text x="99.43" y="199.90" font-size="9.4" text-anchor="middle" fill="#231f20" stroke="#231f20" stroke-width="0.22">500</text>
<line x1="144.10" y1="187.10" x2="144.10" y2="190.10" stroke="#231f20" stroke-width="1"/>
<text x="144.10" y="199.90" font-size="9.4" text-anchor="middle" fill="#231f20" stroke="#231f20" stroke-width="0.22">600</text>
<line x1="188.77" y1="187.10" x2="188.77" y2="190.10" stroke="#231f20" stroke-width="1"/>
<text x="188.77" y="199.90" font-size="9.4" text-anchor="middle" fill="#231f20" stroke="#231f20" stroke-width="0.22">700</text>
<text x="126.95" y="122.90" font-size="10.3" text-anchor="middle" fill="#231f20" stroke="#231f20" stroke-width="0.22">Probe <tspan font-weight="bold" font-size="10.8">4</tspan></text>
<text x="127.35" y="216.70" font-size="10.75" text-anchor="middle" fill="#231f20" stroke="#231f20" stroke-width="0.22">Wavelength (nm)</text>
<path d="M270.8,185.2 L271.8,184.8 L272.9,184.3 L273.9,183.8 L274.9,183.1 L276.0,182.4 L277.0,181.6 L278.0,180.6 L279.1,179.5 L280.1,178.3 L281.1,177.0 L282.2,175.5 L283.2,173.9 L284.2,172.2 L285.3,170.3 L286.3,168.4 L287.3,166.3 L288.4,164.1 L289.4,161.8 L290.4,159.5 L291.5,157.1 L292.5,154.8 L293.5,152.4 L294.6,150.1 L295.6,147.9 L296.6,145.8 L297.7,143.9 L298.7,142.1 L299.7,140.5 L300.7,139.2 L301.8,138.1 L302.8,137.3 L303.8,136.7 L304.9,136.5 L305.9,136.6 L306.9,136.8 L308.0,137.3 L309.0,138.0 L310.0,138.9 L311.1,140.0 L312.1,141.3 L313.1,142.7 L314.2,144.3 L315.2,146.0 L316.2,147.8 L317.3,149.7 L318.3,151.6 L319.3,153.6 L320.4,155.6 L321.4,157.7 L322.4,159.7 L323.5,161.7 L324.5,163.6 L325.5,165.5 L326.6,167.3" fill="none" stroke="#1a1a1a" stroke-width="1.3" stroke-dasharray="3.4,1.5" stroke-dashoffset="0.0"/>
<path d="M270.8,185.4 L271.8,185.0 L272.9,184.6 L273.9,184.0 L274.9,183.4 L276.0,182.7 L277.0,181.9 L278.0,181.0 L279.1,180.0 L280.1,178.9 L281.1,177.6 L282.2,176.2 L283.2,174.6 L284.2,173.0 L285.3,171.2 L286.3,169.2 L287.3,167.2 L288.4,165.0 L289.4,162.8 L290.4,160.5 L291.5,158.2 L292.5,155.8 L293.5,153.4 L294.6,151.1 L295.6,148.9 L296.6,146.7 L297.7,144.7 L298.7,142.8 L299.7,141.2 L300.7,139.7 L301.8,138.5 L302.8,137.6 L303.8,136.9 L304.9,136.6 L305.9,136.5 L306.9,136.7 L308.0,137.1 L309.0,137.7 L310.0,138.5 L311.1,139.5 L312.1,140.7 L313.1,142.1 L314.2,143.6 L315.2,145.2 L316.2,147.0 L317.3,148.8 L318.3,150.8 L319.3,152.7 L320.4,154.8 L321.4,156.8 L322.4,158.8 L323.5,160.8 L324.5,162.8 L325.5,164.7 L326.6,166.6" fill="none" stroke="#7b78e6" stroke-width="1.3" stroke-dasharray="3.4,1.5" stroke-dashoffset="0.9"/>
<path d="M270.8,185.5 L271.8,185.2 L272.9,184.8 L273.9,184.3 L274.9,183.7 L276.0,183.1 L277.0,182.3 L278.0,181.4 L279.1,180.5 L280.1,179.4 L281.1,178.2 L282.2,176.8 L283.2,175.3 L284.2,173.7 L285.3,172.0 L286.3,170.1 L287.3,168.1 L288.4,166.0 L289.4,163.8 L290.4,161.5 L291.5,159.2 L292.5,156.8 L293.5,154.4 L294.6,152.1 L295.6,149.8 L296.6,147.6 L297.7,145.5 L298.7,143.6 L299.7,141.9 L300.7,140.3 L301.8,139.0 L302.8,138.0 L303.8,137.2 L304.9,136.7 L305.9,136.5 L306.9,136.6 L308.0,136.8 L309.0,137.3 L310.0,138.0 L311.1,138.8 L312.1,139.8 L313.1,141.0 L314.2,142.3 L315.2,143.7 L316.2,145.3 L317.3,146.9 L318.3,148.7 L319.3,150.5 L320.4,152.4 L321.4,154.3 L322.4,156.2 L323.5,158.1 L324.5,160.0 L325.5,161.9 L326.6,163.7" fill="none" stroke="#2d84dc" stroke-width="1.3" stroke-dasharray="3.4,1.5" stroke-dashoffset="1.8"/>
<path d="M270.8,185.8 L271.8,185.5 L272.9,185.1 L273.9,184.7 L274.9,184.2 L276.0,183.6 L277.0,183.0 L278.0,182.2 L279.1,181.3 L280.1,180.3 L281.1,179.2 L282.2,178.0 L283.2,176.6 L284.2,175.1 L285.3,173.5 L286.3,171.7 L287.3,169.8 L288.4,167.8 L289.4,165.7 L290.4,163.5 L291.5,161.2 L292.5,158.8 L293.5,156.5 L294.6,154.1 L295.6,151.8 L296.6,149.5 L297.7,147.3 L298.7,145.3 L299.7,143.4 L300.7,141.6 L301.8,140.1 L302.8,138.8 L303.8,137.8 L304.9,137.1 L305.9,136.6 L306.9,136.5 L308.0,136.6 L309.0,136.9 L310.0,137.4 L311.1,138.1 L312.1,138.9 L313.1,140.0 L314.2,141.1 L315.2,142.5 L316.2,143.9 L317.3,145.5 L318.3,147.2 L319.3,148.9 L320.4,150.8 L321.4,152.6 L322.4,154.5 L323.5,156.5 L324.5,158.4 L325.5,160.3 L326.6,162.2" fill="none" stroke="#7fcff2" stroke-width="1.3" stroke-dasharray="3.4,1.5" stroke-dashoffset="2.7"/>
<path d="M270.8,185.7 L271.8,185.4 L272.9,185.0 L273.9,184.6 L274.9,184.1 L276.0,183.5 L277.0,182.9 L278.0,182.1 L279.1,181.3 L280.1,180.3 L281.1,179.3 L282.2,178.1 L283.2,176.7 L284.2,175.3 L285.3,173.7 L286.3,172.1 L287.3,170.2 L288.4,168.3 L289.4,166.3 L290.4,164.2 L291.5,162.0 L292.5,159.8 L293.5,157.5 L294.6,155.2 L295.6,152.9 L296.6,150.7 L297.7,148.5 L298.7,146.4 L299.7,144.5 L300.7,142.7 L301.8,141.1 L302.8,139.7 L303.8,138.6 L304.9,137.6 L305.9,137.0 L306.9,136.6 L308.0,136.5 L309.0,136.6 L310.0,136.9 L311.1,137.4 L312.1,138.1 L313.1,138.9 L314.2,139.9 L315.2,141.1 L316.2,142.4 L317.3,143.8 L318.3,145.3 L319.3,146.9 L320.4,148.6 L321.4,150.4 L322.4,152.2 L323.5,154.0 L324.5,155.9 L325.5,157.8 L326.6,159.6" fill="none" stroke="#78d64b" stroke-width="1.3" stroke-dasharray="3.4,1.5" stroke-dashoffset="3.6"/>
<path d="M270.8,185.2 L271.8,184.8 L272.9,184.3 L273.9,183.8 L274.9,183.1 L276.0,182.4 L277.0,181.6 L278.0,180.6 L279.1,179.5 L280.1,178.3 L281.1,177.0 L282.2,175.5 L283.2,173.9 L284.2,172.2 L285.3,170.3 L286.3,168.4 L287.3,166.3 L288.4,164.1 L289.4,161.8 L290.4,159.5 L291.5,157.1 L292.5,154.8 L293.5,152.4 L294.6,150.1 L295.6,147.9 L296.6,145.8 L297.7,143.9 L298.7,142.1 L299.7,140.5 L300.7,139.2 L301.8,138.1 L302.8,137.3 L303.8,136.7 L304.9,136.5 L305.9,136.6 L306.9,136.8 L308.0,137.3 L309.0,137.9 L310.0,138.8 L311.1,139.8 L312.1,141.0 L313.1,142.4 L314.2,143.9 L315.2,145.5 L316.2,147.2 L317.3,149.0 L318.3,150.9 L319.3,152.8 L320.4,154.8 L321.4,156.8 L322.4,158.7 L323.5,160.7 L324.5,162.6 L325.5,164.5 L326.6,166.3" fill="none" stroke="#f29a3c" stroke-width="1.3" stroke-dasharray="3.4,1.5" stroke-dashoffset="4.5"/>
<path d="M270.8,184.9 L271.8,184.4 L272.9,183.8 L273.9,183.1 L274.9,182.3 L276.0,181.4 L277.0,180.3 L278.0,179.1 L279.1,177.8 L280.1,176.3 L281.1,174.6 L282.2,172.8 L283.2,170.9 L284.2,168.8 L285.3,166.6 L286.3,164.2 L287.3,161.8 L288.4,159.3 L289.4,156.8 L290.4,154.2 L291.5,151.7 L292.5,149.3 L293.5,147.0 L294.6,144.8 L295.6,142.8 L296.6,141.0 L297.7,139.5 L298.7,138.3 L299.7,137.4 L300.7,136.8 L301.8,136.5 L302.8,136.7 L303.8,137.4 L304.9,138.6 L305.9,140.3 L306.9,142.5 L308.0,145.0 L309.0,147.8 L310.0,150.8 L311.1,154.0 L312.1,157.2 L313.1,160.4 L314.2,163.6 L315.2,166.6 L316.2,169.4 L317.3,172.0 L318.3,174.3 L319.3,176.4 L320.4,178.3 L321.4,179.9 L322.4,181.3 L323.5,182.4 L324.5,183.4 L325.5,184.2 L326.6,184.9" fill="none" stroke="#f6c878" stroke-width="1.3" stroke-dasharray="3.4,1.5" stroke-dashoffset="5.4"/>
<path d="M328.80,187.10 L329.64,187.03 L330.48,186.95 L331.32,186.85 L332.16,186.73 L333.00,186.59 L333.84,186.42 L334.68,186.22 L335.52,185.98 L336.36,185.71 L337.21,185.39 L338.05,185.02 L338.89,184.60 L339.73,184.12 L340.57,183.58 L341.41,182.97 L342.25,182.28 L343.09,181.52 L343.93,180.67 L344.77,179.75 L345.61,178.73 L346.45,177.64 L347.29,176.45 L348.14,175.18 L348.98,173.82 L349.82,172.39 L350.66,170.87 L351.50,169.29 L352.34,167.64 L353.18,165.93 L354.02,164.18 L354.86,162.39 L355.70,160.57 L356.54,158.73 L357.38,156.90 L358.22,155.07 L359.07,153.26 L359.91,151.49 L360.75,149.76 L361.59,148.10 L362.43,146.51 L363.27,145.00 L364.11,143.59 L364.95,142.29 L365.79,141.11 L366.63,140.04 L367.47,139.11 L368.31,138.32 L369.16,137.66 L370.00,137.15 L370.84,136.79 L371.68,136.57 L372.52,136.50 L373.36,136.57 L374.20,136.77 L375.04,137.10 L375.88,137.55 L376.72,138.13 L377.56,138.81 L378.40,139.60 L379.24,140.49 L380.09,141.46 L380.93,142.52 L381.77,143.65 L382.61,144.85 L383.45,146.10 L384.29,147.39 L385.13,148.73 L385.97,150.10 L386.81,151.48 L387.65,152.89 L388.49,154.30 L389.33,155.71 L390.17,157.12 L391.02,158.51 L391.86,159.89 L392.70,161.25 L393.54,162.58 L394.38,163.89 L395.22,165.16 L396.06,166.39 L396.90,167.59 L397.74,168.74 L398.58,169.86 L399.42,170.93 L400.26,171.95 L401.11,172.93 L401.95,173.87 L402.79,174.76 L403.63,175.61 L404.47,176.41 L405.31,177.17 L406.15,177.89 L406.99,178.57 L407.83,179.20 L408.67,179.80 L409.51,180.36 L410.35,180.89 L411.19,181.38 L412.04,181.84 L412.88,182.26 L413.72,182.66 L414.56,183.03 L415.40,183.37 L416.24,183.69 L417.08,183.98 L417.92,184.25 L418.76,184.50 L419.60,184.73 L420.44,184.94 L421.28,185.14 L422.12,185.31 L422.97,185.48 L423.81,185.63 L424.65,185.77 L425.49,185.89 L426.33,186.01 L427.17,186.11 L428.01,186.20 L428.85,186.29 L429.69,186.37 L430.53,186.44 L431.37,186.51 L432.21,186.57 L433.06,186.62 L433.90,186.67 L434.74,186.71 L435.58,186.75 L436.42,186.79 L437.26,186.82 L438.10,186.85" fill="none" stroke="#f29a3c" stroke-width="1.4" stroke-linejoin="round"/>
<path d="M328.80,187.10 L329.64,187.06 L330.48,187.02 L331.32,186.96 L332.16,186.89 L333.00,186.81 L333.84,186.70 L334.68,186.58 L335.52,186.43 L336.36,186.26 L337.21,186.05 L338.05,185.80 L338.89,185.52 L339.73,185.19 L340.57,184.80 L341.41,184.37 L342.25,183.87 L343.09,183.30 L343.93,182.67 L344.77,181.96 L345.61,181.17 L346.45,180.30 L347.29,179.35 L348.14,178.31 L348.98,177.18 L349.82,175.97 L350.66,174.67 L351.50,173.29 L352.34,171.83 L353.18,170.30 L354.02,168.69 L354.86,167.03 L355.70,165.31 L356.54,163.54 L357.38,161.74 L358.22,159.92 L359.07,158.08 L359.91,156.25 L360.75,154.43 L361.59,152.63 L362.43,150.88 L363.27,149.17 L364.11,147.54 L364.95,145.97 L365.79,144.50 L366.63,143.13 L367.47,141.87 L368.31,140.72 L369.16,139.71 L370.00,138.82 L370.84,138.07 L371.68,137.47 L372.52,137.01 L373.36,136.70 L374.20,136.53 L375.04,136.51 L375.88,136.62 L376.72,136.87 L377.56,137.24 L378.40,137.74 L379.24,138.35 L380.09,139.07 L380.93,139.90 L381.77,140.81 L382.61,141.82 L383.45,142.90 L384.29,144.06 L385.13,145.27 L385.97,146.54 L386.81,147.85 L387.65,149.20 L388.49,150.57 L389.33,151.97 L390.17,153.37 L391.02,154.79 L391.86,156.20 L392.70,157.60 L393.54,158.99 L394.38,160.37 L395.22,161.72 L396.06,163.04 L396.90,164.33 L397.74,165.59 L398.58,166.81 L399.42,168.00 L400.26,169.14 L401.11,170.24 L401.95,171.29 L402.79,172.30 L403.63,173.27 L404.47,174.19 L405.31,175.07 L406.15,175.90 L406.99,176.69 L407.83,177.44 L408.67,178.14 L409.51,178.80 L410.35,179.43 L411.19,180.01 L412.04,180.56 L412.88,181.07 L413.72,181.55 L414.56,182.00 L415.40,182.42 L416.24,182.80 L417.08,183.16 L417.92,183.49 L418.76,183.80 L419.60,184.09 L420.44,184.35 L421.28,184.59 L422.12,184.81 L422.97,185.02 L423.81,185.21 L424.65,185.38 L425.49,185.54 L426.33,185.68 L427.17,185.82 L428.01,185.94 L428.85,186.05 L429.69,186.15 L430.53,186.24 L431.37,186.32 L432.21,186.40 L433.06,186.47 L433.90,186.53 L434.74,186.59 L435.58,186.64 L436.42,186.69 L437.26,186.73 L438.10,186.77" fill="none" stroke="#f6c878" stroke-width="1.4" stroke-linejoin="round"/>
<path d="M328.80,187.10 L329.64,187.10 L330.48,187.10 L331.32,187.09 L332.16,187.09 L333.00,187.09 L333.84,187.08 L334.68,187.08 L335.52,187.07 L336.36,187.06 L337.21,187.04 L338.05,187.03 L338.89,187.01 L339.73,186.98 L340.57,186.95 L341.41,186.91 L342.25,186.86 L343.09,186.80 L343.93,186.72 L344.77,186.64 L345.61,186.53 L346.45,186.41 L347.29,186.27 L348.14,186.10 L348.98,185.90 L349.82,185.68 L350.66,185.42 L351.50,185.12 L352.34,184.78 L353.18,184.39 L354.02,183.96 L354.86,183.48 L355.70,182.94 L356.54,182.34 L357.38,181.68 L358.22,180.96 L359.07,180.17 L359.91,179.32 L360.75,178.40 L361.59,177.41 L362.43,176.34 L363.27,175.22 L364.11,174.02 L364.95,172.76 L365.79,171.44 L366.63,170.06 L367.47,168.62 L368.31,167.14 L369.16,165.61 L370.00,164.05 L370.84,162.46 L371.68,160.84 L372.52,159.22 L373.36,157.58 L374.20,155.95 L375.04,154.34 L375.88,152.74 L376.72,151.18 L377.56,149.66 L378.40,148.18 L379.24,146.76 L380.09,145.41 L380.93,144.14 L381.77,142.94 L382.61,141.83 L383.45,140.81 L384.29,139.90 L385.13,139.08 L385.97,138.38 L386.81,137.78 L387.65,137.30 L388.49,136.93 L389.33,136.67 L390.17,136.53 L391.02,136.50 L391.86,136.57 L392.70,136.73 L393.54,136.98 L394.38,137.32 L395.22,137.74 L396.06,138.23 L396.90,138.81 L397.74,139.45 L398.58,140.16 L399.42,140.94 L400.26,141.77 L401.11,142.65 L401.95,143.58 L402.79,144.56 L403.63,145.57 L404.47,146.62 L405.31,147.69 L406.15,148.79 L406.99,149.91 L407.83,151.04 L408.67,152.19 L409.51,153.34 L410.35,154.49 L411.19,155.64 L412.04,156.79 L412.88,157.93 L413.72,159.07 L414.56,160.18 L415.40,161.29 L416.24,162.37 L417.08,163.44 L417.92,164.48 L418.76,165.50 L419.60,166.50 L420.44,167.47 L421.28,168.41 L422.12,169.32 L422.97,170.21 L423.81,171.07 L424.65,171.90 L425.49,172.69 L426.33,173.46 L427.17,174.20 L428.01,174.91 L428.85,175.59 L429.69,176.24 L430.53,176.86 L431.37,177.46 L432.21,178.02 L433.06,178.56 L433.90,179.08 L434.74,179.57 L435.58,180.03 L436.42,180.47 L437.26,180.89 L438.10,181.28" fill="none" stroke="#78d64b" stroke-width="1.4" stroke-linejoin="round"/>
<path d="M328.80,187.10 L329.64,187.10 L330.48,187.10 L331.32,187.09 L332.16,187.09 L333.00,187.08 L333.84,187.08 L334.68,187.07 L335.52,187.06 L336.36,187.05 L337.21,187.03 L338.05,187.02 L338.89,186.99 L339.73,186.97 L340.57,186.94 L341.41,186.90 L342.25,186.85 L343.09,186.79 L343.93,186.73 L344.77,186.65 L345.61,186.56 L346.45,186.45 L347.29,186.33 L348.14,186.19 L348.98,186.02 L349.82,185.83 L350.66,185.62 L351.50,185.38 L352.34,185.11 L353.18,184.80 L354.02,184.46 L354.86,184.08 L355.70,183.66 L356.54,183.19 L357.38,182.68 L358.22,182.13 L359.07,181.52 L359.91,180.86 L360.75,180.15 L361.59,179.39 L362.43,178.57 L363.27,177.70 L364.11,176.77 L364.95,175.79 L365.79,174.75 L366.63,173.66 L367.47,172.52 L368.31,171.34 L369.16,170.11 L370.00,168.83 L370.84,167.52 L371.68,166.17 L372.52,164.80 L373.36,163.40 L374.20,161.98 L375.04,160.54 L375.88,159.10 L376.72,157.65 L377.56,156.21 L378.40,154.77 L379.24,153.36 L380.09,151.96 L380.93,150.59 L381.77,149.26 L382.61,147.97 L383.45,146.73 L384.29,145.53 L385.13,144.40 L385.97,143.33 L386.81,142.32 L387.65,141.38 L388.49,140.52 L389.33,139.74 L390.17,139.04 L391.02,138.42 L391.86,137.89 L392.70,137.44 L393.54,137.08 L394.38,136.80 L395.22,136.62 L396.06,136.52 L396.90,136.51 L397.74,136.58 L398.58,136.74 L399.42,136.98 L400.26,137.30 L401.11,137.70 L401.95,138.18 L402.79,138.72 L403.63,139.33 L404.47,140.01 L405.31,140.74 L406.15,141.53 L406.99,142.37 L407.83,143.25 L408.67,144.18 L409.51,145.14 L410.35,146.14 L411.19,147.16 L412.04,148.21 L412.88,149.28 L413.72,150.37 L414.56,151.47 L415.40,152.57 L416.24,153.69 L417.08,154.80 L417.92,155.91 L418.76,157.02 L419.60,158.12 L420.44,159.21 L421.28,160.29 L422.12,161.35 L422.97,162.40 L423.81,163.42 L424.65,164.43 L425.49,165.41 L426.33,166.38 L427.17,167.32 L428.01,168.23 L428.85,169.12 L429.69,169.98 L430.53,170.81 L431.37,171.62 L432.21,172.40 L433.06,173.15 L433.90,173.87 L434.74,174.57 L435.58,175.24 L436.42,175.88 L437.26,176.49 L438.10,177.08" fill="none" stroke="#7fcff2" stroke-width="1.4" stroke-linejoin="round"/>
<path d="M328.80,187.10 L329.64,187.10 L330.48,187.10 L331.32,187.10 L332.16,187.10 L333.00,187.10 L333.84,187.09 L334.68,187.09 L335.52,187.09 L336.36,187.09 L337.21,187.08 L338.05,187.08 L338.89,187.07 L339.73,187.06 L340.57,187.05 L341.41,187.04 L342.25,187.02 L343.09,187.00 L343.93,186.98 L344.77,186.95 L345.61,186.92 L346.45,186.88 L347.29,186.83 L348.14,186.77 L348.98,186.70 L349.82,186.62 L350.66,186.53 L351.50,186.42 L352.34,186.29 L353.18,186.14 L354.02,185.98 L354.86,185.79 L355.70,185.58 L356.54,185.33 L357.38,185.06 L358.22,184.76 L359.07,184.42 L359.91,184.04 L360.75,183.62 L361.59,183.17 L362.43,182.67 L363.27,182.12 L364.11,181.52 L364.95,180.88 L365.79,180.18 L366.63,179.44 L367.47,178.64 L368.31,177.79 L369.16,176.88 L370.00,175.93 L370.84,174.92 L371.68,173.86 L372.52,172.76 L373.36,171.60 L374.20,170.41 L375.04,169.17 L375.88,167.89 L376.72,166.58 L377.56,165.24 L378.40,163.87 L379.24,162.49 L380.09,161.08 L380.93,159.67 L381.77,158.25 L382.61,156.83 L383.45,155.42 L384.29,154.03 L385.13,152.65 L385.97,151.29 L386.81,149.97 L387.65,148.68 L388.49,147.43 L389.33,146.23 L390.17,145.09 L391.02,144.00 L391.86,142.97 L392.70,142.00 L393.54,141.11 L394.38,140.29 L395.22,139.54 L396.06,138.88 L396.90,138.29 L397.74,137.78 L398.58,137.36 L399.42,137.02 L400.26,136.77 L401.11,136.60 L401.95,136.51 L402.79,136.51 L403.63,136.59 L404.47,136.76 L405.31,137.01 L406.15,137.34 L406.99,137.74 L407.83,138.22 L408.67,138.77 L409.51,139.39 L410.35,140.07 L411.19,140.81 L412.04,141.60 L412.88,142.45 L413.72,143.33 L414.56,144.26 L415.40,145.23 L416.24,146.23 L417.08,147.26 L417.92,148.31 L418.76,149.38 L419.60,150.47 L420.44,151.57 L421.28,152.68 L422.12,153.79 L422.97,154.90 L423.81,156.02 L424.65,157.13 L425.49,158.23 L426.33,159.32 L427.17,160.39 L428.01,161.46 L428.85,162.50 L429.69,163.53 L430.53,164.54 L431.37,165.52 L432.21,166.48 L433.06,167.42 L433.90,168.33 L434.74,169.22 L435.58,170.08 L436.42,170.91 L437.26,171.72 L438.10,172.49" fill="none" stroke="#2d84dc" stroke-width="1.4" stroke-linejoin="round"/>
<path d="M328.80,187.10 L329.64,187.10 L330.48,187.10 L331.32,187.10 L332.16,187.10 L333.00,187.10 L333.84,187.10 L334.68,187.10 L335.52,187.10 L336.36,187.10 L337.21,187.10 L338.05,187.09 L338.89,187.09 L339.73,187.09 L340.57,187.09 L341.41,187.08 L342.25,187.08 L343.09,187.07 L343.93,187.06 L344.77,187.05 L345.61,187.04 L346.45,187.03 L347.29,187.01 L348.14,187.00 L348.98,186.97 L349.82,186.95 L350.66,186.91 L351.50,186.88 L352.34,186.83 L353.18,186.78 L354.02,186.72 L354.86,186.65 L355.70,186.57 L356.54,186.48 L357.38,186.38 L358.22,186.26 L359.07,186.13 L359.91,185.98 L360.75,185.81 L361.59,185.62 L362.43,185.41 L363.27,185.17 L364.11,184.91 L364.95,184.62 L365.79,184.30 L366.63,183.96 L367.47,183.58 L368.31,183.17 L369.16,182.72 L370.00,182.23 L370.84,181.71 L371.68,181.15 L372.52,180.55 L373.36,179.91 L374.20,179.23 L375.04,178.50 L375.88,177.74 L376.72,176.93 L377.56,176.08 L378.40,175.19 L379.24,174.27 L380.09,173.30 L380.93,172.29 L381.77,171.25 L382.61,170.18 L383.45,169.07 L384.29,167.94 L385.13,166.78 L385.97,165.59 L386.81,164.39 L387.65,163.16 L388.49,161.93 L389.33,160.68 L390.17,159.43 L391.02,158.17 L391.86,156.92 L392.70,155.67 L393.54,154.43 L394.38,153.21 L395.22,152.00 L396.06,150.82 L396.90,149.66 L397.74,148.53 L398.58,147.43 L399.42,146.37 L400.26,145.35 L401.11,144.38 L401.95,143.45 L402.79,142.57 L403.63,141.75 L404.47,140.98 L405.31,140.26 L406.15,139.61 L406.99,139.01 L407.83,138.48 L408.67,138.01 L409.51,137.60 L410.35,137.25 L411.19,136.98 L412.04,136.76 L412.88,136.61 L413.72,136.52 L414.56,136.50 L415.40,136.54 L416.24,136.66 L417.08,136.84 L417.92,137.08 L418.76,137.39 L419.60,137.76 L420.44,138.19 L421.28,138.68 L422.12,139.22 L422.97,139.81 L423.81,140.45 L424.65,141.13 L425.49,141.85 L426.33,142.62 L427.17,143.42 L428.01,144.25 L428.85,145.11 L429.69,146.00 L430.53,146.91 L431.37,147.84 L432.21,148.78 L433.06,149.74 L433.90,150.72 L434.74,151.70 L435.58,152.68 L436.42,153.67 L437.26,154.66 L438.10,155.65" fill="none" stroke="#7b78e6" stroke-width="1.4" stroke-linejoin="round"/>
<path d="M317.64,187.27 L318.19,186.51 L318.74,185.78 L319.29,185.04 L319.84,184.24 L320.39,183.34 L320.94,182.43 L321.49,181.64 L322.04,181.06 L322.59,180.67 L323.14,180.34 L323.69,180.00 L324.24,179.64 L324.79,179.29 L325.34,179.00 L325.89,178.76 L326.44,178.57 L326.99,178.39 L327.54,178.17 L328.09,177.94 L328.64,177.72 L329.19,177.56 L329.74,177.48 L330.29,177.44 L330.84,177.40 L331.39,177.29 L331.94,177.09 L332.49,176.81 L333.04,176.49 L333.59,176.19 L334.14,175.99 L334.69,175.96 L335.24,176.09 L335.79,176.36 L336.34,176.66 L336.89,176.88 L337.44,176.97 L338.00,176.92 L338.55,176.83 L339.10,176.75 L339.65,176.75 L340.20,176.81 L340.75,176.91 L341.30,176.96 L341.85,176.90 L342.40,176.69 L342.95,176.41 L343.50,176.17 L344.05,176.02 L344.60,175.94 L345.15,175.84 L345.70,175.66 L346.25,175.39 L346.80,175.05 L347.35,174.74 L347.90,174.53 L348.45,174.40 L349.00,174.30 L349.55,174.14 L350.10,173.96 L350.65,173.78 L351.20,173.63 L351.75,173.48 L352.30,173.33 L352.85,173.20 L353.40,173.09 L353.95,173.03 L354.50,173.03 L355.05,173.11 L355.60,173.25 L356.15,173.38 L356.70,173.38 L357.25,173.20 L357.80,172.85 L358.35,172.46 L358.90,172.12 L359.45,171.87 L360.00,171.69 L360.55,171.53 L361.10,171.38 L361.65,171.21 L362.20,171.05 L362.75,170.90 L363.30,170.80 L363.85,170.76 L364.40,170.78 L364.95,170.85 L365.50,170.90 L366.05,170.91 L366.60,170.85 L367.15,170.72 L367.70,170.53 L368.25,170.29 L368.80,169.98 L369.35,169.62 L369.90,169.29 L370.45,169.02 L371.00,168.83 L371.55,168.73 L372.10,168.70 L372.65,168.69 L373.20,168.67 L373.75,168.61 L374.30,168.53 L374.85,168.42 L375.40,168.24 L375.95,167.94 L376.50,167.54 L377.05,167.10 L377.60,166.73 L378.15,166.49 L378.70,166.34 L379.25,166.17 L379.80,165.89 L380.35,165.50 L380.90,165.01 L381.45,164.48 L382.00,163.91 L382.55,163.30 L383.10,162.67 L383.65,162.08 L384.20,161.60 L384.75,161.23 L385.30,160.93 L385.85,160.63 L386.40,160.30 L386.95,159.90 L387.50,159.45 L388.05,158.94 L388.60,158.37 L389.15,157.75 L389.70,157.12 L390.25,156.48 L390.80,155.83 L391.35,155.16 L391.90,154.49 L392.45,153.83 L393.00,153.19 L393.55,152.60 L394.10,152.09 L394.65,151.66 L395.20,151.24 L395.75,150.71 L396.30,150.06 L396.85,149.37 L397.40,148.74 L397.95,148.23 L398.50,147.78 L399.05,147.31 L399.60,146.81 L400.15,146.33 L400.70,145.88 L401.25,145.47 L401.80,145.06 L402.35,144.65 L402.90,144.26 L403.45,143.90 L404.00,143.55 L404.55,143.20 L405.10,142.88 L405.65,142.64 L406.20,142.44 L406.75,142.22 L407.30,141.97 L407.85,141.68 L408.40,141.36 L408.95,140.99 L409.50,140.60 L410.05,140.23 L410.60,139.91 L411.15,139.65 L411.70,139.43 L412.25,139.23 L412.80,139.05 L413.35,138.92 L413.90,138.84 L414.45,138.84 L415.00,138.88 L415.55,138.94 L416.10,138.96 L416.65,138.89 L417.20,138.74 L417.75,138.54 L418.30,138.35 L418.85,138.18 L419.40,138.07 L419.95,138.01 L420.50,137.98 L421.05,137.93 L421.60,137.85 L422.15,137.74 L422.70,137.66 L423.25,137.66 L423.80,137.81 L424.35,138.08 L424.90,138.46 L425.45,138.85 L426.00,139.19 L426.55,139.38 L427.10,139.40 L427.65,139.32 L428.20,139.27 L428.75,139.34 L429.30,139.52 L429.85,139.72 L430.40,139.88 L430.95,140.03 L431.50,140.15 L432.05,140.26 L432.60,140.36 L433.15,140.46 L433.70,140.58 L434.25,140.76 L434.80,141.00 L435.35,141.29 L435.90,141.63 L436.45,142.02 L437.00,142.46 L437.55,142.91 L438.10,143.32" fill="none" stroke="#1a1a1a" stroke-width="1.4" stroke-linejoin="round"/>
<line x1="270.80" y1="131.19" x2="270.80" y2="187.70" stroke="#231f20" stroke-width="1.3"/>
<line x1="438.10" y1="131.19" x2="438.10" y2="187.70" stroke="#231f20" stroke-width="1.3"/>
<line x1="270.20" y1="187.10" x2="438.70" y2="187.10" stroke="#231f20" stroke-width="1.3"/>
<line x1="267.80" y1="187.10" x2="270.80" y2="187.10" stroke="#231f20" stroke-width="1"/>
<line x1="438.10" y1="187.10" x2="441.10" y2="187.10" stroke="#231f20" stroke-width="1"/>
<text x="266.30" y="190.50" font-size="9.6" text-anchor="end" fill="#231f20" stroke="#231f20" stroke-width="0.22">0</text>
<text x="442.70" y="190.50" font-size="9.6" fill="#231f20" stroke="#231f20" stroke-width="0.22">0</text>
<line x1="267.80" y1="161.80" x2="270.80" y2="161.80" stroke="#231f20" stroke-width="1"/>
<line x1="438.10" y1="161.80" x2="441.10" y2="161.80" stroke="#231f20" stroke-width="1"/>
<text x="266.30" y="165.20" font-size="9.6" text-anchor="end" fill="#231f20" stroke="#231f20" stroke-width="0.22">50</text>
<text x="442.70" y="165.20" font-size="9.6" fill="#231f20" stroke="#231f20" stroke-width="0.22">50</text>
<line x1="267.80" y1="136.50" x2="270.80" y2="136.50" stroke="#231f20" stroke-width="1"/>
<line x1="438.10" y1="136.50" x2="441.10" y2="136.50" stroke="#231f20" stroke-width="1"/>
<text x="266.30" y="139.90" font-size="9.6" text-anchor="end" fill="#231f20" stroke="#231f20" stroke-width="0.22">100</text>
<text x="442.70" y="139.90" font-size="9.6" fill="#231f20" stroke="#231f20" stroke-width="0.22">100</text>
<line x1="281.95" y1="187.10" x2="281.95" y2="190.10" stroke="#231f20" stroke-width="1"/>
<text x="281.95" y="199.90" font-size="9.4" text-anchor="middle" fill="#231f20" stroke="#231f20" stroke-width="0.22">400</text>
<line x1="326.57" y1="187.10" x2="326.57" y2="190.10" stroke="#231f20" stroke-width="1"/>
<text x="326.57" y="199.90" font-size="9.4" text-anchor="middle" fill="#231f20" stroke="#231f20" stroke-width="0.22">500</text>
<line x1="371.18" y1="187.10" x2="371.18" y2="190.10" stroke="#231f20" stroke-width="1"/>
<text x="371.18" y="199.90" font-size="9.4" text-anchor="middle" fill="#231f20" stroke="#231f20" stroke-width="0.22">600</text>
<line x1="415.79" y1="187.10" x2="415.79" y2="190.10" stroke="#231f20" stroke-width="1"/>
<text x="415.79" y="199.90" font-size="9.4" text-anchor="middle" fill="#231f20" stroke="#231f20" stroke-width="0.22">700</text>
<text x="354.05" y="126.50" font-size="10.3" text-anchor="middle" fill="#231f20" stroke="#231f20" stroke-width="0.22">Probe <tspan font-weight="bold" font-size="10.8">5</tspan></text>
<text x="354.45" y="216.70" font-size="10.75" text-anchor="middle" fill="#231f20" stroke="#231f20" stroke-width="0.22">Wavelength (nm)</text>
<text x="521.00" y="123.90" font-size="9" fill="#231f20" stroke="#231f20" stroke-width="0.22">Solvent</text>
<text x="600.00" y="124.20" font-size="11" text-anchor="middle" fill="#231f20" stroke="#231f20" stroke-width="0.22"><tspan font-style="italic">ε</tspan></text>
<text x="646.50" y="124.20" font-size="10.6" text-anchor="middle" fill="#231f20" stroke="#231f20" stroke-width="0.22"><tspan font-style="italic">n</tspan></text>
<line x1="498.50" y1="131.30" x2="668.00" y2="131.30" stroke="#231f20" stroke-width="1.1"/>
<line x1="501.70" y1="140.90" x2="514.30" y2="140.90" stroke="#f29a3c" stroke-width="1.3"/>
<text x="521.30" y="143.90" font-size="9.4" fill="#231f20" stroke="#231f20" stroke-width="0.22">Toluene</text>
<text x="589.80" y="143.90" font-size="9.4" fill="#231f20" stroke="#231f20" stroke-width="0.22">2.379</text>
<text x="633.00" y="143.90" font-size="9.4" fill="#231f20" stroke="#231f20" stroke-width="0.22">1.4941</text>
<line x1="501.70" y1="154.30" x2="514.30" y2="154.30" stroke="#f6c878" stroke-width="1.3"/>
<text x="521.30" y="157.30" font-size="9.4" fill="#231f20" stroke="#231f20" stroke-width="0.22">Diethyl ether</text>
<text x="589.80" y="157.30" font-size="9.4" fill="#231f20" stroke="#231f20" stroke-width="0.22">4.266</text>
<text x="633.00" y="157.30" font-size="9.4" fill="#231f20" stroke="#231f20" stroke-width="0.22">1.3526</text>
<line x1="501.70" y1="167.70" x2="514.30" y2="167.70" stroke="#78d64b" stroke-width="1.3"/>
<text x="521.30" y="170.70" font-size="9.4" fill="#231f20" stroke="#231f20" stroke-width="0.22">Anisole</text>
<text x="589.80" y="170.70" font-size="9.4" fill="#231f20" stroke="#231f20" stroke-width="0.22">4.3</text>
<text x="633.00" y="170.70" font-size="9.4" fill="#231f20" stroke="#231f20" stroke-width="0.22">1.5174</text>
<line x1="501.70" y1="181.10" x2="514.30" y2="181.10" stroke="#7fcff2" stroke-width="1.3"/>
<text x="521.30" y="184.10" font-size="9.4" fill="#231f20" stroke="#231f20" stroke-width="0.22">THF</text>
<text x="589.80" y="184.10" font-size="9.4" fill="#231f20" stroke="#231f20" stroke-width="0.22">7.42</text>
<text x="633.00" y="184.10" font-size="9.4" fill="#231f20" stroke="#231f20" stroke-width="0.22">1.405</text>
<line x1="501.70" y1="194.50" x2="514.30" y2="194.50" stroke="#2d84dc" stroke-width="1.3"/>
<text x="521.30" y="197.50" font-size="9.4" fill="#231f20" stroke="#231f20" stroke-width="0.22">DCM</text>
<text x="589.80" y="197.50" font-size="9.4" fill="#231f20" stroke="#231f20" stroke-width="0.22">8.93</text>
<text x="633.00" y="197.50" font-size="9.4" fill="#231f20" stroke="#231f20" stroke-width="0.22">1.4242</text>
<line x1="501.70" y1="207.90" x2="514.30" y2="207.90" stroke="#7b78e6" stroke-width="1.3"/>
<text x="521.30" y="210.90" font-size="9.4" fill="#231f20" stroke="#231f20" stroke-width="0.22">Acetone</text>
<text x="589.80" y="210.90" font-size="9.4" fill="#231f20" stroke="#231f20" stroke-width="0.22">21.01</text>
<text x="633.00" y="210.90" font-size="9.4" fill="#231f20" stroke="#231f20" stroke-width="0.22">1.3588</text>
<line x1="501.70" y1="221.30" x2="514.30" y2="221.30" stroke="#1a1a1a" stroke-width="1.3"/>
<text x="521.30" y="224.30" font-size="9.4" fill="#231f20" stroke="#231f20" stroke-width="0.22">Acetonitrile</text>
<text x="589.80" y="224.30" font-size="9.4" fill="#231f20" stroke="#231f20" stroke-width="0.22">36.64</text>
<text x="633.00" y="224.30" font-size="9.4" fill="#231f20" stroke="#231f20" stroke-width="0.22">1.3442</text>
<text x="475.40" y="183.80" font-size="9.1" fill="#231f20" stroke="#231f20" stroke-width="0.22" transform="rotate(-90 475.4 183.8)">Absorbance</text>
<text x="490.60" y="183.80" font-size="9.1" fill="#231f20" stroke="#231f20" stroke-width="0.22" transform="rotate(-90 490.6 183.8)">Emission</text>
<line x1="471.60" y1="190.00" x2="471.60" y2="203.00" stroke="#231f20" stroke-width="1.2" stroke-dasharray="2.6,1.6"/>
<line x1="487.20" y1="190.50" x2="487.20" y2="202.50" stroke="#231f20" stroke-width="1.1"/>
<text x="1.60" y="234.60" font-size="12.5" font-weight="bold" fill="#231f20" stroke="#231f20" stroke-width="0.22">b</text>
<text x="128.90" y="237.30" font-size="10.7" text-anchor="middle" fill="#231f20" stroke="#231f20" stroke-width="0.22">Observed fluorophore Stokes Shift v.</text>
<text x="127.60" y="250.00" font-size="10.7" text-anchor="middle" fill="#231f20" stroke="#231f20" stroke-width="0.22">solvent orientation polarizability</text>
<line x1="59.30" y1="263.70" x2="59.30" y2="361.80" stroke="#231f20" stroke-width="1.3"/>
<line x1="58.70" y1="361.20" x2="198.30" y2="361.20" stroke="#231f20" stroke-width="1.3"/>
<line x1="56.10" y1="361.20" x2="59.30" y2="361.20" stroke="#231f20" stroke-width="1"/>
<text x="53.30" y="364.70" font-size="9.6" text-anchor="end" fill="#231f20" stroke="#231f20" stroke-width="0.22">1.5×10<tspan dy="-2.9" font-size="6.4">3</tspan></text>
<line x1="56.10" y1="336.82" x2="59.30" y2="336.82" stroke="#231f20" stroke-width="1"/>
<text x="53.30" y="340.32" font-size="9.6" text-anchor="end" fill="#231f20" stroke="#231f20" stroke-width="0.22">3.3×10<tspan dy="-2.9" font-size="6.4">3</tspan></text>
<line x1="56.10" y1="312.45" x2="59.30" y2="312.45" stroke="#231f20" stroke-width="1"/>
<text x="53.30" y="315.95" font-size="9.6" text-anchor="end" fill="#231f20" stroke="#231f20" stroke-width="0.22">5.0×10<tspan dy="-2.9" font-size="6.4">3</tspan></text>
<line x1="56.10" y1="288.07" x2="59.30" y2="288.07" stroke="#231f20" stroke-width="1"/>
<text x="53.30" y="291.57" font-size="9.6" text-anchor="end" fill="#231f20" stroke="#231f20" stroke-width="0.22">6.8×10<tspan dy="-2.9" font-size="6.4">3</tspan></text>
<line x1="56.10" y1="263.70" x2="59.30" y2="263.70" stroke="#231f20" stroke-width="1"/>
<text x="53.30" y="267.20" font-size="9.6" text-anchor="end" fill="#231f20" stroke="#231f20" stroke-width="0.22">8.5×10<tspan dy="-2.9" font-size="6.4">3</tspan></text>
<line x1="59.30" y1="361.20" x2="59.30" y2="364.40" stroke="#231f20" stroke-width="1"/>
<text x="59.30" y="373.40" font-size="9.6" text-anchor="middle" fill="#231f20" stroke="#231f20" stroke-width="0.22">0.0</text>
<line x1="99.50" y1="361.20" x2="99.50" y2="364.40" stroke="#231f20" stroke-width="1"/>
<text x="99.50" y="373.40" font-size="9.6" text-anchor="middle" fill="#231f20" stroke="#231f20" stroke-width="0.22">0.1</text>
<line x1="139.70" y1="361.20" x2="139.70" y2="364.40" stroke="#231f20" stroke-width="1"/>
<text x="139.70" y="373.40" font-size="9.6" text-anchor="middle" fill="#231f20" stroke="#231f20" stroke-width="0.22">0.2</text>
<line x1="179.90" y1="361.20" x2="179.90" y2="364.40" stroke="#231f20" stroke-width="1"/>
<text x="179.90" y="373.40" font-size="9.6" text-anchor="middle" fill="#231f20" stroke="#231f20" stroke-width="0.22">0.3</text>
<text x="128.90" y="389.70" font-size="10.6" text-anchor="middle" fill="#231f20" stroke="#231f20" stroke-width="0.22">Solvent Δf(ε,<tspan font-style="italic">n</tspan>)</text>
<text x="11.60" y="311.40" font-size="10.65" text-anchor="middle" fill="#231f20" stroke="#231f20" stroke-width="0.22" transform="rotate(-90 11.6 311.4)">Observed Stokes shift (cm<tspan dy="-3.5" font-size="6.8">-1</tspan><tspan dy="3.5">)</tspan></text>
<line x1="64.53" y1="352.60" x2="181.11" y2="339.00" stroke="#231f20" stroke-width="1.2"/>
<line x1="64.53" y1="327.50" x2="181.11" y2="302.00" stroke="#2e6a1c" stroke-width="1.2"/>
<line x1="64.53" y1="316.90" x2="181.11" y2="270.50" stroke="#a0582a" stroke-width="1.2"/>
<line x1="64.53" y1="317.70" x2="181.11" y2="281.00" stroke="#b8282a" stroke-width="1.2"/>
<line x1="64.53" y1="307.40" x2="181.11" y2="271.70" stroke="#1f5fa5" stroke-width="1.2"/>
<line x1="173.47" y1="333.50" x2="173.47" y2="339.50" stroke="#231f20" stroke-width="0.8"/>
<line x1="171.47" y1="333.50" x2="175.47" y2="333.50" stroke="#231f20" stroke-width="0.8"/>
<line x1="171.47" y1="339.50" x2="175.47" y2="339.50" stroke="#231f20" stroke-width="0.8"/>
<path d="M64.53,348.00 L67.13,350.60 L64.53,353.20 L61.93,350.60 Z" fill="#ffffff" stroke="#231f20" stroke-width="0.8"/>
<path d="M103.52,347.20 L106.12,349.80 L103.52,352.40 L100.92,349.80 Z" fill="#ffffff" stroke="#231f20" stroke-width="0.8"/>
<path d="M124.83,340.40 L127.43,343.00 L124.83,345.60 L122.23,343.00 Z" fill="#ffffff" stroke="#231f20" stroke-width="0.8"/>
<path d="M141.71,341.20 L144.31,343.80 L141.71,346.40 L139.11,343.80 Z" fill="#ffffff" stroke="#231f20" stroke-width="0.8"/>
<path d="M146.13,340.60 L148.73,343.20 L146.13,345.80 L143.53,343.20 Z" fill="#ffffff" stroke="#231f20" stroke-width="0.8"/>
<path d="M173.47,333.90 L176.07,336.50 L173.47,339.10 L170.87,336.50 Z" fill="#ffffff" stroke="#231f20" stroke-width="0.8"/>
<path d="M181.11,333.90 L183.71,336.50 L181.11,339.10 L178.51,336.50 Z" fill="#ffffff" stroke="#231f20" stroke-width="0.8"/>
<circle cx="64.53" cy="323.30" r="2.47" fill="#52942c" stroke="#3f7d22" stroke-width="0.5"/>
<circle cx="103.52" cy="319.10" r="2.47" fill="#52942c" stroke="#3f7d22" stroke-width="0.5"/>
<circle cx="124.83" cy="317.70" r="2.47" fill="#52942c" stroke="#3f7d22" stroke-width="0.5"/>
<circle cx="141.71" cy="311.90" r="2.47" fill="#52942c" stroke="#3f7d22" stroke-width="0.5"/>
<circle cx="146.13" cy="312.80" r="2.47" fill="#52942c" stroke="#3f7d22" stroke-width="0.5"/>
<circle cx="173.47" cy="301.50" r="2.47" fill="#52942c" stroke="#3f7d22" stroke-width="0.5"/>
<circle cx="181.11" cy="296.40" r="2.47" fill="#52942c" stroke="#3f7d22" stroke-width="0.5"/>
<path d="M64.53,313.57 L67.13,318.25 L61.93,318.25 Z" fill="#d8312c" stroke="#c0282a" stroke-width="0.5"/>
<path d="M103.52,299.07 L106.12,303.75 L100.92,303.75 Z" fill="#d8312c" stroke="#c0282a" stroke-width="0.5"/>
<path d="M124.83,301.87 L127.43,306.55 L122.23,306.55 Z" fill="#d8312c" stroke="#c0282a" stroke-width="0.5"/>
<path d="M141.71,291.17 L144.31,295.85 L139.11,295.85 Z" fill="#d8312c" stroke="#c0282a" stroke-width="0.5"/>
<path d="M146.13,290.27 L148.73,294.95 L143.53,294.95 Z" fill="#d8312c" stroke="#c0282a" stroke-width="0.5"/>
<path d="M173.47,281.17 L176.07,285.85 L170.87,285.85 Z" fill="#d8312c" stroke="#c0282a" stroke-width="0.5"/>
<path d="M181.11,273.57 L183.71,278.25 L178.51,278.25 Z" fill="#d8312c" stroke="#c0282a" stroke-width="0.5"/>
<path d="M64.53,307.33 L67.13,302.65 L61.93,302.65 Z" fill="#2d86d6" stroke="#2470b8" stroke-width="0.5"/>
<path d="M103.52,297.63 L106.12,292.95 L100.92,292.95 Z" fill="#2d86d6" stroke="#2470b8" stroke-width="0.5"/>
<path d="M124.83,297.63 L127.43,292.95 L122.23,292.95 Z" fill="#2d86d6" stroke="#2470b8" stroke-width="0.5"/>
<path d="M141.71,288.13 L144.31,283.45 L139.11,283.45 Z" fill="#2d86d6" stroke="#2470b8" stroke-width="0.5"/>
<path d="M146.13,287.23 L148.73,282.55 L143.53,282.55 Z" fill="#2d86d6" stroke="#2470b8" stroke-width="0.5"/>
<path d="M173.47,276.03 L176.07,271.35 L170.87,271.35 Z" fill="#2d86d6" stroke="#2470b8" stroke-width="0.5"/>
<path d="M181.11,271.43 L183.71,266.75 L178.51,266.75 Z" fill="#2d86d6" stroke="#2470b8" stroke-width="0.5"/>
<rect x="62.06" y="310.53" width="4.94" height="4.94" fill="#f5a31f" stroke="#d9811a" stroke-width="0.5"/>
<rect x="101.05" y="296.53" width="4.94" height="4.94" fill="#f5a31f" stroke="#d9811a" stroke-width="0.5"/>
<rect x="122.36" y="300.73" width="4.94" height="4.94" fill="#f5a31f" stroke="#d9811a" stroke-width="0.5"/>
<rect x="139.24" y="285.43" width="4.94" height="4.94" fill="#f5a31f" stroke="#d9811a" stroke-width="0.5"/>
<rect x="143.66" y="282.03" width="4.94" height="4.94" fill="#f5a31f" stroke="#d9811a" stroke-width="0.5"/>
<rect x="171.00" y="270.83" width="4.94" height="4.94" fill="#f5a31f" stroke="#d9811a" stroke-width="0.5"/>
<rect x="178.64" y="263.03" width="4.94" height="4.94" fill="#f5a31f" stroke="#d9811a" stroke-width="0.5"/>
<text x="223.80" y="234.60" font-size="12.5" font-weight="bold" fill="#231f20" stroke="#231f20" stroke-width="0.22">c</text>
<text x="334.40" y="248.80" font-size="10.7" text-anchor="middle" fill="#231f20" stroke="#231f20" stroke-width="0.22">Fluorescence emission v. permittivity</text>
<line x1="264.60" y1="263.60" x2="264.60" y2="361.80" stroke="#231f20" stroke-width="1.3"/>
<line x1="264.00" y1="361.20" x2="403.80" y2="361.20" stroke="#231f20" stroke-width="1.3"/>
<line x1="261.40" y1="350.40" x2="264.60" y2="350.40" stroke="#231f20" stroke-width="1"/>
<text x="258.60" y="353.90" font-size="9.6" text-anchor="end" fill="#231f20" stroke="#231f20" stroke-width="0.22">1.4×10<tspan dy="-2.9" font-size="6.4">4</tspan></text>
<line x1="261.40" y1="328.70" x2="264.60" y2="328.70" stroke="#231f20" stroke-width="1"/>
<text x="258.60" y="332.20" font-size="9.6" text-anchor="end" fill="#231f20" stroke="#231f20" stroke-width="0.22">1.6×10<tspan dy="-2.9" font-size="6.4">4</tspan></text>
<line x1="261.40" y1="307.00" x2="264.60" y2="307.00" stroke="#231f20" stroke-width="1"/>
<text x="258.60" y="310.50" font-size="9.6" text-anchor="end" fill="#231f20" stroke="#231f20" stroke-width="0.22">1.8×10<tspan dy="-2.9" font-size="6.4">4</tspan></text>
<line x1="261.40" y1="285.30" x2="264.60" y2="285.30" stroke="#231f20" stroke-width="1"/>
<text x="258.60" y="288.80" font-size="9.6" text-anchor="end" fill="#231f20" stroke="#231f20" stroke-width="0.22">2.0×10<tspan dy="-2.9" font-size="6.4">4</tspan></text>
<line x1="261.40" y1="263.60" x2="264.60" y2="263.60" stroke="#231f20" stroke-width="1"/>
<text x="258.60" y="267.10" font-size="9.6" text-anchor="end" fill="#231f20" stroke="#231f20" stroke-width="0.22">2.2×10<tspan dy="-2.9" font-size="6.4">4</tspan></text>
<line x1="264.60" y1="361.20" x2="264.60" y2="364.40" stroke="#231f20" stroke-width="1"/>
<text x="264.60" y="373.00" font-size="9.6" text-anchor="middle" fill="#231f20" stroke="#231f20" stroke-width="0.22">0.2</text>
<line x1="308.10" y1="361.20" x2="308.10" y2="364.40" stroke="#231f20" stroke-width="1"/>
<text x="308.10" y="373.00" font-size="9.6" text-anchor="middle" fill="#231f20" stroke="#231f20" stroke-width="0.22">0.3</text>
<line x1="351.60" y1="361.20" x2="351.60" y2="364.40" stroke="#231f20" stroke-width="1"/>
<text x="351.60" y="373.00" font-size="9.6" text-anchor="middle" fill="#231f20" stroke="#231f20" stroke-width="0.22">0.4</text>
<line x1="395.10" y1="361.20" x2="395.10" y2="364.40" stroke="#231f20" stroke-width="1"/>
<text x="395.10" y="373.00" font-size="9.6" text-anchor="middle" fill="#231f20" stroke="#231f20" stroke-width="0.22">0.5</text>
<text x="334.70" y="389.00" font-size="10.6" text-anchor="middle" fill="#231f20" stroke="#231f20" stroke-width="0.22">Solvent f(ε)</text>
<text x="216.20" y="312.30" font-size="11.3" text-anchor="middle" fill="#231f20" stroke="#231f20" stroke-width="0.22" transform="rotate(-90 216.2 312.3)">ν̄<tspan dy="2.6" font-size="8.2">em</tspan><tspan dy="-2.6"> (cm</tspan><tspan dy="-3.7" font-size="7.2">-1</tspan><tspan dy="3.7">)</tspan></text>
<line x1="282.00" y1="266.10" x2="386.40" y2="281.50" stroke="#231f20" stroke-width="1.2"/>
<line x1="282.00" y1="290.70" x2="386.40" y2="316.30" stroke="#2e6a1c" stroke-width="1.2"/>
<line x1="282.00" y1="298.20" x2="386.40" y2="334.40" stroke="#a0582a" stroke-width="1.2"/>
<line x1="282.00" y1="315.00" x2="386.40" y2="344.20" stroke="#b8282a" stroke-width="1.2"/>
<line x1="282.00" y1="318.60" x2="386.40" y2="345.60" stroke="#1f5fa5" stroke-width="1.2"/>
<line x1="379.88" y1="277.50" x2="379.88" y2="283.50" stroke="#231f20" stroke-width="0.8"/>
<line x1="377.88" y1="277.50" x2="381.88" y2="277.50" stroke="#231f20" stroke-width="0.8"/>
<line x1="377.88" y1="283.50" x2="381.88" y2="283.50" stroke="#231f20" stroke-width="0.8"/>
<path d="M282.00,265.50 L284.60,268.10 L282.00,270.70 L279.40,268.10 Z" fill="#ffffff" stroke="#231f20" stroke-width="0.8"/>
<path d="M326.81,264.90 L329.41,267.50 L326.81,270.10 L324.20,267.50 Z" fill="#ffffff" stroke="#231f20" stroke-width="0.8"/>
<path d="M326.81,271.40 L329.41,274.00 L326.81,276.60 L324.20,274.00 Z" fill="#ffffff" stroke="#231f20" stroke-width="0.8"/>
<path d="M353.78,271.40 L356.38,274.00 L353.78,276.60 L351.18,274.00 Z" fill="#ffffff" stroke="#231f20" stroke-width="0.8"/>
<path d="M360.30,276.10 L362.90,278.70 L360.30,281.30 L357.70,278.70 Z" fill="#ffffff" stroke="#231f20" stroke-width="0.8"/>
<path d="M379.88,278.00 L382.48,280.60 L379.88,283.20 L377.27,280.60 Z" fill="#ffffff" stroke="#231f20" stroke-width="0.8"/>
<path d="M386.40,279.40 L389.00,282.00 L386.40,284.60 L383.80,282.00 Z" fill="#ffffff" stroke="#231f20" stroke-width="0.8"/>
<rect x="279.53" y="298.53" width="4.94" height="4.94" fill="#f5a31f" stroke="#d9811a" stroke-width="0.5"/>
<rect x="324.33" y="303.53" width="4.94" height="4.94" fill="#f5a31f" stroke="#d9811a" stroke-width="0.5"/>
<rect x="324.33" y="313.33" width="4.94" height="4.94" fill="#f5a31f" stroke="#d9811a" stroke-width="0.5"/>
<rect x="351.31" y="317.23" width="4.94" height="4.94" fill="#f5a31f" stroke="#d9811a" stroke-width="0.5"/>
<rect x="357.83" y="323.03" width="4.94" height="4.94" fill="#f5a31f" stroke="#d9811a" stroke-width="0.5"/>
<rect x="377.40" y="329.23" width="4.94" height="4.94" fill="#f5a31f" stroke="#d9811a" stroke-width="0.5"/>
<rect x="383.93" y="335.63" width="4.94" height="4.94" fill="#f5a31f" stroke="#d9811a" stroke-width="0.5"/>
<circle cx="282.00" cy="294.00" r="2.47" fill="#52942c" stroke="#3f7d22" stroke-width="0.5"/>
<circle cx="326.81" cy="294.90" r="2.47" fill="#52942c" stroke="#3f7d22" stroke-width="0.5"/>
<circle cx="326.81" cy="304.60" r="2.47" fill="#52942c" stroke="#3f7d22" stroke-width="0.5"/>
<circle cx="353.78" cy="305.20" r="2.47" fill="#52942c" stroke="#3f7d22" stroke-width="0.5"/>
<circle cx="360.30" cy="309.90" r="2.47" fill="#52942c" stroke="#3f7d22" stroke-width="0.5"/>
<circle cx="379.88" cy="314.90" r="2.47" fill="#52942c" stroke="#3f7d22" stroke-width="0.5"/>
<circle cx="386.40" cy="320.50" r="2.47" fill="#52942c" stroke="#3f7d22" stroke-width="0.5"/>
<path d="M282.00,324.63 L284.60,319.95 L279.40,319.95 Z" fill="#2d86d6" stroke="#2470b8" stroke-width="0.5"/>
<path d="M326.81,326.53 L329.41,321.85 L324.20,321.85 Z" fill="#2d86d6" stroke="#2470b8" stroke-width="0.5"/>
<path d="M326.81,336.33 L329.41,331.65 L324.20,331.65 Z" fill="#2d86d6" stroke="#2470b8" stroke-width="0.5"/>
<path d="M353.78,339.13 L356.38,334.45 L351.18,334.45 Z" fill="#2d86d6" stroke="#2470b8" stroke-width="0.5"/>
<path d="M360.30,344.13 L362.90,339.45 L357.70,339.45 Z" fill="#2d86d6" stroke="#2470b8" stroke-width="0.5"/>
<path d="M379.88,348.33 L382.48,343.65 L377.27,343.65 Z" fill="#2d86d6" stroke="#2470b8" stroke-width="0.5"/>
<path d="M386.40,350.23 L389.00,345.55 L383.80,345.55 Z" fill="#2d86d6" stroke="#2470b8" stroke-width="0.5"/>
<path d="M282.00,315.87 L284.60,320.55 L279.40,320.55 Z" fill="#d8312c" stroke="#c0282a" stroke-width="0.5"/>
<path d="M326.81,318.27 L329.41,322.95 L324.20,322.95 Z" fill="#d8312c" stroke="#c0282a" stroke-width="0.5"/>
<path d="M326.81,327.57 L329.41,332.25 L324.20,332.25 Z" fill="#d8312c" stroke="#c0282a" stroke-width="0.5"/>
<path d="M353.78,329.77 L356.38,334.45 L351.18,334.45 Z" fill="#d8312c" stroke="#c0282a" stroke-width="0.5"/>
<path d="M360.30,335.27 L362.90,339.95 L357.70,339.95 Z" fill="#d8312c" stroke="#c0282a" stroke-width="0.5"/>
<path d="M379.88,339.47 L382.48,344.15 L377.27,344.15 Z" fill="#d8312c" stroke="#c0282a" stroke-width="0.5"/>
<path d="M386.40,344.77 L389.00,349.45 L383.80,349.45 Z" fill="#d8312c" stroke="#c0282a" stroke-width="0.5"/>
<text x="425.90" y="234.20" font-size="12.5" font-weight="bold" fill="#231f20" stroke="#231f20" stroke-width="0.22">d</text>
<text x="545.00" y="243.00" font-size="10.9" text-anchor="middle" fill="#231f20" stroke="#231f20" stroke-width="0.22">Solvatochromism Correlation Values</text>
<text x="544.30" y="254.50" font-size="10.9" text-anchor="middle" fill="#231f20" stroke="#231f20" stroke-width="0.22">(Slopes of Lippert-Mataga plots)</text>
<text x="421.90" y="274.00" font-size="9.3" fill="#231f20" stroke="#231f20" stroke-width="0.22" word-spacing="-0.8">AACA Probe</text>
<text x="483.90" y="274.00" font-size="9.35" fill="#231f20" stroke="#231f20" stroke-width="0.22">Stokes shift v. Δf(ε,n)</text>
<text x="592.50" y="274.00" font-size="9.4" fill="#231f20" stroke="#231f20" stroke-width="0.22">Emission v. f(ε)</text>
<line x1="417.20" y1="280.30" x2="672.30" y2="280.30" stroke="#231f20" stroke-width="1.1"/>
<line x1="427.00" y1="290.70" x2="439.50" y2="290.70" stroke="#231f20" stroke-width="1.2"/>
<path d="M433.20,288.40 L435.50,290.70 L433.20,293.00 L430.90,290.70 Z" fill="#ffffff" stroke="#231f20" stroke-width="0.8"/>
<text x="445.20" y="294.00" font-size="9.6" fill="#231f20" stroke="#231f20" stroke-width="0.22">1</text>
<text x="483.90" y="294.00" font-size="9.45" fill="#231f20" stroke="#231f20" stroke-width="0.22">3814 <tspan font-size="7">±</tspan> 557 (0.90)</text>
<text x="580.20" y="294.00" font-size="9.45" fill="#231f20" stroke="#231f20" stroke-width="0.22">-5649 <tspan font-size="7">±</tspan> 1182 (0.82)</text>
<line x1="427.00" y1="310.20" x2="439.50" y2="310.20" stroke="#2e6a1c" stroke-width="1.2"/>
<circle cx="433.20" cy="310.20" r="2.18" fill="#52942c" stroke="#3f7d22" stroke-width="0.5"/>
<text x="445.20" y="313.50" font-size="9.6" fill="#231f20" stroke="#231f20" stroke-width="0.22">2</text>
<text x="483.90" y="313.50" font-size="9.45" fill="#231f20" stroke="#231f20" stroke-width="0.22">6443 <tspan font-size="7">±</tspan> 1122 (0.87)</text>
<text x="580.20" y="313.50" font-size="9.45" fill="#231f20" stroke="#231f20" stroke-width="0.22">-9917 <tspan font-size="7">±</tspan> 1927 (0.84)</text>
<line x1="427.00" y1="329.70" x2="439.50" y2="329.70" stroke="#a0582a" stroke-width="1.2"/>
<rect x="431.01" y="327.51" width="4.37" height="4.37" fill="#f5a31f" stroke="#d9811a" stroke-width="0.5"/>
<text x="445.20" y="333.00" font-size="9.6" fill="#231f20" stroke="#231f20" stroke-width="0.22">3</text>
<text x="483.90" y="333.00" font-size="9.45" fill="#231f20" stroke="#231f20" stroke-width="0.22">11535 <tspan font-size="7">±</tspan> 1627 (0.91)</text>
<text x="580.20" y="333.00" font-size="9.45" fill="#231f20" stroke="#231f20" stroke-width="0.22">-14107 <tspan font-size="7">±</tspan> 2074 (0.90)</text>
<line x1="427.00" y1="349.20" x2="439.50" y2="349.20" stroke="#b8282a" stroke-width="1.2"/>
<path d="M433.20,346.78 L435.50,350.93 L430.90,350.93 Z" fill="#d8312c" stroke="#c0282a" stroke-width="0.5"/>
<text x="445.20" y="352.50" font-size="9.6" fill="#231f20" stroke="#231f20" stroke-width="0.22">4</text>
<text x="483.90" y="352.50" font-size="9.45" fill="#231f20" stroke="#231f20" stroke-width="0.22">9152 <tspan font-size="7">±</tspan> 1101 (0.93)</text>
<text x="580.20" y="352.50" font-size="9.45" fill="#231f20" stroke="#231f20" stroke-width="0.22">-10893 <tspan font-size="7">±</tspan> 1725 (0.89)</text>
<line x1="427.00" y1="368.70" x2="439.50" y2="368.70" stroke="#1f5fa5" stroke-width="1.2"/>
<path d="M433.20,371.12 L435.50,366.97 L430.90,366.97 Z" fill="#2d86d6" stroke="#2470b8" stroke-width="0.5"/>
<text x="445.20" y="372.00" font-size="9.6" fill="#231f20" stroke="#231f20" stroke-width="0.22">5</text>
<text x="483.90" y="372.00" font-size="9.45" fill="#231f20" stroke="#231f20" stroke-width="0.22">8699 <tspan font-size="7">±</tspan> 1032 (0.93)</text>
<text x="580.20" y="372.00" font-size="9.45" fill="#231f20" stroke="#231f20" stroke-width="0.22">-10256 <tspan font-size="7">±</tspan> 1671 (0.88)</text>
</svg>
</body></html>
